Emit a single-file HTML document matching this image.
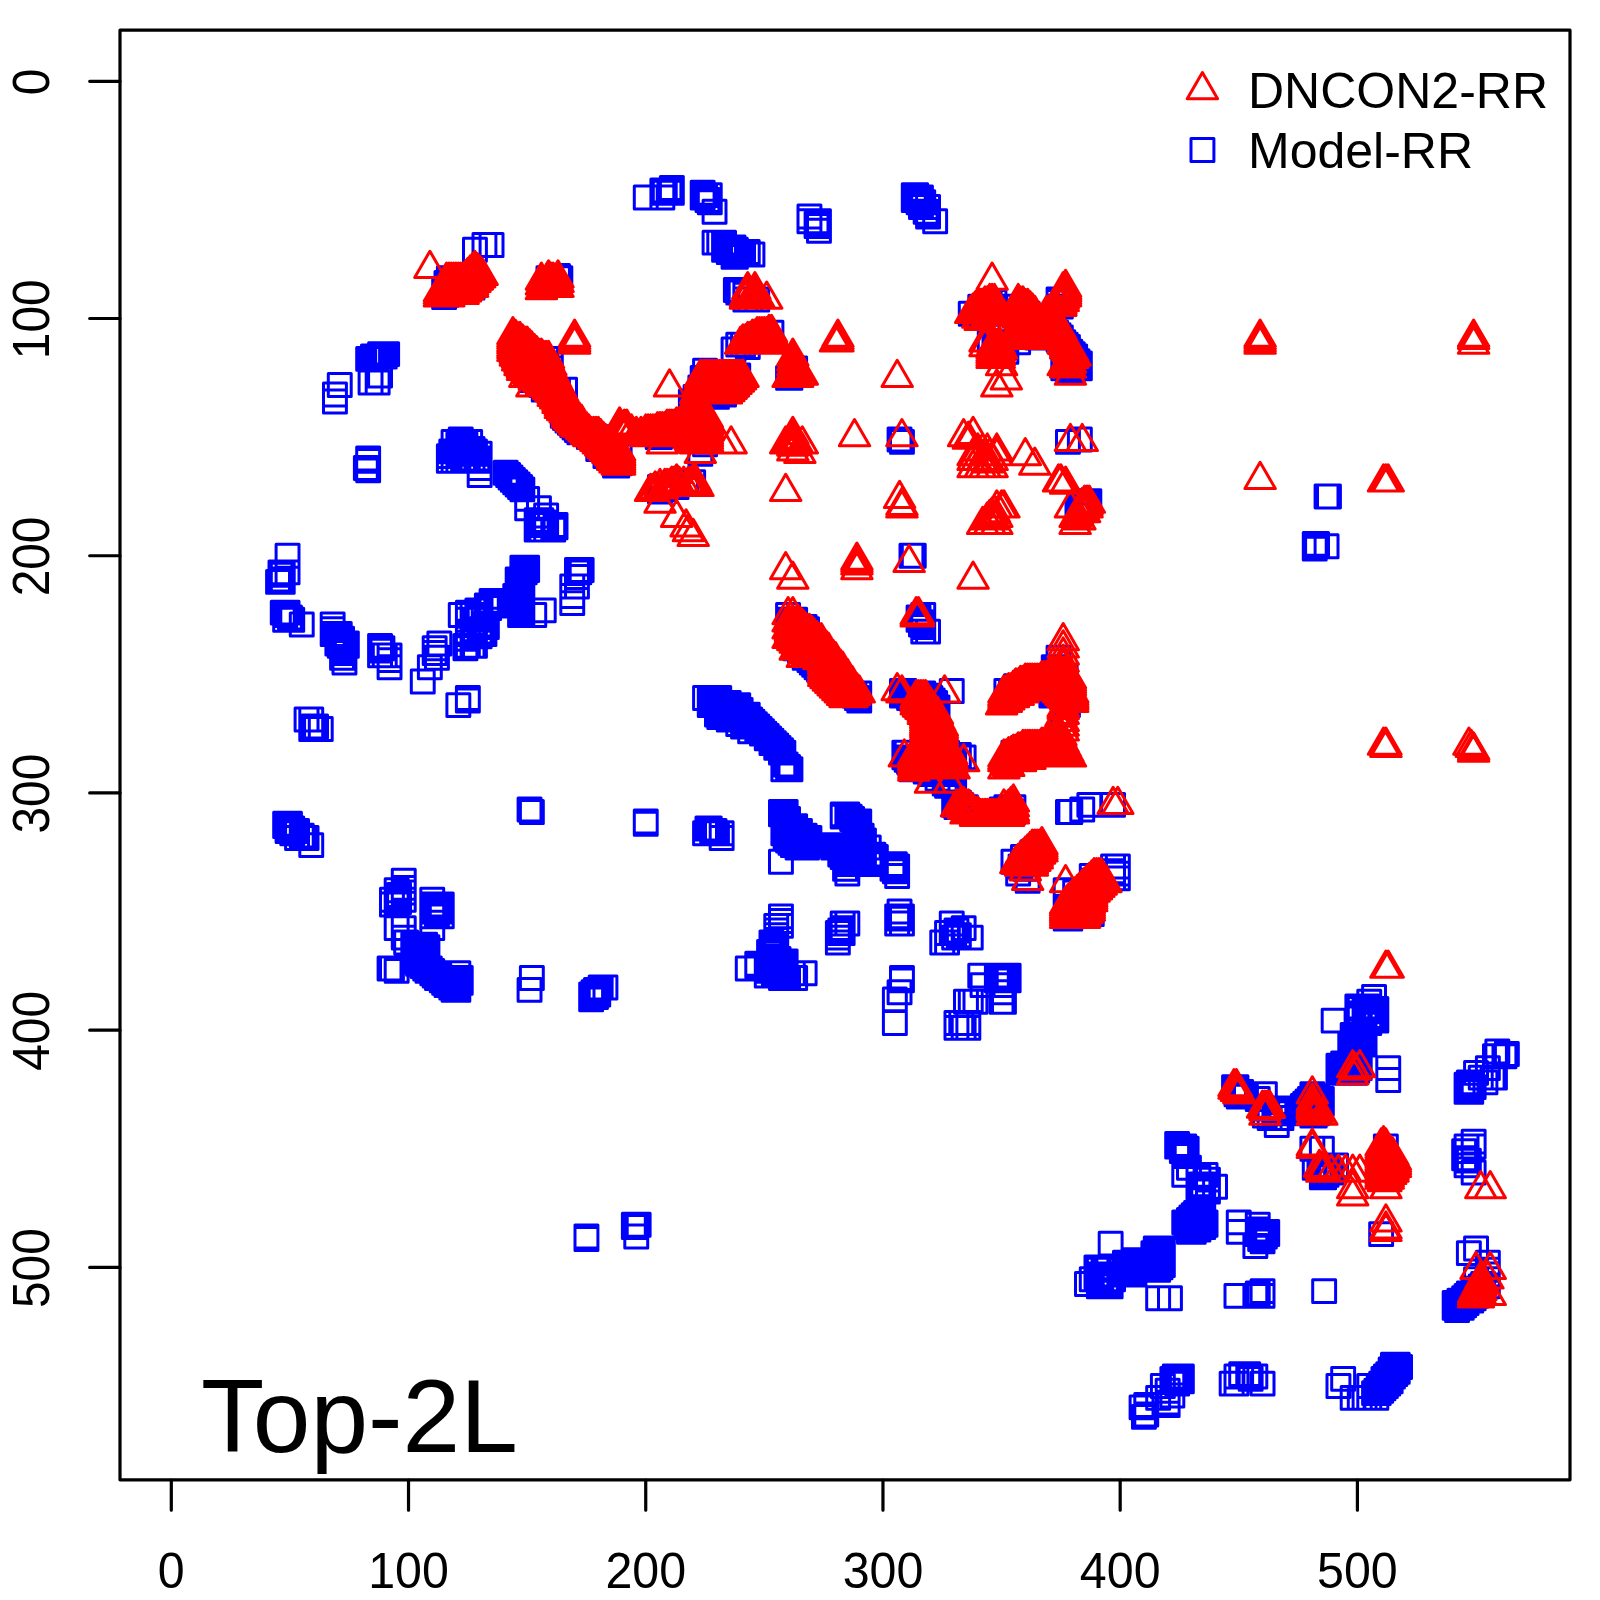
<!DOCTYPE html>
<html><head><meta charset="utf-8"><title>Top-2L</title>
<style>
html,body{margin:0;padding:0;background:#fff;}
body{width:1600px;height:1600px;overflow:hidden;font-family:"Liberation Sans",sans-serif;}
svg{display:block;}
text{font-family:"Liberation Sans",sans-serif;fill:#000;}
</style></head><body>
<svg width="1600" height="1600" viewBox="0 0 1600 1600">
<rect x="0" y="0" width="1600" height="1600" fill="#fff"/>

<g fill="none" stroke-width="3" stroke-linejoin="round" stroke-linecap="round">
<path stroke="#0000ff" d="M266.6 570.4h22.9v22.9h-22.9zM269 560.9h22.9v22.9h-22.9zM269 568h22.9v22.9h-22.9zM269 570.4h22.9v22.9h-22.9zM271.3 563.3h22.9v22.9h-22.9zM271.3 570.4h22.9v22.9h-22.9zM271.3 601.2h22.9v22.9h-22.9zM273.7 603.6h22.9v22.9h-22.9zM273.7 608.3h22.9v22.9h-22.9zM273.7 812.3h22.9v22.9h-22.9zM273.7 814.7h22.9v22.9h-22.9zM276.1 544.3h22.9v22.9h-22.9zM276.1 560.9h22.9v22.9h-22.9zM276.1 601.2h22.9v22.9h-22.9zM276.1 812.3h22.9v22.9h-22.9zM276.1 817.1h22.9v22.9h-22.9zM276.1 819.5h22.9v22.9h-22.9zM278.5 606h22.9v22.9h-22.9zM278.5 812.3h22.9v22.9h-22.9zM278.5 814.7h22.9v22.9h-22.9zM280.8 608.3h22.9v22.9h-22.9zM280.8 817.1h22.9v22.9h-22.9zM280.8 821.8h22.9v22.9h-22.9zM283.2 819.5h22.9v22.9h-22.9zM285.6 819.5h22.9v22.9h-22.9zM285.6 826.6h22.9v22.9h-22.9zM290.3 613.1h22.9v22.9h-22.9zM290.3 824.2h22.9v22.9h-22.9zM292.7 826.6h22.9v22.9h-22.9zM295.1 708h22.9v22.9h-22.9zM295.1 826.6h22.9v22.9h-22.9zM299.8 708h22.9v22.9h-22.9zM299.8 717.5h22.9v22.9h-22.9zM299.8 833.7h22.9v22.9h-22.9zM302.2 715.1h22.9v22.9h-22.9zM304.6 715.1h22.9v22.9h-22.9zM309.3 717.5h22.9v22.9h-22.9zM321.2 613.1h22.9v22.9h-22.9zM321.2 617.8h22.9v22.9h-22.9zM321.2 622.6h22.9v22.9h-22.9zM323.5 383h22.9v22.9h-22.9zM323.5 390.1h22.9v22.9h-22.9zM323.5 622.6h22.9v22.9h-22.9zM325.9 624.9h22.9v22.9h-22.9zM325.9 632.1h22.9v22.9h-22.9zM328.3 373.5h22.9v22.9h-22.9zM328.3 622.6h22.9v22.9h-22.9zM328.3 629.7h22.9v22.9h-22.9zM328.3 634.4h22.9v22.9h-22.9zM330.6 627.3h22.9v22.9h-22.9zM330.6 632.1h22.9v22.9h-22.9zM330.6 636.8h22.9v22.9h-22.9zM330.6 641.6h22.9v22.9h-22.9zM330.6 646.3h22.9v22.9h-22.9zM333 632.1h22.9v22.9h-22.9zM333 639.2h22.9v22.9h-22.9zM333 646.3h22.9v22.9h-22.9zM333 651h22.9v22.9h-22.9zM335.4 632.1h22.9v22.9h-22.9zM335.4 634.4h22.9v22.9h-22.9zM354.4 456.5h22.9v22.9h-22.9zM356.7 347.4h22.9v22.9h-22.9zM356.7 447h22.9v22.9h-22.9zM356.7 449.4h22.9v22.9h-22.9zM356.7 458.9h22.9v22.9h-22.9zM359.1 347.4h22.9v22.9h-22.9zM359.1 371.1h22.9v22.9h-22.9zM361.5 345h22.9v22.9h-22.9zM363.9 345h22.9v22.9h-22.9zM363.9 347.4h22.9v22.9h-22.9zM366.2 345h22.9v22.9h-22.9zM366.2 371.1h22.9v22.9h-22.9zM368.6 342.7h22.9v22.9h-22.9zM368.6 345h22.9v22.9h-22.9zM368.6 364h22.9v22.9h-22.9zM368.6 634.4h22.9v22.9h-22.9zM368.6 639.2h22.9v22.9h-22.9zM368.6 643.9h22.9v22.9h-22.9zM371 342.7h22.9v22.9h-22.9zM371 636.8h22.9v22.9h-22.9zM373.3 342.7h22.9v22.9h-22.9zM373.3 345h22.9v22.9h-22.9zM373.3 643.9h22.9v22.9h-22.9zM375.7 342.7h22.9v22.9h-22.9zM378.1 643.9h22.9v22.9h-22.9zM378.1 648.7h22.9v22.9h-22.9zM378.1 655.8h22.9v22.9h-22.9zM378.1 957.1h22.9v22.9h-22.9zM380.5 888.3h22.9v22.9h-22.9zM380.5 893h22.9v22.9h-22.9zM380.5 957.1h22.9v22.9h-22.9zM385.2 878.8h22.9v22.9h-22.9zM385.2 885.9h22.9v22.9h-22.9zM385.2 893h22.9v22.9h-22.9zM385.2 916.7h22.9v22.9h-22.9zM385.2 959.4h22.9v22.9h-22.9zM387.6 883.5h22.9v22.9h-22.9zM387.6 890.6h22.9v22.9h-22.9zM392.3 869.3h22.9v22.9h-22.9zM392.3 876.4h22.9v22.9h-22.9zM392.3 881.1h22.9v22.9h-22.9zM392.3 888.3h22.9v22.9h-22.9zM392.3 916.7h22.9v22.9h-22.9zM392.3 926.2h22.9v22.9h-22.9zM394.7 931h22.9v22.9h-22.9zM401.8 933.3h22.9v22.9h-22.9zM401.8 935.7h22.9v22.9h-22.9zM401.8 938.1h22.9v22.9h-22.9zM401.8 940.4h22.9v22.9h-22.9zM401.8 942.8h22.9v22.9h-22.9zM401.8 945.2h22.9v22.9h-22.9zM401.8 947.6h22.9v22.9h-22.9zM401.8 949.9h22.9v22.9h-22.9zM404.2 933.3h22.9v22.9h-22.9zM404.2 935.7h22.9v22.9h-22.9zM404.2 938.1h22.9v22.9h-22.9zM404.2 940.4h22.9v22.9h-22.9zM404.2 945.2h22.9v22.9h-22.9zM406.6 933.3h22.9v22.9h-22.9zM406.6 940.4h22.9v22.9h-22.9zM406.6 942.8h22.9v22.9h-22.9zM406.6 945.2h22.9v22.9h-22.9zM406.6 947.6h22.9v22.9h-22.9zM406.6 949.9h22.9v22.9h-22.9zM406.6 952.3h22.9v22.9h-22.9zM408.9 933.3h22.9v22.9h-22.9zM408.9 935.7h22.9v22.9h-22.9zM408.9 938.1h22.9v22.9h-22.9zM408.9 942.8h22.9v22.9h-22.9zM408.9 945.2h22.9v22.9h-22.9zM408.9 947.6h22.9v22.9h-22.9zM408.9 952.3h22.9v22.9h-22.9zM411.3 670h22.9v22.9h-22.9zM411.3 933.3h22.9v22.9h-22.9zM411.3 935.7h22.9v22.9h-22.9zM411.3 945.2h22.9v22.9h-22.9zM411.3 947.6h22.9v22.9h-22.9zM411.3 949.9h22.9v22.9h-22.9zM411.3 952.3h22.9v22.9h-22.9zM411.3 954.7h22.9v22.9h-22.9zM413.7 933.3h22.9v22.9h-22.9zM413.7 935.7h22.9v22.9h-22.9zM413.7 938.1h22.9v22.9h-22.9zM413.7 940.4h22.9v22.9h-22.9zM413.7 945.2h22.9v22.9h-22.9zM413.7 949.9h22.9v22.9h-22.9zM413.7 952.3h22.9v22.9h-22.9zM413.7 954.7h22.9v22.9h-22.9zM413.7 957.1h22.9v22.9h-22.9zM416 935.7h22.9v22.9h-22.9zM416 940.4h22.9v22.9h-22.9zM416 942.8h22.9v22.9h-22.9zM416 945.2h22.9v22.9h-22.9zM416 947.6h22.9v22.9h-22.9zM416 949.9h22.9v22.9h-22.9zM416 952.3h22.9v22.9h-22.9zM416 954.7h22.9v22.9h-22.9zM416 957.1h22.9v22.9h-22.9zM416 959.4h22.9v22.9h-22.9zM418.4 655.8h22.9v22.9h-22.9zM418.4 957.1h22.9v22.9h-22.9zM420.8 888.3h22.9v22.9h-22.9zM420.8 893h22.9v22.9h-22.9zM420.8 904.9h22.9v22.9h-22.9zM420.8 916.7h22.9v22.9h-22.9zM420.8 959.4h22.9v22.9h-22.9zM420.8 961.8h22.9v22.9h-22.9zM423.2 636.8h22.9v22.9h-22.9zM423.2 641.6h22.9v22.9h-22.9zM423.2 895.4h22.9v22.9h-22.9zM423.2 900.1h22.9v22.9h-22.9zM423.2 961.8h22.9v22.9h-22.9zM423.2 964.2h22.9v22.9h-22.9zM425.5 646.3h22.9v22.9h-22.9zM425.5 893h22.9v22.9h-22.9zM425.5 902.5h22.9v22.9h-22.9zM425.5 961.8h22.9v22.9h-22.9zM425.5 964.2h22.9v22.9h-22.9zM425.5 966.5h22.9v22.9h-22.9zM427.9 632.1h22.9v22.9h-22.9zM427.9 895.4h22.9v22.9h-22.9zM427.9 900.1h22.9v22.9h-22.9zM427.9 964.2h22.9v22.9h-22.9zM427.9 966.5h22.9v22.9h-22.9zM430.3 893h22.9v22.9h-22.9zM430.3 897.7h22.9v22.9h-22.9zM430.3 904.9h22.9v22.9h-22.9zM430.3 966.5h22.9v22.9h-22.9zM430.3 968.9h22.9v22.9h-22.9zM432.7 278.6h22.9v22.9h-22.9zM432.7 281h22.9v22.9h-22.9zM432.7 283.3h22.9v22.9h-22.9zM432.7 285.7h22.9v22.9h-22.9zM432.7 968.9h22.9v22.9h-22.9zM432.7 971.3h22.9v22.9h-22.9zM435 271.5h22.9v22.9h-22.9zM435 273.9h22.9v22.9h-22.9zM435 276.2h22.9v22.9h-22.9zM435 278.6h22.9v22.9h-22.9zM435 283.3h22.9v22.9h-22.9zM435 968.9h22.9v22.9h-22.9zM435 971.3h22.9v22.9h-22.9zM435 973.7h22.9v22.9h-22.9zM437.4 266.7h22.9v22.9h-22.9zM437.4 269.1h22.9v22.9h-22.9zM437.4 273.9h22.9v22.9h-22.9zM437.4 444.7h22.9v22.9h-22.9zM437.4 449.4h22.9v22.9h-22.9zM437.4 971.3h22.9v22.9h-22.9zM437.4 973.7h22.9v22.9h-22.9zM439.8 439.9h22.9v22.9h-22.9zM439.8 973.7h22.9v22.9h-22.9zM439.8 976h22.9v22.9h-22.9zM442.1 430.4h22.9v22.9h-22.9zM442.1 449.4h22.9v22.9h-22.9zM442.1 976h22.9v22.9h-22.9zM442.1 978.4h22.9v22.9h-22.9zM444.5 439.9h22.9v22.9h-22.9zM444.5 971.3h22.9v22.9h-22.9zM444.5 976h22.9v22.9h-22.9zM444.5 978.4h22.9v22.9h-22.9zM446.9 432.8h22.9v22.9h-22.9zM446.9 442.3h22.9v22.9h-22.9zM446.9 449.4h22.9v22.9h-22.9zM446.9 693.7h22.9v22.9h-22.9zM446.9 961.8h22.9v22.9h-22.9zM446.9 966.5h22.9v22.9h-22.9zM446.9 973.7h22.9v22.9h-22.9zM446.9 978.4h22.9v22.9h-22.9zM449.3 428.1h22.9v22.9h-22.9zM449.3 439.9h22.9v22.9h-22.9zM449.3 603.6h22.9v22.9h-22.9zM449.3 966.5h22.9v22.9h-22.9zM449.3 968.9h22.9v22.9h-22.9zM449.3 971.3h22.9v22.9h-22.9zM451.6 430.4h22.9v22.9h-22.9zM451.6 432.8h22.9v22.9h-22.9zM451.6 437.5h22.9v22.9h-22.9zM451.6 447h22.9v22.9h-22.9zM454 278.6h22.9v22.9h-22.9zM454 432.8h22.9v22.9h-22.9zM454 435.2h22.9v22.9h-22.9zM454 442.3h22.9v22.9h-22.9zM454 447h22.9v22.9h-22.9zM454 449.4h22.9v22.9h-22.9zM454 634.4h22.9v22.9h-22.9zM454 636.8h22.9v22.9h-22.9zM456.4 439.9h22.9v22.9h-22.9zM456.4 447h22.9v22.9h-22.9zM456.4 601.2h22.9v22.9h-22.9zM456.4 608.3h22.9v22.9h-22.9zM456.4 620.2h22.9v22.9h-22.9zM456.4 622.6h22.9v22.9h-22.9zM456.4 627.3h22.9v22.9h-22.9zM456.4 634.4h22.9v22.9h-22.9zM456.4 686.6h22.9v22.9h-22.9zM456.4 689h22.9v22.9h-22.9zM458.7 430.4h22.9v22.9h-22.9zM458.7 437.5h22.9v22.9h-22.9zM461.1 269.1h22.9v22.9h-22.9zM461.1 276.2h22.9v22.9h-22.9zM461.1 437.5h22.9v22.9h-22.9zM461.1 442.3h22.9v22.9h-22.9zM461.1 447h22.9v22.9h-22.9zM461.1 603.6h22.9v22.9h-22.9zM461.1 620.2h22.9v22.9h-22.9zM461.1 634.4h22.9v22.9h-22.9zM463.5 238.3h22.9v22.9h-22.9zM463.5 439.9h22.9v22.9h-22.9zM463.5 608.3h22.9v22.9h-22.9zM463.5 617.8h22.9v22.9h-22.9zM463.5 622.6h22.9v22.9h-22.9zM463.5 624.9h22.9v22.9h-22.9zM463.5 634.4h22.9v22.9h-22.9zM465.9 447h22.9v22.9h-22.9zM465.9 598.9h22.9v22.9h-22.9zM465.9 603.6h22.9v22.9h-22.9zM465.9 608.3h22.9v22.9h-22.9zM468.2 442.3h22.9v22.9h-22.9zM468.2 449.4h22.9v22.9h-22.9zM468.2 456.5h22.9v22.9h-22.9zM468.2 463.6h22.9v22.9h-22.9zM468.2 606h22.9v22.9h-22.9zM468.2 622.6h22.9v22.9h-22.9zM468.2 624.9h22.9v22.9h-22.9zM470.6 620.2h22.9v22.9h-22.9zM473 233.5h22.9v22.9h-22.9zM473 613.1h22.9v22.9h-22.9zM473 615.5h22.9v22.9h-22.9zM473 622.6h22.9v22.9h-22.9zM475.4 594.1h22.9v22.9h-22.9zM475.4 608.3h22.9v22.9h-22.9zM475.4 615.5h22.9v22.9h-22.9zM477.7 596.5h22.9v22.9h-22.9zM480.1 233.5h22.9v22.9h-22.9zM480.1 589.4h22.9v22.9h-22.9zM480.1 591.7h22.9v22.9h-22.9zM480.1 594.1h22.9v22.9h-22.9zM484.8 589.4h22.9v22.9h-22.9zM484.8 594.1h22.9v22.9h-22.9zM487.2 591.7h22.9v22.9h-22.9zM489.6 589.4h22.9v22.9h-22.9zM489.6 594.1h22.9v22.9h-22.9zM492 589.4h22.9v22.9h-22.9zM494.3 461.3h22.9v22.9h-22.9zM496.7 463.6h22.9v22.9h-22.9zM499.1 466h22.9v22.9h-22.9zM501.4 468.4h22.9v22.9h-22.9zM503.8 470.8h22.9v22.9h-22.9zM503.8 584.6h22.9v22.9h-22.9zM503.8 587h22.9v22.9h-22.9zM503.8 589.4h22.9v22.9h-22.9zM506.2 473.1h22.9v22.9h-22.9zM506.2 568h22.9v22.9h-22.9zM506.2 570.4h22.9v22.9h-22.9zM506.2 572.8h22.9v22.9h-22.9zM506.2 575.1h22.9v22.9h-22.9zM506.2 577.5h22.9v22.9h-22.9zM506.2 579.9h22.9v22.9h-22.9zM506.2 582.2h22.9v22.9h-22.9zM506.2 584.6h22.9v22.9h-22.9zM508.6 475.5h22.9v22.9h-22.9zM508.6 587h22.9v22.9h-22.9zM508.6 589.4h22.9v22.9h-22.9zM508.6 591.7h22.9v22.9h-22.9zM508.6 594.1h22.9v22.9h-22.9zM508.6 596.5h22.9v22.9h-22.9zM508.6 598.9h22.9v22.9h-22.9zM508.6 601.2h22.9v22.9h-22.9zM508.6 603.6h22.9v22.9h-22.9zM510.9 477.9h22.9v22.9h-22.9zM510.9 556.2h22.9v22.9h-22.9zM510.9 558.5h22.9v22.9h-22.9zM510.9 560.9h22.9v22.9h-22.9zM510.9 563.3h22.9v22.9h-22.9zM510.9 565.6h22.9v22.9h-22.9zM510.9 568h22.9v22.9h-22.9zM510.9 570.4h22.9v22.9h-22.9zM510.9 572.8h22.9v22.9h-22.9zM510.9 575.1h22.9v22.9h-22.9zM510.9 577.5h22.9v22.9h-22.9zM510.9 579.9h22.9v22.9h-22.9zM510.9 582.2h22.9v22.9h-22.9zM510.9 584.6h22.9v22.9h-22.9zM510.9 587h22.9v22.9h-22.9zM510.9 589.4h22.9v22.9h-22.9zM510.9 591.7h22.9v22.9h-22.9zM510.9 594.1h22.9v22.9h-22.9zM510.9 596.5h22.9v22.9h-22.9zM510.9 598.9h22.9v22.9h-22.9zM510.9 601.2h22.9v22.9h-22.9zM510.9 603.6h22.9v22.9h-22.9zM513.3 556.2h22.9v22.9h-22.9zM513.3 558.5h22.9v22.9h-22.9zM513.3 560.9h22.9v22.9h-22.9zM515.7 487.4h22.9v22.9h-22.9zM515.7 496.8h22.9v22.9h-22.9zM515.7 556.2h22.9v22.9h-22.9zM515.7 558.5h22.9v22.9h-22.9zM518.1 359.3h22.9v22.9h-22.9zM518.1 798.1h22.9v22.9h-22.9zM518.1 978.4h22.9v22.9h-22.9zM520.4 352.1h22.9v22.9h-22.9zM520.4 361.6h22.9v22.9h-22.9zM520.4 368.7h22.9v22.9h-22.9zM520.4 800.5h22.9v22.9h-22.9zM520.4 966.5h22.9v22.9h-22.9zM522.8 356.9h22.9v22.9h-22.9zM522.8 361.6h22.9v22.9h-22.9zM522.8 364h22.9v22.9h-22.9zM522.8 603.6h22.9v22.9h-22.9zM525.2 364h22.9v22.9h-22.9zM525.2 508.7h22.9v22.9h-22.9zM525.2 511.1h22.9v22.9h-22.9zM525.2 513.5h22.9v22.9h-22.9zM525.2 518.2h22.9v22.9h-22.9zM527.5 361.6h22.9v22.9h-22.9zM527.5 368.7h22.9v22.9h-22.9zM527.5 371.1h22.9v22.9h-22.9zM527.5 496.8h22.9v22.9h-22.9zM527.5 513.5h22.9v22.9h-22.9zM527.5 518.2h22.9v22.9h-22.9zM529.9 349.8h22.9v22.9h-22.9zM529.9 354.5h22.9v22.9h-22.9zM529.9 359.3h22.9v22.9h-22.9zM529.9 366.4h22.9v22.9h-22.9zM529.9 373.5h22.9v22.9h-22.9zM529.9 508.7h22.9v22.9h-22.9zM529.9 511.1h22.9v22.9h-22.9zM529.9 518.2h22.9v22.9h-22.9zM532.3 356.9h22.9v22.9h-22.9zM532.3 364h22.9v22.9h-22.9zM532.3 371.1h22.9v22.9h-22.9zM532.3 378.2h22.9v22.9h-22.9zM532.3 511.1h22.9v22.9h-22.9zM532.3 598.9h22.9v22.9h-22.9zM534.7 347.4h22.9v22.9h-22.9zM534.7 504h22.9v22.9h-22.9zM534.7 518.2h22.9v22.9h-22.9zM537 266.7h22.9v22.9h-22.9zM537 361.6h22.9v22.9h-22.9zM537 364h22.9v22.9h-22.9zM537 366.4h22.9v22.9h-22.9zM537 371.1h22.9v22.9h-22.9zM537 375.9h22.9v22.9h-22.9zM539.4 266.7h22.9v22.9h-22.9zM539.4 347.4h22.9v22.9h-22.9zM539.4 352.1h22.9v22.9h-22.9zM539.4 356.9h22.9v22.9h-22.9zM539.4 364h22.9v22.9h-22.9zM539.4 378.2h22.9v22.9h-22.9zM541.8 518.2h22.9v22.9h-22.9zM544.1 513.5h22.9v22.9h-22.9zM544.1 515.8h22.9v22.9h-22.9zM546.5 264.4h22.9v22.9h-22.9zM546.5 378.2h22.9v22.9h-22.9zM548.9 266.7h22.9v22.9h-22.9zM551.3 404.3h22.9v22.9h-22.9zM553.6 378.2h22.9v22.9h-22.9zM553.6 406.7h22.9v22.9h-22.9zM556 409.1h22.9v22.9h-22.9zM558.4 411.4h22.9v22.9h-22.9zM560.8 413.8h22.9v22.9h-22.9zM560.8 575.1h22.9v22.9h-22.9zM560.8 584.6h22.9v22.9h-22.9zM560.8 591.7h22.9v22.9h-22.9zM563.1 416.2h22.9v22.9h-22.9zM565.5 418.6h22.9v22.9h-22.9zM565.5 558.5h22.9v22.9h-22.9zM565.5 565.6h22.9v22.9h-22.9zM565.5 575.1h22.9v22.9h-22.9zM567.9 420.9h22.9v22.9h-22.9zM567.9 560.9h22.9v22.9h-22.9zM570.2 558.5h22.9v22.9h-22.9zM575 1225.1h22.9v22.9h-22.9zM575 1227.5h22.9v22.9h-22.9zM577.4 425.7h22.9v22.9h-22.9zM579.7 983.1h22.9v22.9h-22.9zM579.7 987.9h22.9v22.9h-22.9zM582.1 980.8h22.9v22.9h-22.9zM582.1 985.5h22.9v22.9h-22.9zM584.5 978.4h22.9v22.9h-22.9zM584.5 985.5h22.9v22.9h-22.9zM586.8 425.7h22.9v22.9h-22.9zM586.8 437.5h22.9v22.9h-22.9zM586.8 978.4h22.9v22.9h-22.9zM586.8 983.1h22.9v22.9h-22.9zM589.2 976h22.9v22.9h-22.9zM594 444.7h22.9v22.9h-22.9zM594 976h22.9v22.9h-22.9zM598.7 435.2h22.9v22.9h-22.9zM598.7 439.9h22.9v22.9h-22.9zM601.1 435.2h22.9v22.9h-22.9zM601.1 439.9h22.9v22.9h-22.9zM601.1 442.3h22.9v22.9h-22.9zM603.5 435.2h22.9v22.9h-22.9zM603.5 437.5h22.9v22.9h-22.9zM603.5 454.1h22.9v22.9h-22.9zM605.8 454.1h22.9v22.9h-22.9zM608.2 435.2h22.9v22.9h-22.9zM608.2 437.5h22.9v22.9h-22.9zM608.2 439.9h22.9v22.9h-22.9zM608.2 444.7h22.9v22.9h-22.9zM608.2 451.8h22.9v22.9h-22.9zM622.4 1213.3h22.9v22.9h-22.9zM622.4 1215.6h22.9v22.9h-22.9zM624.8 1215.6h22.9v22.9h-22.9zM624.8 1225.1h22.9v22.9h-22.9zM627.2 1213.3h22.9v22.9h-22.9zM634.3 186.1h22.9v22.9h-22.9zM634.3 810h22.9v22.9h-22.9zM634.3 812.3h22.9v22.9h-22.9zM646.2 420.9h22.9v22.9h-22.9zM646.2 423.3h22.9v22.9h-22.9zM646.2 425.7h22.9v22.9h-22.9zM648.5 420.9h22.9v22.9h-22.9zM648.5 423.3h22.9v22.9h-22.9zM648.5 425.7h22.9v22.9h-22.9zM648.5 475.5h22.9v22.9h-22.9zM648.5 480.2h22.9v22.9h-22.9zM650.9 179h22.9v22.9h-22.9zM650.9 186.1h22.9v22.9h-22.9zM650.9 420.9h22.9v22.9h-22.9zM650.9 423.3h22.9v22.9h-22.9zM650.9 477.9h22.9v22.9h-22.9zM653.3 181.3h22.9v22.9h-22.9zM653.3 420.9h22.9v22.9h-22.9zM655.6 420.9h22.9v22.9h-22.9zM655.6 475.5h22.9v22.9h-22.9zM658 179h22.9v22.9h-22.9zM658 416.2h22.9v22.9h-22.9zM658 420.9h22.9v22.9h-22.9zM660.4 176.6h22.9v22.9h-22.9zM660.4 179h22.9v22.9h-22.9zM660.4 181.3h22.9v22.9h-22.9zM660.4 416.2h22.9v22.9h-22.9zM660.4 420.9h22.9v22.9h-22.9zM662.8 416.2h22.9v22.9h-22.9zM662.8 420.9h22.9v22.9h-22.9zM665.1 416.2h22.9v22.9h-22.9zM665.1 420.9h22.9v22.9h-22.9zM665.1 470.8h22.9v22.9h-22.9zM665.1 475.5h22.9v22.9h-22.9zM667.5 416.2h22.9v22.9h-22.9zM667.5 420.9h22.9v22.9h-22.9zM669.9 416.2h22.9v22.9h-22.9zM669.9 420.9h22.9v22.9h-22.9zM672.2 416.2h22.9v22.9h-22.9zM672.2 420.9h22.9v22.9h-22.9zM674.6 413.8h22.9v22.9h-22.9zM674.6 416.2h22.9v22.9h-22.9zM674.6 420.9h22.9v22.9h-22.9zM674.6 470.8h22.9v22.9h-22.9zM677 413.8h22.9v22.9h-22.9zM677 418.6h22.9v22.9h-22.9zM677 420.9h22.9v22.9h-22.9zM679.4 390.1h22.9v22.9h-22.9zM679.4 394.8h22.9v22.9h-22.9zM679.4 399.6h22.9v22.9h-22.9zM679.4 402h22.9v22.9h-22.9zM679.4 413.8h22.9v22.9h-22.9zM679.4 418.6h22.9v22.9h-22.9zM679.4 420.9h22.9v22.9h-22.9zM681.7 390.1h22.9v22.9h-22.9zM681.7 397.2h22.9v22.9h-22.9zM681.7 418.6h22.9v22.9h-22.9zM681.7 420.9h22.9v22.9h-22.9zM681.7 470.8h22.9v22.9h-22.9zM684.1 385.4h22.9v22.9h-22.9zM684.1 390.1h22.9v22.9h-22.9zM684.1 394.8h22.9v22.9h-22.9zM684.1 399.6h22.9v22.9h-22.9zM684.1 418.6h22.9v22.9h-22.9zM684.1 420.9h22.9v22.9h-22.9zM686.5 387.7h22.9v22.9h-22.9zM686.5 418.6h22.9v22.9h-22.9zM686.5 420.9h22.9v22.9h-22.9zM688.9 375.9h22.9v22.9h-22.9zM688.9 418.6h22.9v22.9h-22.9zM688.9 420.9h22.9v22.9h-22.9zM688.9 442.3h22.9v22.9h-22.9zM691.2 181.3h22.9v22.9h-22.9zM691.2 186.1h22.9v22.9h-22.9zM691.2 366.4h22.9v22.9h-22.9zM691.2 418.6h22.9v22.9h-22.9zM691.2 420.9h22.9v22.9h-22.9zM693.6 183.7h22.9v22.9h-22.9zM693.6 359.3h22.9v22.9h-22.9zM693.6 371.1h22.9v22.9h-22.9zM693.6 375.9h22.9v22.9h-22.9zM693.6 418.6h22.9v22.9h-22.9zM693.6 420.9h22.9v22.9h-22.9zM693.6 432.8h22.9v22.9h-22.9zM693.6 686.6h22.9v22.9h-22.9zM693.6 821.8h22.9v22.9h-22.9zM696 188.5h22.9v22.9h-22.9zM696 378.2h22.9v22.9h-22.9zM696 817.1h22.9v22.9h-22.9zM698.3 183.7h22.9v22.9h-22.9zM698.3 190.8h22.9v22.9h-22.9zM698.3 366.4h22.9v22.9h-22.9zM698.3 373.5h22.9v22.9h-22.9zM698.3 375.9h22.9v22.9h-22.9zM698.3 385.4h22.9v22.9h-22.9zM698.3 686.6h22.9v22.9h-22.9zM698.3 689h22.9v22.9h-22.9zM698.3 691.4h22.9v22.9h-22.9zM698.3 693.7h22.9v22.9h-22.9zM698.3 817.1h22.9v22.9h-22.9zM700.7 686.6h22.9v22.9h-22.9zM700.7 691.4h22.9v22.9h-22.9zM700.7 693.7h22.9v22.9h-22.9zM700.7 819.5h22.9v22.9h-22.9zM703.1 200.3h22.9v22.9h-22.9zM703.1 231.2h22.9v22.9h-22.9zM703.1 383h22.9v22.9h-22.9zM703.1 686.6h22.9v22.9h-22.9zM703.1 689h22.9v22.9h-22.9zM703.1 691.4h22.9v22.9h-22.9zM703.1 819.5h22.9v22.9h-22.9zM705.5 383h22.9v22.9h-22.9zM705.5 385.4h22.9v22.9h-22.9zM705.5 689h22.9v22.9h-22.9zM705.5 703.2h22.9v22.9h-22.9zM705.5 821.8h22.9v22.9h-22.9zM707.8 231.2h22.9v22.9h-22.9zM707.8 373.5h22.9v22.9h-22.9zM707.8 686.6h22.9v22.9h-22.9zM707.8 689h22.9v22.9h-22.9zM707.8 705.6h22.9v22.9h-22.9zM710.2 366.4h22.9v22.9h-22.9zM710.2 371.1h22.9v22.9h-22.9zM710.2 380.6h22.9v22.9h-22.9zM710.2 693.7h22.9v22.9h-22.9zM710.2 696.1h22.9v22.9h-22.9zM710.2 700.9h22.9v22.9h-22.9zM710.2 705.6h22.9v22.9h-22.9zM710.2 821.8h22.9v22.9h-22.9zM710.2 826.6h22.9v22.9h-22.9zM712.6 231.2h22.9v22.9h-22.9zM712.6 233.5h22.9v22.9h-22.9zM712.6 238.3h22.9v22.9h-22.9zM712.6 366.4h22.9v22.9h-22.9zM712.6 373.5h22.9v22.9h-22.9zM712.6 378.2h22.9v22.9h-22.9zM712.6 383h22.9v22.9h-22.9zM712.6 691.4h22.9v22.9h-22.9zM712.6 696.1h22.9v22.9h-22.9zM712.6 698.5h22.9v22.9h-22.9zM712.6 700.9h22.9v22.9h-22.9zM712.6 703.2h22.9v22.9h-22.9zM712.6 705.6h22.9v22.9h-22.9zM714.9 235.9h22.9v22.9h-22.9zM714.9 373.5h22.9v22.9h-22.9zM714.9 378.2h22.9v22.9h-22.9zM714.9 700.9h22.9v22.9h-22.9zM714.9 703.2h22.9v22.9h-22.9zM717.3 240.6h22.9v22.9h-22.9zM717.3 366.4h22.9v22.9h-22.9zM717.3 691.4h22.9v22.9h-22.9zM717.3 703.2h22.9v22.9h-22.9zM717.3 708h22.9v22.9h-22.9zM719.7 238.3h22.9v22.9h-22.9zM719.7 696.1h22.9v22.9h-22.9zM719.7 705.6h22.9v22.9h-22.9zM722.1 235.9h22.9v22.9h-22.9zM722.1 240.6h22.9v22.9h-22.9zM722.1 243h22.9v22.9h-22.9zM722.1 245.4h22.9v22.9h-22.9zM722.1 337.9h22.9v22.9h-22.9zM722.1 698.5h22.9v22.9h-22.9zM722.1 703.2h22.9v22.9h-22.9zM722.1 705.6h22.9v22.9h-22.9zM722.1 708h22.9v22.9h-22.9zM724.4 238.3h22.9v22.9h-22.9zM724.4 245.4h22.9v22.9h-22.9zM724.4 278.6h22.9v22.9h-22.9zM724.4 364h22.9v22.9h-22.9zM724.4 366.4h22.9v22.9h-22.9zM724.4 371.1h22.9v22.9h-22.9zM724.4 373.5h22.9v22.9h-22.9zM724.4 693.7h22.9v22.9h-22.9zM724.4 696.1h22.9v22.9h-22.9zM724.4 698.5h22.9v22.9h-22.9zM724.4 708h22.9v22.9h-22.9zM726.8 240.6h22.9v22.9h-22.9zM726.8 281h22.9v22.9h-22.9zM726.8 333.2h22.9v22.9h-22.9zM726.8 364h22.9v22.9h-22.9zM726.8 693.7h22.9v22.9h-22.9zM726.8 696.1h22.9v22.9h-22.9zM726.8 698.5h22.9v22.9h-22.9zM726.8 703.2h22.9v22.9h-22.9zM726.8 705.6h22.9v22.9h-22.9zM726.8 708h22.9v22.9h-22.9zM726.8 712.7h22.9v22.9h-22.9zM729.2 243h22.9v22.9h-22.9zM729.2 278.6h22.9v22.9h-22.9zM729.2 698.5h22.9v22.9h-22.9zM729.2 703.2h22.9v22.9h-22.9zM729.2 705.6h22.9v22.9h-22.9zM731.6 240.6h22.9v22.9h-22.9zM731.6 333.2h22.9v22.9h-22.9zM731.6 703.2h22.9v22.9h-22.9zM731.6 705.6h22.9v22.9h-22.9zM731.6 715.1h22.9v22.9h-22.9zM733.9 278.6h22.9v22.9h-22.9zM733.9 283.3h22.9v22.9h-22.9zM733.9 288.1h22.9v22.9h-22.9zM733.9 705.6h22.9v22.9h-22.9zM733.9 710.3h22.9v22.9h-22.9zM733.9 712.7h22.9v22.9h-22.9zM733.9 715.1h22.9v22.9h-22.9zM736.3 240.6h22.9v22.9h-22.9zM736.3 243h22.9v22.9h-22.9zM736.3 335.5h22.9v22.9h-22.9zM736.3 703.2h22.9v22.9h-22.9zM736.3 705.6h22.9v22.9h-22.9zM736.3 708h22.9v22.9h-22.9zM736.3 712.7h22.9v22.9h-22.9zM736.3 957.1h22.9v22.9h-22.9zM738.7 288.1h22.9v22.9h-22.9zM738.7 708h22.9v22.9h-22.9zM738.7 719.8h22.9v22.9h-22.9zM741 243h22.9v22.9h-22.9zM741 710.3h22.9v22.9h-22.9zM741 712.7h22.9v22.9h-22.9zM743.4 712.7h22.9v22.9h-22.9zM745.8 288.1h22.9v22.9h-22.9zM745.8 328.4h22.9v22.9h-22.9zM745.8 715.1h22.9v22.9h-22.9zM745.8 717.5h22.9v22.9h-22.9zM745.8 952.3h22.9v22.9h-22.9zM745.8 954.7h22.9v22.9h-22.9zM748.2 717.5h22.9v22.9h-22.9zM750.5 719.8h22.9v22.9h-22.9zM750.5 722.2h22.9v22.9h-22.9zM752.9 722.2h22.9v22.9h-22.9zM755.3 724.6h22.9v22.9h-22.9zM755.3 726.9h22.9v22.9h-22.9zM755.3 954.7h22.9v22.9h-22.9zM755.3 964.2h22.9v22.9h-22.9zM757.6 726.9h22.9v22.9h-22.9zM757.6 940.4h22.9v22.9h-22.9zM757.6 945.2h22.9v22.9h-22.9zM757.6 947.6h22.9v22.9h-22.9zM757.6 949.9h22.9v22.9h-22.9zM757.6 954.7h22.9v22.9h-22.9zM757.6 959.4h22.9v22.9h-22.9zM760 321.3h22.9v22.9h-22.9zM760 729.3h22.9v22.9h-22.9zM760 731.7h22.9v22.9h-22.9zM760 931h22.9v22.9h-22.9zM760 935.7h22.9v22.9h-22.9zM760 947.6h22.9v22.9h-22.9zM760 952.3h22.9v22.9h-22.9zM760 959.4h22.9v22.9h-22.9zM762.4 731.7h22.9v22.9h-22.9zM762.4 933.3h22.9v22.9h-22.9zM762.4 938.1h22.9v22.9h-22.9zM762.4 949.9h22.9v22.9h-22.9zM762.4 959.4h22.9v22.9h-22.9zM762.4 961.8h22.9v22.9h-22.9zM764.8 734.1h22.9v22.9h-22.9zM764.8 736.4h22.9v22.9h-22.9zM764.8 914.4h22.9v22.9h-22.9zM764.8 919.1h22.9v22.9h-22.9zM764.8 923.8h22.9v22.9h-22.9zM764.8 928.6h22.9v22.9h-22.9zM764.8 947.6h22.9v22.9h-22.9zM764.8 952.3h22.9v22.9h-22.9zM764.8 961.8h22.9v22.9h-22.9zM764.8 964.2h22.9v22.9h-22.9zM767.1 736.4h22.9v22.9h-22.9zM767.1 947.6h22.9v22.9h-22.9zM767.1 952.3h22.9v22.9h-22.9zM767.1 957.1h22.9v22.9h-22.9zM767.1 964.2h22.9v22.9h-22.9zM769.5 738.8h22.9v22.9h-22.9zM769.5 741.2h22.9v22.9h-22.9zM769.5 800.5h22.9v22.9h-22.9zM769.5 802.9h22.9v22.9h-22.9zM769.5 850.3h22.9v22.9h-22.9zM769.5 904.9h22.9v22.9h-22.9zM769.5 909.6h22.9v22.9h-22.9zM769.5 914.4h22.9v22.9h-22.9zM769.5 954.7h22.9v22.9h-22.9zM769.5 957.1h22.9v22.9h-22.9zM769.5 961.8h22.9v22.9h-22.9zM769.5 966.5h22.9v22.9h-22.9zM771.9 741.2h22.9v22.9h-22.9zM771.9 757.8h22.9v22.9h-22.9zM771.9 802.9h22.9v22.9h-22.9zM771.9 805.2h22.9v22.9h-22.9zM771.9 812.3h22.9v22.9h-22.9zM771.9 814.7h22.9v22.9h-22.9zM771.9 821.8h22.9v22.9h-22.9zM771.9 952.3h22.9v22.9h-22.9zM771.9 959.4h22.9v22.9h-22.9zM771.9 961.8h22.9v22.9h-22.9zM774.2 753h22.9v22.9h-22.9zM774.2 800.5h22.9v22.9h-22.9zM774.2 805.2h22.9v22.9h-22.9zM774.2 810h22.9v22.9h-22.9zM774.2 812.3h22.9v22.9h-22.9zM774.2 817.1h22.9v22.9h-22.9zM774.2 819.5h22.9v22.9h-22.9zM774.2 826.6h22.9v22.9h-22.9zM774.2 949.9h22.9v22.9h-22.9zM774.2 952.3h22.9v22.9h-22.9zM774.2 957.1h22.9v22.9h-22.9zM774.2 959.4h22.9v22.9h-22.9zM774.2 961.8h22.9v22.9h-22.9zM774.2 964.2h22.9v22.9h-22.9zM776.6 366.4h22.9v22.9h-22.9zM776.6 603.6h22.9v22.9h-22.9zM776.6 608.3h22.9v22.9h-22.9zM776.6 610.7h22.9v22.9h-22.9zM776.6 613.1h22.9v22.9h-22.9zM776.6 617.8h22.9v22.9h-22.9zM776.6 755.4h22.9v22.9h-22.9zM776.6 807.6h22.9v22.9h-22.9zM776.6 812.3h22.9v22.9h-22.9zM776.6 817.1h22.9v22.9h-22.9zM776.6 819.5h22.9v22.9h-22.9zM776.6 821.8h22.9v22.9h-22.9zM776.6 824.2h22.9v22.9h-22.9zM776.6 829h22.9v22.9h-22.9zM776.6 966.5h22.9v22.9h-22.9zM779 366.4h22.9v22.9h-22.9zM779 608.3h22.9v22.9h-22.9zM779 613.1h22.9v22.9h-22.9zM779 615.5h22.9v22.9h-22.9zM779 617.8h22.9v22.9h-22.9zM779 757.8h22.9v22.9h-22.9zM779 821.8h22.9v22.9h-22.9zM779 829h22.9v22.9h-22.9zM779 831.3h22.9v22.9h-22.9zM781.4 608.3h22.9v22.9h-22.9zM781.4 610.7h22.9v22.9h-22.9zM781.4 613.1h22.9v22.9h-22.9zM781.4 622.6h22.9v22.9h-22.9zM781.4 627.3h22.9v22.9h-22.9zM781.4 817.1h22.9v22.9h-22.9zM781.4 821.8h22.9v22.9h-22.9zM781.4 829h22.9v22.9h-22.9zM781.4 833.7h22.9v22.9h-22.9zM781.4 961.8h22.9v22.9h-22.9zM783.7 356.9h22.9v22.9h-22.9zM783.7 608.3h22.9v22.9h-22.9zM783.7 610.7h22.9v22.9h-22.9zM783.7 620.2h22.9v22.9h-22.9zM783.7 634.4h22.9v22.9h-22.9zM783.7 636.8h22.9v22.9h-22.9zM783.7 814.7h22.9v22.9h-22.9zM783.7 817.1h22.9v22.9h-22.9zM783.7 821.8h22.9v22.9h-22.9zM783.7 826.6h22.9v22.9h-22.9zM783.7 966.5h22.9v22.9h-22.9zM786.1 620.2h22.9v22.9h-22.9zM786.1 622.6h22.9v22.9h-22.9zM786.1 629.7h22.9v22.9h-22.9zM786.1 634.4h22.9v22.9h-22.9zM786.1 636.8h22.9v22.9h-22.9zM786.1 824.2h22.9v22.9h-22.9zM786.1 829h22.9v22.9h-22.9zM786.1 836.1h22.9v22.9h-22.9zM788.5 622.6h22.9v22.9h-22.9zM788.5 632.1h22.9v22.9h-22.9zM788.5 634.4h22.9v22.9h-22.9zM788.5 636.8h22.9v22.9h-22.9zM788.5 639.2h22.9v22.9h-22.9zM788.5 819.5h22.9v22.9h-22.9zM788.5 821.8h22.9v22.9h-22.9zM788.5 826.6h22.9v22.9h-22.9zM788.5 836.1h22.9v22.9h-22.9zM790.9 620.2h22.9v22.9h-22.9zM790.9 622.6h22.9v22.9h-22.9zM790.9 624.9h22.9v22.9h-22.9zM790.9 826.6h22.9v22.9h-22.9zM790.9 829h22.9v22.9h-22.9zM790.9 831.3h22.9v22.9h-22.9zM790.9 836.1h22.9v22.9h-22.9zM793.2 615.5h22.9v22.9h-22.9zM793.2 622.6h22.9v22.9h-22.9zM793.2 624.9h22.9v22.9h-22.9zM793.2 627.3h22.9v22.9h-22.9zM793.2 632.1h22.9v22.9h-22.9zM793.2 636.8h22.9v22.9h-22.9zM793.2 639.2h22.9v22.9h-22.9zM793.2 641.6h22.9v22.9h-22.9zM793.2 646.3h22.9v22.9h-22.9zM793.2 824.2h22.9v22.9h-22.9zM793.2 826.6h22.9v22.9h-22.9zM793.2 829h22.9v22.9h-22.9zM793.2 831.3h22.9v22.9h-22.9zM793.2 836.1h22.9v22.9h-22.9zM793.2 961.8h22.9v22.9h-22.9zM795.6 617.8h22.9v22.9h-22.9zM795.6 620.2h22.9v22.9h-22.9zM795.6 622.6h22.9v22.9h-22.9zM795.6 629.7h22.9v22.9h-22.9zM795.6 632.1h22.9v22.9h-22.9zM795.6 636.8h22.9v22.9h-22.9zM795.6 639.2h22.9v22.9h-22.9zM795.6 641.6h22.9v22.9h-22.9zM795.6 643.9h22.9v22.9h-22.9zM795.6 646.3h22.9v22.9h-22.9zM795.6 826.6h22.9v22.9h-22.9zM795.6 831.3h22.9v22.9h-22.9zM795.6 833.7h22.9v22.9h-22.9zM795.6 836.1h22.9v22.9h-22.9zM798 205.1h22.9v22.9h-22.9zM798 209.8h22.9v22.9h-22.9zM798 627.3h22.9v22.9h-22.9zM798 632.1h22.9v22.9h-22.9zM798 634.4h22.9v22.9h-22.9zM798 636.8h22.9v22.9h-22.9zM798 646.3h22.9v22.9h-22.9zM798 648.7h22.9v22.9h-22.9zM798 826.6h22.9v22.9h-22.9zM798 829h22.9v22.9h-22.9zM798 831.3h22.9v22.9h-22.9zM798 833.7h22.9v22.9h-22.9zM800.3 643.9h22.9v22.9h-22.9zM800.3 651h22.9v22.9h-22.9zM802.7 636.8h22.9v22.9h-22.9zM802.7 643.9h22.9v22.9h-22.9zM802.7 646.3h22.9v22.9h-22.9zM802.7 651h22.9v22.9h-22.9zM802.7 653.4h22.9v22.9h-22.9zM805.1 212.2h22.9v22.9h-22.9zM805.1 214.6h22.9v22.9h-22.9zM805.1 641.6h22.9v22.9h-22.9zM805.1 643.9h22.9v22.9h-22.9zM805.1 655.8h22.9v22.9h-22.9zM807.5 209.8h22.9v22.9h-22.9zM807.5 219.3h22.9v22.9h-22.9zM807.5 655.8h22.9v22.9h-22.9zM807.5 658.2h22.9v22.9h-22.9zM809.8 648.7h22.9v22.9h-22.9zM809.8 660.5h22.9v22.9h-22.9zM812.2 660.5h22.9v22.9h-22.9zM812.2 662.9h22.9v22.9h-22.9zM814.6 665.3h22.9v22.9h-22.9zM816.9 665.3h22.9v22.9h-22.9zM816.9 667.6h22.9v22.9h-22.9zM819.3 670h22.9v22.9h-22.9zM821.7 670h22.9v22.9h-22.9zM821.7 672.4h22.9v22.9h-22.9zM821.7 833.7h22.9v22.9h-22.9zM821.7 836.1h22.9v22.9h-22.9zM824.1 674.8h22.9v22.9h-22.9zM824.1 836.1h22.9v22.9h-22.9zM826.4 674.8h22.9v22.9h-22.9zM826.4 677.1h22.9v22.9h-22.9zM826.4 833.7h22.9v22.9h-22.9zM826.4 921.5h22.9v22.9h-22.9zM826.4 926.2h22.9v22.9h-22.9zM826.4 931h22.9v22.9h-22.9zM828.8 679.5h22.9v22.9h-22.9zM828.8 836.1h22.9v22.9h-22.9zM828.8 838.4h22.9v22.9h-22.9zM828.8 843.2h22.9v22.9h-22.9zM828.8 919.1h22.9v22.9h-22.9zM831.2 679.5h22.9v22.9h-22.9zM831.2 681.9h22.9v22.9h-22.9zM831.2 802.9h22.9v22.9h-22.9zM831.2 805.2h22.9v22.9h-22.9zM831.2 833.7h22.9v22.9h-22.9zM831.2 836.1h22.9v22.9h-22.9zM831.2 845.6h22.9v22.9h-22.9zM831.2 912h22.9v22.9h-22.9zM831.2 916.7h22.9v22.9h-22.9zM831.2 921.5h22.9v22.9h-22.9zM833.6 836.1h22.9v22.9h-22.9zM833.6 838.4h22.9v22.9h-22.9zM833.6 840.8h22.9v22.9h-22.9zM833.6 843.2h22.9v22.9h-22.9zM833.6 845.6h22.9v22.9h-22.9zM833.6 847.9h22.9v22.9h-22.9zM833.6 857.4h22.9v22.9h-22.9zM835.9 802.9h22.9v22.9h-22.9zM835.9 833.7h22.9v22.9h-22.9zM835.9 836.1h22.9v22.9h-22.9zM835.9 843.2h22.9v22.9h-22.9zM835.9 850.3h22.9v22.9h-22.9zM835.9 852.7h22.9v22.9h-22.9zM835.9 857.4h22.9v22.9h-22.9zM835.9 862.2h22.9v22.9h-22.9zM835.9 912h22.9v22.9h-22.9zM838.3 805.2h22.9v22.9h-22.9zM838.3 836.1h22.9v22.9h-22.9zM838.3 838.4h22.9v22.9h-22.9zM838.3 840.8h22.9v22.9h-22.9zM838.3 850.3h22.9v22.9h-22.9zM838.3 852.7h22.9v22.9h-22.9zM840.7 807.6h22.9v22.9h-22.9zM840.7 836.1h22.9v22.9h-22.9zM840.7 838.4h22.9v22.9h-22.9zM840.7 840.8h22.9v22.9h-22.9zM840.7 843.2h22.9v22.9h-22.9zM840.7 847.9h22.9v22.9h-22.9zM840.7 850.3h22.9v22.9h-22.9zM840.7 852.7h22.9v22.9h-22.9zM843 684.2h22.9v22.9h-22.9zM843 810h22.9v22.9h-22.9zM843 817.1h22.9v22.9h-22.9zM843 824.2h22.9v22.9h-22.9zM843 833.7h22.9v22.9h-22.9zM843 838.4h22.9v22.9h-22.9zM843 840.8h22.9v22.9h-22.9zM843 843.2h22.9v22.9h-22.9zM843 847.9h22.9v22.9h-22.9zM843 852.7h22.9v22.9h-22.9zM845.4 686.6h22.9v22.9h-22.9zM845.4 810h22.9v22.9h-22.9zM845.4 814.7h22.9v22.9h-22.9zM845.4 821.8h22.9v22.9h-22.9zM845.4 833.7h22.9v22.9h-22.9zM845.4 836.1h22.9v22.9h-22.9zM845.4 843.2h22.9v22.9h-22.9zM845.4 845.6h22.9v22.9h-22.9zM845.4 847.9h22.9v22.9h-22.9zM845.4 850.3h22.9v22.9h-22.9zM847.8 681.9h22.9v22.9h-22.9zM847.8 689h22.9v22.9h-22.9zM847.8 810h22.9v22.9h-22.9zM847.8 812.3h22.9v22.9h-22.9zM847.8 819.5h22.9v22.9h-22.9zM847.8 824.2h22.9v22.9h-22.9zM847.8 829h22.9v22.9h-22.9zM847.8 838.4h22.9v22.9h-22.9zM847.8 840.8h22.9v22.9h-22.9zM847.8 847.9h22.9v22.9h-22.9zM847.8 850.3h22.9v22.9h-22.9zM847.8 852.7h22.9v22.9h-22.9zM850.2 824.2h22.9v22.9h-22.9zM850.2 836.1h22.9v22.9h-22.9zM850.2 838.4h22.9v22.9h-22.9zM850.2 843.2h22.9v22.9h-22.9zM850.2 845.6h22.9v22.9h-22.9zM850.2 850.3h22.9v22.9h-22.9zM850.2 852.7h22.9v22.9h-22.9zM852.5 829h22.9v22.9h-22.9zM852.5 833.7h22.9v22.9h-22.9zM852.5 836.1h22.9v22.9h-22.9zM852.5 838.4h22.9v22.9h-22.9zM852.5 840.8h22.9v22.9h-22.9zM852.5 845.6h22.9v22.9h-22.9zM852.5 847.9h22.9v22.9h-22.9zM857.3 836.1h22.9v22.9h-22.9zM859.6 850.3h22.9v22.9h-22.9zM862 843.2h22.9v22.9h-22.9zM862 847.9h22.9v22.9h-22.9zM864.4 845.6h22.9v22.9h-22.9zM864.4 852.7h22.9v22.9h-22.9zM881 857.4h22.9v22.9h-22.9zM883.4 852.7h22.9v22.9h-22.9zM883.4 859.8h22.9v22.9h-22.9zM883.4 987.9h22.9v22.9h-22.9zM883.4 1011.6h22.9v22.9h-22.9zM885.7 855h22.9v22.9h-22.9zM885.7 859.8h22.9v22.9h-22.9zM885.7 864.5h22.9v22.9h-22.9zM885.7 904.9h22.9v22.9h-22.9zM885.7 912h22.9v22.9h-22.9zM888.1 428.1h22.9v22.9h-22.9zM888.1 900.1h22.9v22.9h-22.9zM888.1 907.2h22.9v22.9h-22.9zM888.1 980.8h22.9v22.9h-22.9zM890.5 430.4h22.9v22.9h-22.9zM890.5 679.5h22.9v22.9h-22.9zM890.5 684.2h22.9v22.9h-22.9zM890.5 904.9h22.9v22.9h-22.9zM890.5 912h22.9v22.9h-22.9zM890.5 966.5h22.9v22.9h-22.9zM890.5 968.9h22.9v22.9h-22.9zM892.9 679.5h22.9v22.9h-22.9zM892.9 681.9h22.9v22.9h-22.9zM892.9 741.2h22.9v22.9h-22.9zM892.9 745.9h22.9v22.9h-22.9zM895.2 681.9h22.9v22.9h-22.9zM895.2 684.2h22.9v22.9h-22.9zM895.2 741.2h22.9v22.9h-22.9zM895.2 748.3h22.9v22.9h-22.9zM897.6 686.6h22.9v22.9h-22.9zM897.6 750.7h22.9v22.9h-22.9zM900 544.3h22.9v22.9h-22.9zM900 684.2h22.9v22.9h-22.9zM900 753h22.9v22.9h-22.9zM900 755.4h22.9v22.9h-22.9zM900 757.8h22.9v22.9h-22.9zM902.3 183.7h22.9v22.9h-22.9zM902.3 186.1h22.9v22.9h-22.9zM902.3 188.5h22.9v22.9h-22.9zM902.3 544.3h22.9v22.9h-22.9zM902.3 681.9h22.9v22.9h-22.9zM902.3 684.2h22.9v22.9h-22.9zM902.3 686.6h22.9v22.9h-22.9zM902.3 757.8h22.9v22.9h-22.9zM904.7 183.7h22.9v22.9h-22.9zM904.7 188.5h22.9v22.9h-22.9zM904.7 681.9h22.9v22.9h-22.9zM904.7 693.7h22.9v22.9h-22.9zM904.7 755.4h22.9v22.9h-22.9zM907.1 186.1h22.9v22.9h-22.9zM907.1 190.8h22.9v22.9h-22.9zM907.1 606h22.9v22.9h-22.9zM907.1 608.3h22.9v22.9h-22.9zM907.1 684.2h22.9v22.9h-22.9zM907.1 686.6h22.9v22.9h-22.9zM907.1 691.4h22.9v22.9h-22.9zM907.1 693.7h22.9v22.9h-22.9zM907.1 753h22.9v22.9h-22.9zM909.5 186.1h22.9v22.9h-22.9zM909.5 193.2h22.9v22.9h-22.9zM909.5 195.6h22.9v22.9h-22.9zM909.5 610.7h22.9v22.9h-22.9zM909.5 613.1h22.9v22.9h-22.9zM909.5 684.2h22.9v22.9h-22.9zM909.5 686.6h22.9v22.9h-22.9zM909.5 698.5h22.9v22.9h-22.9zM909.5 757.8h22.9v22.9h-22.9zM911.8 190.8h22.9v22.9h-22.9zM911.8 603.6h22.9v22.9h-22.9zM911.8 615.5h22.9v22.9h-22.9zM911.8 620.2h22.9v22.9h-22.9zM911.8 681.9h22.9v22.9h-22.9zM911.8 686.6h22.9v22.9h-22.9zM911.8 689h22.9v22.9h-22.9zM911.8 691.4h22.9v22.9h-22.9zM911.8 693.7h22.9v22.9h-22.9zM911.8 698.5h22.9v22.9h-22.9zM911.8 755.4h22.9v22.9h-22.9zM914.2 200.3h22.9v22.9h-22.9zM914.2 686.6h22.9v22.9h-22.9zM914.2 696.1h22.9v22.9h-22.9zM914.2 703.2h22.9v22.9h-22.9zM914.2 753h22.9v22.9h-22.9zM914.2 757.8h22.9v22.9h-22.9zM914.2 760.2h22.9v22.9h-22.9zM916.6 195.6h22.9v22.9h-22.9zM916.6 202.7h22.9v22.9h-22.9zM916.6 205.1h22.9v22.9h-22.9zM916.6 620.2h22.9v22.9h-22.9zM916.6 684.2h22.9v22.9h-22.9zM916.6 693.7h22.9v22.9h-22.9zM916.6 698.5h22.9v22.9h-22.9zM916.6 700.9h22.9v22.9h-22.9zM916.6 703.2h22.9v22.9h-22.9zM916.6 705.6h22.9v22.9h-22.9zM916.6 708h22.9v22.9h-22.9zM919 686.6h22.9v22.9h-22.9zM919 689h22.9v22.9h-22.9zM919 691.4h22.9v22.9h-22.9zM919 696.1h22.9v22.9h-22.9zM919 700.9h22.9v22.9h-22.9zM919 703.2h22.9v22.9h-22.9zM919 708h22.9v22.9h-22.9zM919 757.8h22.9v22.9h-22.9zM919 762.5h22.9v22.9h-22.9zM921.3 689h22.9v22.9h-22.9zM921.3 700.9h22.9v22.9h-22.9zM921.3 703.2h22.9v22.9h-22.9zM921.3 705.6h22.9v22.9h-22.9zM921.3 708h22.9v22.9h-22.9zM923.7 209.8h22.9v22.9h-22.9zM923.7 691.4h22.9v22.9h-22.9zM923.7 705.6h22.9v22.9h-22.9zM923.7 708h22.9v22.9h-22.9zM923.7 731.7h22.9v22.9h-22.9zM923.7 736.4h22.9v22.9h-22.9zM923.7 741.2h22.9v22.9h-22.9zM923.7 745.9h22.9v22.9h-22.9zM923.7 753h22.9v22.9h-22.9zM923.7 755.4h22.9v22.9h-22.9zM923.7 762.5h22.9v22.9h-22.9zM926.1 696.1h22.9v22.9h-22.9zM926.1 698.5h22.9v22.9h-22.9zM926.1 700.9h22.9v22.9h-22.9zM926.1 703.2h22.9v22.9h-22.9zM926.1 705.6h22.9v22.9h-22.9zM926.1 731.7h22.9v22.9h-22.9zM926.1 734.1h22.9v22.9h-22.9zM926.1 738.8h22.9v22.9h-22.9zM926.1 741.2h22.9v22.9h-22.9zM926.1 743.6h22.9v22.9h-22.9zM926.1 745.9h22.9v22.9h-22.9zM926.1 748.3h22.9v22.9h-22.9zM926.1 750.7h22.9v22.9h-22.9zM926.1 755.4h22.9v22.9h-22.9zM926.1 760.2h22.9v22.9h-22.9zM926.1 762.5h22.9v22.9h-22.9zM926.1 767.3h22.9v22.9h-22.9zM928.4 738.8h22.9v22.9h-22.9zM928.4 743.6h22.9v22.9h-22.9zM928.4 748.3h22.9v22.9h-22.9zM928.4 750.7h22.9v22.9h-22.9zM928.4 753h22.9v22.9h-22.9zM928.4 757.8h22.9v22.9h-22.9zM928.4 760.2h22.9v22.9h-22.9zM928.4 762.5h22.9v22.9h-22.9zM930.8 743.6h22.9v22.9h-22.9zM930.8 748.3h22.9v22.9h-22.9zM930.8 750.7h22.9v22.9h-22.9zM930.8 753h22.9v22.9h-22.9zM930.8 757.8h22.9v22.9h-22.9zM930.8 762.5h22.9v22.9h-22.9zM930.8 931h22.9v22.9h-22.9zM933.2 738.8h22.9v22.9h-22.9zM933.2 743.6h22.9v22.9h-22.9zM933.2 745.9h22.9v22.9h-22.9zM933.2 750.7h22.9v22.9h-22.9zM933.2 753h22.9v22.9h-22.9zM933.2 755.4h22.9v22.9h-22.9zM933.2 760.2h22.9v22.9h-22.9zM933.2 772h22.9v22.9h-22.9zM935.6 741.2h22.9v22.9h-22.9zM935.6 743.6h22.9v22.9h-22.9zM935.6 755.4h22.9v22.9h-22.9zM935.6 760.2h22.9v22.9h-22.9zM935.6 762.5h22.9v22.9h-22.9zM935.6 774.4h22.9v22.9h-22.9zM935.6 921.5h22.9v22.9h-22.9zM935.6 931h22.9v22.9h-22.9zM937.9 743.6h22.9v22.9h-22.9zM937.9 750.7h22.9v22.9h-22.9zM937.9 753h22.9v22.9h-22.9zM937.9 755.4h22.9v22.9h-22.9zM937.9 757.8h22.9v22.9h-22.9zM937.9 762.5h22.9v22.9h-22.9zM937.9 772h22.9v22.9h-22.9zM940.3 679.5h22.9v22.9h-22.9zM940.3 745.9h22.9v22.9h-22.9zM940.3 748.3h22.9v22.9h-22.9zM940.3 750.7h22.9v22.9h-22.9zM940.3 755.4h22.9v22.9h-22.9zM940.3 757.8h22.9v22.9h-22.9zM940.3 760.2h22.9v22.9h-22.9zM940.3 769.6h22.9v22.9h-22.9zM940.3 912h22.9v22.9h-22.9zM940.3 921.5h22.9v22.9h-22.9zM942.7 745.9h22.9v22.9h-22.9zM942.7 748.3h22.9v22.9h-22.9zM942.7 750.7h22.9v22.9h-22.9zM942.7 753h22.9v22.9h-22.9zM942.7 757.8h22.9v22.9h-22.9zM942.7 760.2h22.9v22.9h-22.9zM942.7 774.4h22.9v22.9h-22.9zM942.7 793.4h22.9v22.9h-22.9zM942.7 926.2h22.9v22.9h-22.9zM945 795.7h22.9v22.9h-22.9zM945 919.1h22.9v22.9h-22.9zM945 1011.6h22.9v22.9h-22.9zM945 1016.4h22.9v22.9h-22.9zM947.4 743.6h22.9v22.9h-22.9zM947.4 745.9h22.9v22.9h-22.9zM947.4 791h22.9v22.9h-22.9zM947.4 923.8h22.9v22.9h-22.9zM949.8 793.4h22.9v22.9h-22.9zM949.8 795.7h22.9v22.9h-22.9zM949.8 1011.6h22.9v22.9h-22.9zM952.2 745.9h22.9v22.9h-22.9zM952.2 916.7h22.9v22.9h-22.9zM952.2 1016.4h22.9v22.9h-22.9zM954.5 795.7h22.9v22.9h-22.9zM954.5 990.3h22.9v22.9h-22.9zM956.9 1011.6h22.9v22.9h-22.9zM956.9 1016.4h22.9v22.9h-22.9zM959.3 302.3h22.9v22.9h-22.9zM959.3 926.2h22.9v22.9h-22.9zM959.3 990.3h22.9v22.9h-22.9zM964 990.3h22.9v22.9h-22.9zM966.4 302.3h22.9v22.9h-22.9zM968.8 295.2h22.9v22.9h-22.9zM968.8 964.2h22.9v22.9h-22.9zM971.1 302.3h22.9v22.9h-22.9zM971.1 973.7h22.9v22.9h-22.9zM973.5 297.6h22.9v22.9h-22.9zM975.9 295.2h22.9v22.9h-22.9zM978.3 290.5h22.9v22.9h-22.9zM978.3 302.3h22.9v22.9h-22.9zM978.3 330.8h22.9v22.9h-22.9zM980.6 297.6h22.9v22.9h-22.9zM983 290.5h22.9v22.9h-22.9zM983 295.2h22.9v22.9h-22.9zM983 330.8h22.9v22.9h-22.9zM983 335.5h22.9v22.9h-22.9zM983 340.3h22.9v22.9h-22.9zM985.4 333.2h22.9v22.9h-22.9zM985.4 337.9h22.9v22.9h-22.9zM985.4 964.2h22.9v22.9h-22.9zM985.4 966.5h22.9v22.9h-22.9zM985.4 968.9h22.9v22.9h-22.9zM987.7 340.3h22.9v22.9h-22.9zM987.7 964.2h22.9v22.9h-22.9zM987.7 966.5h22.9v22.9h-22.9zM987.7 968.9h22.9v22.9h-22.9zM990.1 333.2h22.9v22.9h-22.9zM990.1 337.9h22.9v22.9h-22.9zM990.1 798.1h22.9v22.9h-22.9zM990.1 964.2h22.9v22.9h-22.9zM990.1 966.5h22.9v22.9h-22.9zM990.1 968.9h22.9v22.9h-22.9zM990.1 973.7h22.9v22.9h-22.9zM990.1 990.3h22.9v22.9h-22.9zM992.5 335.5h22.9v22.9h-22.9zM992.5 964.2h22.9v22.9h-22.9zM992.5 966.5h22.9v22.9h-22.9zM992.5 968.9h22.9v22.9h-22.9zM992.5 980.8h22.9v22.9h-22.9zM992.5 990.3h22.9v22.9h-22.9zM994.9 330.8h22.9v22.9h-22.9zM994.9 340.3h22.9v22.9h-22.9zM994.9 679.5h22.9v22.9h-22.9zM994.9 795.7h22.9v22.9h-22.9zM994.9 800.5h22.9v22.9h-22.9zM994.9 964.2h22.9v22.9h-22.9zM994.9 966.5h22.9v22.9h-22.9zM997.2 798.1h22.9v22.9h-22.9zM997.2 964.2h22.9v22.9h-22.9zM997.2 966.5h22.9v22.9h-22.9zM997.2 968.9h22.9v22.9h-22.9zM999.6 679.5h22.9v22.9h-22.9zM1002 741.2h22.9v22.9h-22.9zM1002 745.9h22.9v22.9h-22.9zM1002 795.7h22.9v22.9h-22.9zM1002 800.5h22.9v22.9h-22.9zM1002 850.3h22.9v22.9h-22.9zM1004.4 674.8h22.9v22.9h-22.9zM1004.4 679.5h22.9v22.9h-22.9zM1006.7 295.2h22.9v22.9h-22.9zM1006.7 302.3h22.9v22.9h-22.9zM1006.7 330.8h22.9v22.9h-22.9zM1006.7 741.2h22.9v22.9h-22.9zM1006.7 862.2h22.9v22.9h-22.9zM1009.1 674.8h22.9v22.9h-22.9zM1009.1 738.8h22.9v22.9h-22.9zM1009.1 855h22.9v22.9h-22.9zM1011.5 736.4h22.9v22.9h-22.9zM1011.5 741.2h22.9v22.9h-22.9zM1011.5 845.6h22.9v22.9h-22.9zM1011.5 850.3h22.9v22.9h-22.9zM1013.8 674.8h22.9v22.9h-22.9zM1013.8 857.4h22.9v22.9h-22.9zM1016.2 302.3h22.9v22.9h-22.9zM1016.2 736.4h22.9v22.9h-22.9zM1016.2 852.7h22.9v22.9h-22.9zM1016.2 869.3h22.9v22.9h-22.9zM1018.6 674.8h22.9v22.9h-22.9zM1021 304.7h22.9v22.9h-22.9zM1021 670h22.9v22.9h-22.9zM1021 736.4h22.9v22.9h-22.9zM1021 840.8h22.9v22.9h-22.9zM1021 845.6h22.9v22.9h-22.9zM1023.3 311.8h22.9v22.9h-22.9zM1023.3 314.2h22.9v22.9h-22.9zM1023.3 316.6h22.9v22.9h-22.9zM1023.3 318.9h22.9v22.9h-22.9zM1023.3 321.3h22.9v22.9h-22.9zM1023.3 323.7h22.9v22.9h-22.9zM1023.3 672.4h22.9v22.9h-22.9zM1025.7 311.8h22.9v22.9h-22.9zM1025.7 314.2h22.9v22.9h-22.9zM1025.7 318.9h22.9v22.9h-22.9zM1025.7 321.3h22.9v22.9h-22.9zM1025.7 323.7h22.9v22.9h-22.9zM1025.7 326h22.9v22.9h-22.9zM1025.7 670h22.9v22.9h-22.9zM1028.1 311.8h22.9v22.9h-22.9zM1028.1 314.2h22.9v22.9h-22.9zM1028.1 318.9h22.9v22.9h-22.9zM1028.1 323.7h22.9v22.9h-22.9zM1028.1 672.4h22.9v22.9h-22.9zM1030.4 311.8h22.9v22.9h-22.9zM1030.4 314.2h22.9v22.9h-22.9zM1030.4 316.6h22.9v22.9h-22.9zM1030.4 323.7h22.9v22.9h-22.9zM1030.4 326h22.9v22.9h-22.9zM1030.4 667.6h22.9v22.9h-22.9zM1032.8 311.8h22.9v22.9h-22.9zM1032.8 316.6h22.9v22.9h-22.9zM1032.8 318.9h22.9v22.9h-22.9zM1032.8 326h22.9v22.9h-22.9zM1035.2 311.8h22.9v22.9h-22.9zM1035.2 314.2h22.9v22.9h-22.9zM1035.2 316.6h22.9v22.9h-22.9zM1035.2 318.9h22.9v22.9h-22.9zM1035.2 321.3h22.9v22.9h-22.9zM1035.2 323.7h22.9v22.9h-22.9zM1035.2 326h22.9v22.9h-22.9zM1035.2 667.6h22.9v22.9h-22.9zM1037.6 311.8h22.9v22.9h-22.9zM1037.6 316.6h22.9v22.9h-22.9zM1037.6 318.9h22.9v22.9h-22.9zM1037.6 321.3h22.9v22.9h-22.9zM1037.6 326h22.9v22.9h-22.9zM1037.6 667.6h22.9v22.9h-22.9zM1037.6 670h22.9v22.9h-22.9zM1037.6 674.8h22.9v22.9h-22.9zM1037.6 677.1h22.9v22.9h-22.9zM1039.9 311.8h22.9v22.9h-22.9zM1039.9 316.6h22.9v22.9h-22.9zM1039.9 321.3h22.9v22.9h-22.9zM1039.9 323.7h22.9v22.9h-22.9zM1039.9 326h22.9v22.9h-22.9zM1039.9 667.6h22.9v22.9h-22.9zM1039.9 672.4h22.9v22.9h-22.9zM1039.9 684.2h22.9v22.9h-22.9zM1042.3 316.6h22.9v22.9h-22.9zM1042.3 318.9h22.9v22.9h-22.9zM1042.3 321.3h22.9v22.9h-22.9zM1042.3 323.7h22.9v22.9h-22.9zM1042.3 326h22.9v22.9h-22.9zM1042.3 655.8h22.9v22.9h-22.9zM1042.3 670h22.9v22.9h-22.9zM1042.3 674.8h22.9v22.9h-22.9zM1042.3 677.1h22.9v22.9h-22.9zM1042.3 681.9h22.9v22.9h-22.9zM1042.3 684.2h22.9v22.9h-22.9zM1044.7 321.3h22.9v22.9h-22.9zM1044.7 323.7h22.9v22.9h-22.9zM1044.7 326h22.9v22.9h-22.9zM1044.7 655.8h22.9v22.9h-22.9zM1044.7 665.3h22.9v22.9h-22.9zM1044.7 667.6h22.9v22.9h-22.9zM1044.7 679.5h22.9v22.9h-22.9zM1047.1 288.1h22.9v22.9h-22.9zM1047.1 290.5h22.9v22.9h-22.9zM1047.1 323.7h22.9v22.9h-22.9zM1047.1 326h22.9v22.9h-22.9zM1047.1 328.4h22.9v22.9h-22.9zM1047.1 646.3h22.9v22.9h-22.9zM1047.1 677.1h22.9v22.9h-22.9zM1047.1 679.5h22.9v22.9h-22.9zM1047.1 684.2h22.9v22.9h-22.9zM1049.4 295.2h22.9v22.9h-22.9zM1049.4 326h22.9v22.9h-22.9zM1049.4 330.8h22.9v22.9h-22.9zM1049.4 667.6h22.9v22.9h-22.9zM1049.4 670h22.9v22.9h-22.9zM1049.4 672.4h22.9v22.9h-22.9zM1049.4 681.9h22.9v22.9h-22.9zM1049.4 684.2h22.9v22.9h-22.9zM1051.8 330.8h22.9v22.9h-22.9zM1051.8 333.2h22.9v22.9h-22.9zM1051.8 335.5h22.9v22.9h-22.9zM1051.8 356.9h22.9v22.9h-22.9zM1051.8 672.4h22.9v22.9h-22.9zM1051.8 674.8h22.9v22.9h-22.9zM1051.8 679.5h22.9v22.9h-22.9zM1051.8 681.9h22.9v22.9h-22.9zM1051.8 684.2h22.9v22.9h-22.9zM1051.8 691.4h22.9v22.9h-22.9zM1051.8 703.2h22.9v22.9h-22.9zM1054.2 333.2h22.9v22.9h-22.9zM1054.2 335.5h22.9v22.9h-22.9zM1054.2 337.9h22.9v22.9h-22.9zM1054.2 665.3h22.9v22.9h-22.9zM1054.2 674.8h22.9v22.9h-22.9zM1054.2 677.1h22.9v22.9h-22.9zM1054.2 684.2h22.9v22.9h-22.9zM1054.2 878.8h22.9v22.9h-22.9zM1054.2 895.4h22.9v22.9h-22.9zM1054.2 897.7h22.9v22.9h-22.9zM1054.2 900.1h22.9v22.9h-22.9zM1054.2 902.5h22.9v22.9h-22.9zM1054.2 904.9h22.9v22.9h-22.9zM1054.2 907.2h22.9v22.9h-22.9zM1056.5 335.5h22.9v22.9h-22.9zM1056.5 337.9h22.9v22.9h-22.9zM1056.5 340.3h22.9v22.9h-22.9zM1056.5 356.9h22.9v22.9h-22.9zM1056.5 359.3h22.9v22.9h-22.9zM1056.5 430.4h22.9v22.9h-22.9zM1056.5 679.5h22.9v22.9h-22.9zM1056.5 686.6h22.9v22.9h-22.9zM1056.5 693.7h22.9v22.9h-22.9zM1056.5 800.5h22.9v22.9h-22.9zM1056.5 895.4h22.9v22.9h-22.9zM1056.5 897.7h22.9v22.9h-22.9zM1056.5 900.1h22.9v22.9h-22.9zM1056.5 902.5h22.9v22.9h-22.9zM1056.5 904.9h22.9v22.9h-22.9zM1056.5 907.2h22.9v22.9h-22.9zM1058.9 340.3h22.9v22.9h-22.9zM1058.9 342.7h22.9v22.9h-22.9zM1058.9 345h22.9v22.9h-22.9zM1058.9 359.3h22.9v22.9h-22.9zM1058.9 800.5h22.9v22.9h-22.9zM1058.9 895.4h22.9v22.9h-22.9zM1058.9 897.7h22.9v22.9h-22.9zM1058.9 900.1h22.9v22.9h-22.9zM1058.9 902.5h22.9v22.9h-22.9zM1058.9 907.2h22.9v22.9h-22.9zM1061.3 342.7h22.9v22.9h-22.9zM1061.3 345h22.9v22.9h-22.9zM1061.3 347.4h22.9v22.9h-22.9zM1061.3 354.5h22.9v22.9h-22.9zM1061.3 359.3h22.9v22.9h-22.9zM1063.7 345h22.9v22.9h-22.9zM1063.7 347.4h22.9v22.9h-22.9zM1063.7 349.8h22.9v22.9h-22.9zM1063.7 356.9h22.9v22.9h-22.9zM1063.7 881.1h22.9v22.9h-22.9zM1063.7 900.1h22.9v22.9h-22.9zM1066 349.8h22.9v22.9h-22.9zM1066 352.1h22.9v22.9h-22.9zM1066 354.5h22.9v22.9h-22.9zM1066 499.2h22.9v22.9h-22.9zM1066 504h22.9v22.9h-22.9zM1068.4 352.1h22.9v22.9h-22.9zM1068.4 354.5h22.9v22.9h-22.9zM1068.4 356.9h22.9v22.9h-22.9zM1068.4 428.1h22.9v22.9h-22.9zM1068.4 494.5h22.9v22.9h-22.9zM1068.4 496.8h22.9v22.9h-22.9zM1070.8 492.1h22.9v22.9h-22.9zM1070.8 798.1h22.9v22.9h-22.9zM1070.8 902.5h22.9v22.9h-22.9zM1073.1 489.7h22.9v22.9h-22.9zM1073.1 496.8h22.9v22.9h-22.9zM1075.5 492.1h22.9v22.9h-22.9zM1075.5 494.5h22.9v22.9h-22.9zM1075.5 1272.6h22.9v22.9h-22.9zM1077.9 489.7h22.9v22.9h-22.9zM1077.9 793.4h22.9v22.9h-22.9zM1080.3 864.5h22.9v22.9h-22.9zM1080.3 869.3h22.9v22.9h-22.9zM1080.3 874h22.9v22.9h-22.9zM1080.3 900.1h22.9v22.9h-22.9zM1080.3 902.5h22.9v22.9h-22.9zM1080.3 1267.8h22.9v22.9h-22.9zM1085 1255.9h22.9v22.9h-22.9zM1085 1265.4h22.9v22.9h-22.9zM1087.4 1255.9h22.9v22.9h-22.9zM1087.4 1258.3h22.9v22.9h-22.9zM1087.4 1263.1h22.9v22.9h-22.9zM1087.4 1265.4h22.9v22.9h-22.9zM1087.4 1270.2h22.9v22.9h-22.9zM1087.4 1272.6h22.9v22.9h-22.9zM1087.4 1274.9h22.9v22.9h-22.9zM1089.8 1265.4h22.9v22.9h-22.9zM1089.8 1272.6h22.9v22.9h-22.9zM1092.1 1258.3h22.9v22.9h-22.9zM1092.1 1263.1h22.9v22.9h-22.9zM1094.5 1255.9h22.9v22.9h-22.9zM1094.5 1258.3h22.9v22.9h-22.9zM1094.5 1263.1h22.9v22.9h-22.9zM1094.5 1267.8h22.9v22.9h-22.9zM1096.9 1255.9h22.9v22.9h-22.9zM1096.9 1263.1h22.9v22.9h-22.9zM1096.9 1270.2h22.9v22.9h-22.9zM1099.2 1232.2h22.9v22.9h-22.9zM1099.2 1270.2h22.9v22.9h-22.9zM1099.2 1272.6h22.9v22.9h-22.9zM1099.2 1274.9h22.9v22.9h-22.9zM1101.6 793.4h22.9v22.9h-22.9zM1101.6 855h22.9v22.9h-22.9zM1101.6 859.8h22.9v22.9h-22.9zM1101.6 866.9h22.9v22.9h-22.9zM1101.6 1267.8h22.9v22.9h-22.9zM1106.4 855h22.9v22.9h-22.9zM1106.4 862.2h22.9v22.9h-22.9zM1106.4 866.9h22.9v22.9h-22.9zM1113.5 1251.2h22.9v22.9h-22.9zM1113.5 1258.3h22.9v22.9h-22.9zM1113.5 1263.1h22.9v22.9h-22.9zM1115.8 1253.6h22.9v22.9h-22.9zM1115.8 1260.7h22.9v22.9h-22.9zM1118.2 1253.6h22.9v22.9h-22.9zM1120.6 1255.9h22.9v22.9h-22.9zM1120.6 1260.7h22.9v22.9h-22.9zM1120.6 1263.1h22.9v22.9h-22.9zM1123 1248.8h22.9v22.9h-22.9zM1123 1253.6h22.9v22.9h-22.9zM1123 1258.3h22.9v22.9h-22.9zM1123 1260.7h22.9v22.9h-22.9zM1123 1263.1h22.9v22.9h-22.9zM1125.3 1253.6h22.9v22.9h-22.9zM1125.3 1255.9h22.9v22.9h-22.9zM1125.3 1258.3h22.9v22.9h-22.9zM1127.7 1248.8h22.9v22.9h-22.9zM1127.7 1258.3h22.9v22.9h-22.9zM1130.1 1251.2h22.9v22.9h-22.9zM1130.1 1395.9h22.9v22.9h-22.9zM1132.5 1251.2h22.9v22.9h-22.9zM1132.5 1405.4h22.9v22.9h-22.9zM1134.8 1248.8h22.9v22.9h-22.9zM1134.8 1253.6h22.9v22.9h-22.9zM1134.8 1393.5h22.9v22.9h-22.9zM1134.8 1403h22.9v22.9h-22.9zM1137.2 1253.6h22.9v22.9h-22.9zM1137.2 1258.3h22.9v22.9h-22.9zM1139.6 1248.8h22.9v22.9h-22.9zM1139.6 1253.6h22.9v22.9h-22.9zM1139.6 1255.9h22.9v22.9h-22.9zM1139.6 1258.3h22.9v22.9h-22.9zM1141.9 1241.7h22.9v22.9h-22.9zM1141.9 1246.5h22.9v22.9h-22.9zM1144.3 1237h22.9v22.9h-22.9zM1144.3 1239.3h22.9v22.9h-22.9zM1144.3 1241.7h22.9v22.9h-22.9zM1144.3 1244.1h22.9v22.9h-22.9zM1144.3 1246.5h22.9v22.9h-22.9zM1144.3 1248.8h22.9v22.9h-22.9zM1144.3 1251.2h22.9v22.9h-22.9zM1144.3 1253.6h22.9v22.9h-22.9zM1146.7 1237h22.9v22.9h-22.9zM1146.7 1239.3h22.9v22.9h-22.9zM1146.7 1241.7h22.9v22.9h-22.9zM1146.7 1244.1h22.9v22.9h-22.9zM1146.7 1246.5h22.9v22.9h-22.9zM1146.7 1248.8h22.9v22.9h-22.9zM1146.7 1251.2h22.9v22.9h-22.9zM1146.7 1253.6h22.9v22.9h-22.9zM1146.7 1255.9h22.9v22.9h-22.9zM1146.7 1258.3h22.9v22.9h-22.9zM1146.7 1286.8h22.9v22.9h-22.9zM1146.7 1386.4h22.9v22.9h-22.9zM1149.1 1237h22.9v22.9h-22.9zM1149.1 1239.3h22.9v22.9h-22.9zM1149.1 1241.7h22.9v22.9h-22.9zM1149.1 1244.1h22.9v22.9h-22.9zM1149.1 1246.5h22.9v22.9h-22.9zM1149.1 1248.8h22.9v22.9h-22.9zM1149.1 1251.2h22.9v22.9h-22.9zM1149.1 1253.6h22.9v22.9h-22.9zM1149.1 1255.9h22.9v22.9h-22.9zM1151.4 1237h22.9v22.9h-22.9zM1151.4 1239.3h22.9v22.9h-22.9zM1151.4 1241.7h22.9v22.9h-22.9zM1151.4 1244.1h22.9v22.9h-22.9zM1151.4 1246.5h22.9v22.9h-22.9zM1151.4 1248.8h22.9v22.9h-22.9zM1151.4 1251.2h22.9v22.9h-22.9zM1151.4 1253.6h22.9v22.9h-22.9zM1151.4 1374.6h22.9v22.9h-22.9zM1156.2 1379.3h22.9v22.9h-22.9zM1156.2 1391.2h22.9v22.9h-22.9zM1156.2 1393.5h22.9v22.9h-22.9zM1158.5 1286.8h22.9v22.9h-22.9zM1160.9 1367.4h22.9v22.9h-22.9zM1160.9 1384h22.9v22.9h-22.9zM1163.3 1365.1h22.9v22.9h-22.9zM1163.3 1369.8h22.9v22.9h-22.9zM1165.7 1132.6h22.9v22.9h-22.9zM1165.7 1135h22.9v22.9h-22.9zM1165.7 1365.1h22.9v22.9h-22.9zM1165.7 1372.2h22.9v22.9h-22.9zM1168 1135h22.9v22.9h-22.9zM1168 1365.1h22.9v22.9h-22.9zM1168 1369.8h22.9v22.9h-22.9zM1170.4 1137.3h22.9v22.9h-22.9zM1170.4 1139.7h22.9v22.9h-22.9zM1170.4 1365.1h22.9v22.9h-22.9zM1170.4 1369.8h22.9v22.9h-22.9zM1172.8 1135h22.9v22.9h-22.9zM1172.8 1139.7h22.9v22.9h-22.9zM1172.8 1163.4h22.9v22.9h-22.9zM1172.8 1210.9h22.9v22.9h-22.9zM1175.2 1137.3h22.9v22.9h-22.9zM1175.2 1142.1h22.9v22.9h-22.9zM1175.2 1144.5h22.9v22.9h-22.9zM1175.2 1210.9h22.9v22.9h-22.9zM1175.2 1213.3h22.9v22.9h-22.9zM1175.2 1215.6h22.9v22.9h-22.9zM1177.5 1156.3h22.9v22.9h-22.9zM1177.5 1208.5h22.9v22.9h-22.9zM1177.5 1210.9h22.9v22.9h-22.9zM1177.5 1213.3h22.9v22.9h-22.9zM1177.5 1215.6h22.9v22.9h-22.9zM1177.5 1218h22.9v22.9h-22.9zM1177.5 1220.4h22.9v22.9h-22.9zM1179.9 1206.1h22.9v22.9h-22.9zM1179.9 1208.5h22.9v22.9h-22.9zM1179.9 1210.9h22.9v22.9h-22.9zM1179.9 1213.3h22.9v22.9h-22.9zM1179.9 1215.6h22.9v22.9h-22.9zM1179.9 1218h22.9v22.9h-22.9zM1179.9 1220.4h22.9v22.9h-22.9zM1182.3 1203.8h22.9v22.9h-22.9zM1182.3 1206.1h22.9v22.9h-22.9zM1182.3 1208.5h22.9v22.9h-22.9zM1182.3 1210.9h22.9v22.9h-22.9zM1182.3 1213.3h22.9v22.9h-22.9zM1182.3 1215.6h22.9v22.9h-22.9zM1182.3 1218h22.9v22.9h-22.9zM1182.3 1220.4h22.9v22.9h-22.9zM1184.6 1201.4h22.9v22.9h-22.9zM1184.6 1203.8h22.9v22.9h-22.9zM1184.6 1206.1h22.9v22.9h-22.9zM1184.6 1208.5h22.9v22.9h-22.9zM1184.6 1210.9h22.9v22.9h-22.9zM1184.6 1213.3h22.9v22.9h-22.9zM1184.6 1215.6h22.9v22.9h-22.9zM1184.6 1218h22.9v22.9h-22.9zM1187 1165.8h22.9v22.9h-22.9zM1187 1175.3h22.9v22.9h-22.9zM1187 1177.7h22.9v22.9h-22.9zM1187 1201.4h22.9v22.9h-22.9zM1187 1203.8h22.9v22.9h-22.9zM1187 1206.1h22.9v22.9h-22.9zM1187 1208.5h22.9v22.9h-22.9zM1187 1210.9h22.9v22.9h-22.9zM1187 1213.3h22.9v22.9h-22.9zM1187 1215.6h22.9v22.9h-22.9zM1187 1218h22.9v22.9h-22.9zM1189.4 1172.9h22.9v22.9h-22.9zM1189.4 1201.4h22.9v22.9h-22.9zM1189.4 1203.8h22.9v22.9h-22.9zM1189.4 1206.1h22.9v22.9h-22.9zM1189.4 1208.5h22.9v22.9h-22.9zM1189.4 1210.9h22.9v22.9h-22.9zM1189.4 1213.3h22.9v22.9h-22.9zM1189.4 1215.6h22.9v22.9h-22.9zM1191.8 1172.9h22.9v22.9h-22.9zM1191.8 1201.4h22.9v22.9h-22.9zM1191.8 1203.8h22.9v22.9h-22.9zM1191.8 1206.1h22.9v22.9h-22.9zM1191.8 1208.5h22.9v22.9h-22.9zM1191.8 1210.9h22.9v22.9h-22.9zM1191.8 1213.3h22.9v22.9h-22.9zM1191.8 1215.6h22.9v22.9h-22.9zM1194.1 1163.4h22.9v22.9h-22.9zM1194.1 1210.9h22.9v22.9h-22.9zM1194.1 1213.3h22.9v22.9h-22.9zM1196.5 1168.2h22.9v22.9h-22.9zM1196.5 1175.3h22.9v22.9h-22.9zM1196.5 1177.7h22.9v22.9h-22.9zM1196.5 1180h22.9v22.9h-22.9zM1203.6 1175.3h22.9v22.9h-22.9zM1220.2 1372.2h22.9v22.9h-22.9zM1222.6 1075.7h22.9v22.9h-22.9zM1225 1075.7h22.9v22.9h-22.9zM1225 1078h22.9v22.9h-22.9zM1225 1082.8h22.9v22.9h-22.9zM1225 1284.4h22.9v22.9h-22.9zM1225 1365.1h22.9v22.9h-22.9zM1225 1372.2h22.9v22.9h-22.9zM1227.3 1080.4h22.9v22.9h-22.9zM1227.3 1085.2h22.9v22.9h-22.9zM1227.3 1210.9h22.9v22.9h-22.9zM1227.3 1220.4h22.9v22.9h-22.9zM1229.7 1080.4h22.9v22.9h-22.9zM1229.7 1082.8h22.9v22.9h-22.9zM1229.7 1362.7h22.9v22.9h-22.9zM1232.1 1085.2h22.9v22.9h-22.9zM1234.5 1085.2h22.9v22.9h-22.9zM1236.8 1362.7h22.9v22.9h-22.9zM1239.2 1367.4h22.9v22.9h-22.9zM1243.9 1234.6h22.9v22.9h-22.9zM1243.9 1284.4h22.9v22.9h-22.9zM1243.9 1365.1h22.9v22.9h-22.9zM1246.3 1087.5h22.9v22.9h-22.9zM1246.3 1213.3h22.9v22.9h-22.9zM1246.3 1218h22.9v22.9h-22.9zM1246.3 1222.7h22.9v22.9h-22.9zM1246.3 1282h22.9v22.9h-22.9zM1248.7 1220.4h22.9v22.9h-22.9zM1248.7 1227.5h22.9v22.9h-22.9zM1251.1 1222.7h22.9v22.9h-22.9zM1251.1 1225.1h22.9v22.9h-22.9zM1251.1 1229.9h22.9v22.9h-22.9zM1251.1 1279.7h22.9v22.9h-22.9zM1251.1 1284.4h22.9v22.9h-22.9zM1251.1 1372.2h22.9v22.9h-22.9zM1253.4 1082.8h22.9v22.9h-22.9zM1253.4 1104.1h22.9v22.9h-22.9zM1253.4 1220.4h22.9v22.9h-22.9zM1253.4 1225.1h22.9v22.9h-22.9zM1255.8 1097h22.9v22.9h-22.9zM1255.8 1220.4h22.9v22.9h-22.9zM1255.8 1222.7h22.9v22.9h-22.9zM1258.2 1106.5h22.9v22.9h-22.9zM1262.9 1099.4h22.9v22.9h-22.9zM1262.9 1101.8h22.9v22.9h-22.9zM1265.3 1097h22.9v22.9h-22.9zM1265.3 1106.5h22.9v22.9h-22.9zM1265.3 1113.6h22.9v22.9h-22.9zM1267.7 1097h22.9v22.9h-22.9zM1267.7 1106.5h22.9v22.9h-22.9zM1270 1106.5h22.9v22.9h-22.9zM1291.4 1094.6h22.9v22.9h-22.9zM1291.4 1097h22.9v22.9h-22.9zM1291.4 1099.4h22.9v22.9h-22.9zM1291.4 1101.8h22.9v22.9h-22.9zM1293.8 1092.3h22.9v22.9h-22.9zM1293.8 1094.6h22.9v22.9h-22.9zM1293.8 1097h22.9v22.9h-22.9zM1293.8 1099.4h22.9v22.9h-22.9zM1293.8 1101.8h22.9v22.9h-22.9zM1296.1 1089.9h22.9v22.9h-22.9zM1296.1 1092.3h22.9v22.9h-22.9zM1296.1 1094.6h22.9v22.9h-22.9zM1296.1 1097h22.9v22.9h-22.9zM1296.1 1099.4h22.9v22.9h-22.9zM1296.1 1101.8h22.9v22.9h-22.9zM1298.5 1087.5h22.9v22.9h-22.9zM1298.5 1089.9h22.9v22.9h-22.9zM1298.5 1092.3h22.9v22.9h-22.9zM1298.5 1094.6h22.9v22.9h-22.9zM1298.5 1097h22.9v22.9h-22.9zM1298.5 1099.4h22.9v22.9h-22.9zM1298.5 1101.8h22.9v22.9h-22.9zM1300.9 1082.8h22.9v22.9h-22.9zM1300.9 1085.2h22.9v22.9h-22.9zM1300.9 1087.5h22.9v22.9h-22.9zM1300.9 1089.9h22.9v22.9h-22.9zM1300.9 1092.3h22.9v22.9h-22.9zM1300.9 1094.6h22.9v22.9h-22.9zM1300.9 1097h22.9v22.9h-22.9zM1300.9 1099.4h22.9v22.9h-22.9zM1300.9 1101.8h22.9v22.9h-22.9zM1300.9 1104.1h22.9v22.9h-22.9zM1300.9 1137.3h22.9v22.9h-22.9zM1303.3 532.4h22.9v22.9h-22.9zM1303.3 537.2h22.9v22.9h-22.9zM1303.3 1085.2h22.9v22.9h-22.9zM1303.3 1087.5h22.9v22.9h-22.9zM1303.3 1089.9h22.9v22.9h-22.9zM1303.3 1092.3h22.9v22.9h-22.9zM1303.3 1094.6h22.9v22.9h-22.9zM1303.3 1097h22.9v22.9h-22.9zM1303.3 1099.4h22.9v22.9h-22.9zM1303.3 1101.8h22.9v22.9h-22.9zM1303.3 1104.1h22.9v22.9h-22.9zM1303.3 1156.3h22.9v22.9h-22.9zM1305.6 532.4h22.9v22.9h-22.9zM1305.6 534.8h22.9v22.9h-22.9zM1305.6 1085.2h22.9v22.9h-22.9zM1305.6 1087.5h22.9v22.9h-22.9zM1305.6 1089.9h22.9v22.9h-22.9zM1305.6 1092.3h22.9v22.9h-22.9zM1305.6 1094.6h22.9v22.9h-22.9zM1305.6 1097h22.9v22.9h-22.9zM1305.6 1099.4h22.9v22.9h-22.9zM1305.6 1101.8h22.9v22.9h-22.9zM1308 1087.5h22.9v22.9h-22.9zM1308 1089.9h22.9v22.9h-22.9zM1308 1092.3h22.9v22.9h-22.9zM1308 1094.6h22.9v22.9h-22.9zM1308 1097h22.9v22.9h-22.9zM1308 1156.3h22.9v22.9h-22.9zM1310.4 1087.5h22.9v22.9h-22.9zM1310.4 1089.9h22.9v22.9h-22.9zM1310.4 1092.3h22.9v22.9h-22.9zM1310.4 1137.3h22.9v22.9h-22.9zM1310.4 1158.7h22.9v22.9h-22.9zM1310.4 1163.4h22.9v22.9h-22.9zM1310.4 1165.8h22.9v22.9h-22.9zM1312.7 1156.3h22.9v22.9h-22.9zM1312.7 1161.1h22.9v22.9h-22.9zM1312.7 1165.8h22.9v22.9h-22.9zM1312.7 1279.7h22.9v22.9h-22.9zM1315.1 485h22.9v22.9h-22.9zM1315.1 534.8h22.9v22.9h-22.9zM1315.1 1161.1h22.9v22.9h-22.9zM1315.1 1163.4h22.9v22.9h-22.9zM1317.5 485h22.9v22.9h-22.9zM1317.5 1158.7h22.9v22.9h-22.9zM1319.9 1161.1h22.9v22.9h-22.9zM1322.2 1009.2h22.9v22.9h-22.9zM1324.6 1153.9h22.9v22.9h-22.9zM1327 1054.3h22.9v22.9h-22.9zM1327 1056.7h22.9v22.9h-22.9zM1327 1059.1h22.9v22.9h-22.9zM1327 1061.4h22.9v22.9h-22.9zM1327 1374.6h22.9v22.9h-22.9zM1329.3 1054.3h22.9v22.9h-22.9zM1329.3 1056.7h22.9v22.9h-22.9zM1329.3 1059.1h22.9v22.9h-22.9zM1329.3 1061.4h22.9v22.9h-22.9zM1331.7 1051.9h22.9v22.9h-22.9zM1331.7 1054.3h22.9v22.9h-22.9zM1331.7 1056.7h22.9v22.9h-22.9zM1331.7 1059.1h22.9v22.9h-22.9zM1331.7 1061.4h22.9v22.9h-22.9zM1331.7 1367.4h22.9v22.9h-22.9zM1334.1 1054.3h22.9v22.9h-22.9zM1334.1 1056.7h22.9v22.9h-22.9zM1334.1 1059.1h22.9v22.9h-22.9zM1334.1 1061.4h22.9v22.9h-22.9zM1336.5 1051.9h22.9v22.9h-22.9zM1336.5 1054.3h22.9v22.9h-22.9zM1336.5 1056.7h22.9v22.9h-22.9zM1336.5 1059.1h22.9v22.9h-22.9zM1336.5 1061.4h22.9v22.9h-22.9zM1338.8 1033h22.9v22.9h-22.9zM1338.8 1037.7h22.9v22.9h-22.9zM1338.8 1044.8h22.9v22.9h-22.9zM1338.8 1049.6h22.9v22.9h-22.9zM1338.8 1054.3h22.9v22.9h-22.9zM1338.8 1056.7h22.9v22.9h-22.9zM1338.8 1059.1h22.9v22.9h-22.9zM1338.8 1061.4h22.9v22.9h-22.9zM1341.2 1023.5h22.9v22.9h-22.9zM1341.2 1040.1h22.9v22.9h-22.9zM1341.2 1042.5h22.9v22.9h-22.9zM1341.2 1054.3h22.9v22.9h-22.9zM1341.2 1056.7h22.9v22.9h-22.9zM1341.2 1059.1h22.9v22.9h-22.9zM1341.2 1061.4h22.9v22.9h-22.9zM1341.2 1386.4h22.9v22.9h-22.9zM1343.6 1025.8h22.9v22.9h-22.9zM1343.6 1028.2h22.9v22.9h-22.9zM1343.6 1033h22.9v22.9h-22.9zM1343.6 1035.3h22.9v22.9h-22.9zM1343.6 1044.8h22.9v22.9h-22.9zM1343.6 1047.2h22.9v22.9h-22.9zM1343.6 1049.6h22.9v22.9h-22.9zM1343.6 1054.3h22.9v22.9h-22.9zM1343.6 1056.7h22.9v22.9h-22.9zM1343.6 1059.1h22.9v22.9h-22.9zM1343.6 1061.4h22.9v22.9h-22.9zM1345.9 995h22.9v22.9h-22.9zM1345.9 997.4h22.9v22.9h-22.9zM1345.9 1004.5h22.9v22.9h-22.9zM1345.9 1006.9h22.9v22.9h-22.9zM1345.9 1030.6h22.9v22.9h-22.9zM1345.9 1035.3h22.9v22.9h-22.9zM1345.9 1049.6h22.9v22.9h-22.9zM1345.9 1056.7h22.9v22.9h-22.9zM1345.9 1059.1h22.9v22.9h-22.9zM1348.3 997.4h22.9v22.9h-22.9zM1348.3 1002.1h22.9v22.9h-22.9zM1348.3 1004.5h22.9v22.9h-22.9zM1348.3 1023.5h22.9v22.9h-22.9zM1348.3 1033h22.9v22.9h-22.9zM1348.3 1035.3h22.9v22.9h-22.9zM1348.3 1037.7h22.9v22.9h-22.9zM1348.3 1047.2h22.9v22.9h-22.9zM1348.3 1049.6h22.9v22.9h-22.9zM1348.3 1056.7h22.9v22.9h-22.9zM1348.3 1386.4h22.9v22.9h-22.9zM1350.7 1025.8h22.9v22.9h-22.9zM1350.7 1030.6h22.9v22.9h-22.9zM1350.7 1033h22.9v22.9h-22.9zM1353.1 997.4h22.9v22.9h-22.9zM1353.1 1002.1h22.9v22.9h-22.9zM1353.1 1004.5h22.9v22.9h-22.9zM1353.1 1006.9h22.9v22.9h-22.9zM1353.1 1023.5h22.9v22.9h-22.9zM1353.1 1030.6h22.9v22.9h-22.9zM1353.1 1033h22.9v22.9h-22.9zM1353.1 1386.4h22.9v22.9h-22.9zM1355.4 995h22.9v22.9h-22.9zM1355.4 997.4h22.9v22.9h-22.9zM1355.4 999.8h22.9v22.9h-22.9zM1357.8 990.3h22.9v22.9h-22.9zM1357.8 1004.5h22.9v22.9h-22.9zM1357.8 1011.6h22.9v22.9h-22.9zM1357.8 1374.6h22.9v22.9h-22.9zM1357.8 1386.4h22.9v22.9h-22.9zM1360.2 997.4h22.9v22.9h-22.9zM1360.2 1006.9h22.9v22.9h-22.9zM1360.2 1009.2h22.9v22.9h-22.9zM1362.6 985.5h22.9v22.9h-22.9zM1362.6 997.4h22.9v22.9h-22.9zM1362.6 999.8h22.9v22.9h-22.9zM1362.6 1009.2h22.9v22.9h-22.9zM1362.6 1381.7h22.9v22.9h-22.9zM1364.9 997.4h22.9v22.9h-22.9zM1364.9 1009.2h22.9v22.9h-22.9zM1364.9 1379.3h22.9v22.9h-22.9zM1364.9 1381.7h22.9v22.9h-22.9zM1364.9 1386.4h22.9v22.9h-22.9zM1367.3 1374.6h22.9v22.9h-22.9zM1367.3 1376.9h22.9v22.9h-22.9zM1367.3 1379.3h22.9v22.9h-22.9zM1367.3 1381.7h22.9v22.9h-22.9zM1369.7 1161.1h22.9v22.9h-22.9zM1369.7 1222.7h22.9v22.9h-22.9zM1369.7 1372.2h22.9v22.9h-22.9zM1369.7 1374.6h22.9v22.9h-22.9zM1369.7 1376.9h22.9v22.9h-22.9zM1369.7 1379.3h22.9v22.9h-22.9zM1372 1156.3h22.9v22.9h-22.9zM1372 1367.4h22.9v22.9h-22.9zM1372 1369.8h22.9v22.9h-22.9zM1372 1372.2h22.9v22.9h-22.9zM1372 1374.6h22.9v22.9h-22.9zM1372 1376.9h22.9v22.9h-22.9zM1374.4 1135h22.9v22.9h-22.9zM1374.4 1153.9h22.9v22.9h-22.9zM1374.4 1161.1h22.9v22.9h-22.9zM1374.4 1365.1h22.9v22.9h-22.9zM1374.4 1367.4h22.9v22.9h-22.9zM1374.4 1369.8h22.9v22.9h-22.9zM1374.4 1372.2h22.9v22.9h-22.9zM1374.4 1374.6h22.9v22.9h-22.9zM1376.8 1056.7h22.9v22.9h-22.9zM1376.8 1068.5h22.9v22.9h-22.9zM1376.8 1362.7h22.9v22.9h-22.9zM1376.8 1365.1h22.9v22.9h-22.9zM1376.8 1367.4h22.9v22.9h-22.9zM1376.8 1369.8h22.9v22.9h-22.9zM1376.8 1372.2h22.9v22.9h-22.9zM1379.2 1358h22.9v22.9h-22.9zM1379.2 1360.3h22.9v22.9h-22.9zM1379.2 1362.7h22.9v22.9h-22.9zM1379.2 1365.1h22.9v22.9h-22.9zM1379.2 1367.4h22.9v22.9h-22.9zM1379.2 1369.8h22.9v22.9h-22.9zM1381.5 1353.2h22.9v22.9h-22.9zM1381.5 1355.6h22.9v22.9h-22.9zM1381.5 1358h22.9v22.9h-22.9zM1381.5 1360.3h22.9v22.9h-22.9zM1381.5 1362.7h22.9v22.9h-22.9zM1381.5 1365.1h22.9v22.9h-22.9zM1383.9 1353.2h22.9v22.9h-22.9zM1383.9 1355.6h22.9v22.9h-22.9zM1383.9 1358h22.9v22.9h-22.9zM1383.9 1360.3h22.9v22.9h-22.9zM1383.9 1362.7h22.9v22.9h-22.9zM1386.3 1353.2h22.9v22.9h-22.9zM1386.3 1355.6h22.9v22.9h-22.9zM1386.3 1358h22.9v22.9h-22.9zM1386.3 1360.3h22.9v22.9h-22.9zM1388.6 1355.6h22.9v22.9h-22.9zM1443.2 1291.5h22.9v22.9h-22.9zM1443.2 1293.9h22.9v22.9h-22.9zM1443.2 1296.3h22.9v22.9h-22.9zM1445.6 1291.5h22.9v22.9h-22.9zM1445.6 1293.9h22.9v22.9h-22.9zM1445.6 1296.3h22.9v22.9h-22.9zM1445.6 1298.6h22.9v22.9h-22.9zM1448 1289.2h22.9v22.9h-22.9zM1448 1291.5h22.9v22.9h-22.9zM1448 1293.9h22.9v22.9h-22.9zM1448 1296.3h22.9v22.9h-22.9zM1450.3 1289.2h22.9v22.9h-22.9zM1450.3 1291.5h22.9v22.9h-22.9zM1450.3 1293.9h22.9v22.9h-22.9zM1450.3 1296.3h22.9v22.9h-22.9zM1452.7 1139.7h22.9v22.9h-22.9zM1452.7 1146.8h22.9v22.9h-22.9zM1452.7 1286.8h22.9v22.9h-22.9zM1452.7 1289.2h22.9v22.9h-22.9zM1452.7 1291.5h22.9v22.9h-22.9zM1452.7 1293.9h22.9v22.9h-22.9zM1455.1 1073.3h22.9v22.9h-22.9zM1455.1 1075.7h22.9v22.9h-22.9zM1455.1 1078h22.9v22.9h-22.9zM1455.1 1080.4h22.9v22.9h-22.9zM1455.1 1135h22.9v22.9h-22.9zM1455.1 1153.9h22.9v22.9h-22.9zM1455.1 1284.4h22.9v22.9h-22.9zM1455.1 1286.8h22.9v22.9h-22.9zM1455.1 1289.2h22.9v22.9h-22.9zM1455.1 1291.5h22.9v22.9h-22.9zM1457.4 1070.9h22.9v22.9h-22.9zM1457.4 1149.2h22.9v22.9h-22.9zM1457.4 1241.7h22.9v22.9h-22.9zM1457.4 1282h22.9v22.9h-22.9zM1457.4 1284.4h22.9v22.9h-22.9zM1457.4 1286.8h22.9v22.9h-22.9zM1457.4 1289.2h22.9v22.9h-22.9zM1459.8 1073.3h22.9v22.9h-22.9zM1459.8 1078h22.9v22.9h-22.9zM1459.8 1080.4h22.9v22.9h-22.9zM1459.8 1282h22.9v22.9h-22.9zM1459.8 1284.4h22.9v22.9h-22.9zM1459.8 1286.8h22.9v22.9h-22.9zM1459.8 1289.2h22.9v22.9h-22.9zM1462.2 1075.7h22.9v22.9h-22.9zM1462.2 1130.2h22.9v22.9h-22.9zM1462.2 1135h22.9v22.9h-22.9zM1462.2 1161.1h22.9v22.9h-22.9zM1462.2 1279.7h22.9v22.9h-22.9zM1462.2 1282h22.9v22.9h-22.9zM1462.2 1284.4h22.9v22.9h-22.9zM1462.2 1286.8h22.9v22.9h-22.9zM1464.6 1061.4h22.9v22.9h-22.9zM1464.6 1237h22.9v22.9h-22.9zM1464.6 1267.8h22.9v22.9h-22.9zM1464.6 1277.3h22.9v22.9h-22.9zM1464.6 1279.7h22.9v22.9h-22.9zM1464.6 1282h22.9v22.9h-22.9zM1464.6 1284.4h22.9v22.9h-22.9zM1466.9 1277.3h22.9v22.9h-22.9zM1466.9 1279.7h22.9v22.9h-22.9zM1466.9 1282h22.9v22.9h-22.9zM1469.3 1066.2h22.9v22.9h-22.9zM1469.3 1274.9h22.9v22.9h-22.9zM1469.3 1277.3h22.9v22.9h-22.9zM1469.3 1279.7h22.9v22.9h-22.9zM1471.7 1272.6h22.9v22.9h-22.9zM1471.7 1274.9h22.9v22.9h-22.9zM1471.7 1277.3h22.9v22.9h-22.9zM1474 1070.9h22.9v22.9h-22.9zM1476.4 1056.7h22.9v22.9h-22.9zM1476.4 1251.2h22.9v22.9h-22.9zM1476.4 1258.3h22.9v22.9h-22.9zM1476.4 1263.1h22.9v22.9h-22.9zM1476.4 1267.8h22.9v22.9h-22.9zM1476.4 1274.9h22.9v22.9h-22.9zM1481.2 1066.2h22.9v22.9h-22.9zM1483.5 1044.8h22.9v22.9h-22.9zM1483.5 1066.2h22.9v22.9h-22.9zM1485.9 1040.1h22.9v22.9h-22.9zM1493 1044.8h22.9v22.9h-22.9zM1495.4 1042.5h22.9v22.9h-22.9z"/>
<path stroke="#ff0000" d="M429.9 251.2l15.2 26.2h-30.4zM439.4 274.9l15.2 26.2h-30.4zM439.4 277.3l15.2 26.2h-30.4zM439.4 279.7l15.2 26.2h-30.4zM441.7 272.6l15.2 26.2h-30.4zM441.7 274.9l15.2 26.2h-30.4zM441.7 277.3l15.2 26.2h-30.4zM441.7 279.7l15.2 26.2h-30.4zM444.1 267.8l15.2 26.2h-30.4zM444.1 270.2l15.2 26.2h-30.4zM444.1 272.6l15.2 26.2h-30.4zM444.1 274.9l15.2 26.2h-30.4zM444.1 277.3l15.2 26.2h-30.4zM444.1 279.7l15.2 26.2h-30.4zM446.5 263.1l15.2 26.2h-30.4zM446.5 265.4l15.2 26.2h-30.4zM446.5 267.8l15.2 26.2h-30.4zM446.5 270.2l15.2 26.2h-30.4zM446.5 272.6l15.2 26.2h-30.4zM446.5 274.9l15.2 26.2h-30.4zM446.5 277.3l15.2 26.2h-30.4zM446.5 279.7l15.2 26.2h-30.4zM448.8 263.1l15.2 26.2h-30.4zM448.8 265.4l15.2 26.2h-30.4zM448.8 267.8l15.2 26.2h-30.4zM448.8 270.2l15.2 26.2h-30.4zM448.8 272.6l15.2 26.2h-30.4zM448.8 274.9l15.2 26.2h-30.4zM448.8 277.3l15.2 26.2h-30.4zM448.8 279.7l15.2 26.2h-30.4zM451.2 263.1l15.2 26.2h-30.4zM451.2 265.4l15.2 26.2h-30.4zM451.2 267.8l15.2 26.2h-30.4zM451.2 270.2l15.2 26.2h-30.4zM451.2 272.6l15.2 26.2h-30.4zM451.2 274.9l15.2 26.2h-30.4zM451.2 277.3l15.2 26.2h-30.4zM453.6 263.1l15.2 26.2h-30.4zM453.6 265.4l15.2 26.2h-30.4zM453.6 267.8l15.2 26.2h-30.4zM453.6 270.2l15.2 26.2h-30.4zM453.6 272.6l15.2 26.2h-30.4zM453.6 274.9l15.2 26.2h-30.4zM453.6 277.3l15.2 26.2h-30.4zM456 263.1l15.2 26.2h-30.4zM456 265.4l15.2 26.2h-30.4zM456 267.8l15.2 26.2h-30.4zM456 270.2l15.2 26.2h-30.4zM456 272.6l15.2 26.2h-30.4zM456 274.9l15.2 26.2h-30.4zM456 277.3l15.2 26.2h-30.4zM458.3 263.1l15.2 26.2h-30.4zM458.3 265.4l15.2 26.2h-30.4zM458.3 267.8l15.2 26.2h-30.4zM458.3 270.2l15.2 26.2h-30.4zM458.3 272.6l15.2 26.2h-30.4zM458.3 274.9l15.2 26.2h-30.4zM458.3 277.3l15.2 26.2h-30.4zM460.7 263.1l15.2 26.2h-30.4zM460.7 265.4l15.2 26.2h-30.4zM460.7 267.8l15.2 26.2h-30.4zM460.7 270.2l15.2 26.2h-30.4zM460.7 272.6l15.2 26.2h-30.4zM460.7 274.9l15.2 26.2h-30.4zM460.7 277.3l15.2 26.2h-30.4zM463.1 263.1l15.2 26.2h-30.4zM463.1 265.4l15.2 26.2h-30.4zM463.1 267.8l15.2 26.2h-30.4zM463.1 270.2l15.2 26.2h-30.4zM463.1 272.6l15.2 26.2h-30.4zM463.1 274.9l15.2 26.2h-30.4zM463.1 277.3l15.2 26.2h-30.4zM465.5 260.7l15.2 26.2h-30.4zM465.5 263.1l15.2 26.2h-30.4zM465.5 265.4l15.2 26.2h-30.4zM465.5 267.8l15.2 26.2h-30.4zM465.5 270.2l15.2 26.2h-30.4zM465.5 272.6l15.2 26.2h-30.4zM465.5 274.9l15.2 26.2h-30.4zM467.8 258.3l15.2 26.2h-30.4zM467.8 260.7l15.2 26.2h-30.4zM467.8 263.1l15.2 26.2h-30.4zM467.8 265.4l15.2 26.2h-30.4zM467.8 267.8l15.2 26.2h-30.4zM467.8 270.2l15.2 26.2h-30.4zM467.8 272.6l15.2 26.2h-30.4zM470.2 255.9l15.2 26.2h-30.4zM470.2 258.3l15.2 26.2h-30.4zM470.2 260.7l15.2 26.2h-30.4zM470.2 263.1l15.2 26.2h-30.4zM470.2 265.4l15.2 26.2h-30.4zM470.2 267.8l15.2 26.2h-30.4zM470.2 270.2l15.2 26.2h-30.4zM472.6 253.6l15.2 26.2h-30.4zM472.6 255.9l15.2 26.2h-30.4zM472.6 258.3l15.2 26.2h-30.4zM472.6 260.7l15.2 26.2h-30.4zM472.6 263.1l15.2 26.2h-30.4zM472.6 265.4l15.2 26.2h-30.4zM472.6 267.8l15.2 26.2h-30.4zM472.6 270.2l15.2 26.2h-30.4zM474.9 251.2l15.2 26.2h-30.4zM474.9 253.6l15.2 26.2h-30.4zM474.9 255.9l15.2 26.2h-30.4zM474.9 258.3l15.2 26.2h-30.4zM474.9 260.7l15.2 26.2h-30.4zM474.9 263.1l15.2 26.2h-30.4zM474.9 265.4l15.2 26.2h-30.4zM477.3 253.6l15.2 26.2h-30.4zM477.3 255.9l15.2 26.2h-30.4zM477.3 258.3l15.2 26.2h-30.4zM477.3 260.7l15.2 26.2h-30.4zM477.3 263.1l15.2 26.2h-30.4zM479.7 255.9l15.2 26.2h-30.4zM479.7 258.3l15.2 26.2h-30.4zM479.7 260.7l15.2 26.2h-30.4zM482.1 258.3l15.2 26.2h-30.4zM512.9 317.6l15.2 26.2h-30.4zM512.9 320l15.2 26.2h-30.4zM512.9 322.4l15.2 26.2h-30.4zM512.9 324.7l15.2 26.2h-30.4zM512.9 327.1l15.2 26.2h-30.4zM512.9 329.5l15.2 26.2h-30.4zM512.9 331.9l15.2 26.2h-30.4zM512.9 334.2l15.2 26.2h-30.4zM515.3 320l15.2 26.2h-30.4zM515.3 322.4l15.2 26.2h-30.4zM515.3 324.7l15.2 26.2h-30.4zM515.3 327.1l15.2 26.2h-30.4zM515.3 329.5l15.2 26.2h-30.4zM515.3 331.9l15.2 26.2h-30.4zM515.3 334.2l15.2 26.2h-30.4zM515.3 336.6l15.2 26.2h-30.4zM515.3 339l15.2 26.2h-30.4zM517.6 322.4l15.2 26.2h-30.4zM517.6 324.7l15.2 26.2h-30.4zM517.6 327.1l15.2 26.2h-30.4zM517.6 329.5l15.2 26.2h-30.4zM517.6 331.9l15.2 26.2h-30.4zM517.6 334.2l15.2 26.2h-30.4zM517.6 336.6l15.2 26.2h-30.4zM517.6 339l15.2 26.2h-30.4zM517.6 341.3l15.2 26.2h-30.4zM517.6 343.7l15.2 26.2h-30.4zM520 322.4l15.2 26.2h-30.4zM520 324.7l15.2 26.2h-30.4zM520 327.1l15.2 26.2h-30.4zM520 329.5l15.2 26.2h-30.4zM520 331.9l15.2 26.2h-30.4zM520 334.2l15.2 26.2h-30.4zM520 336.6l15.2 26.2h-30.4zM520 339l15.2 26.2h-30.4zM520 341.3l15.2 26.2h-30.4zM520 343.7l15.2 26.2h-30.4zM520 346.1l15.2 26.2h-30.4zM520 348.5l15.2 26.2h-30.4zM522.4 324.7l15.2 26.2h-30.4zM522.4 327.1l15.2 26.2h-30.4zM522.4 329.5l15.2 26.2h-30.4zM522.4 331.9l15.2 26.2h-30.4zM522.4 334.2l15.2 26.2h-30.4zM522.4 336.6l15.2 26.2h-30.4zM522.4 339l15.2 26.2h-30.4zM522.4 341.3l15.2 26.2h-30.4zM522.4 343.7l15.2 26.2h-30.4zM522.4 346.1l15.2 26.2h-30.4zM522.4 348.5l15.2 26.2h-30.4zM522.4 350.8l15.2 26.2h-30.4zM522.4 353.2l15.2 26.2h-30.4zM524.8 327.1l15.2 26.2h-30.4zM524.8 329.5l15.2 26.2h-30.4zM524.8 331.9l15.2 26.2h-30.4zM524.8 334.2l15.2 26.2h-30.4zM524.8 336.6l15.2 26.2h-30.4zM524.8 339l15.2 26.2h-30.4zM524.8 341.3l15.2 26.2h-30.4zM524.8 343.7l15.2 26.2h-30.4zM524.8 346.1l15.2 26.2h-30.4zM524.8 348.5l15.2 26.2h-30.4zM524.8 350.8l15.2 26.2h-30.4zM524.8 353.2l15.2 26.2h-30.4zM524.8 360.3l15.2 26.2h-30.4zM527.1 327.1l15.2 26.2h-30.4zM527.1 329.5l15.2 26.2h-30.4zM527.1 331.9l15.2 26.2h-30.4zM527.1 334.2l15.2 26.2h-30.4zM527.1 336.6l15.2 26.2h-30.4zM527.1 339l15.2 26.2h-30.4zM527.1 341.3l15.2 26.2h-30.4zM527.1 343.7l15.2 26.2h-30.4zM527.1 346.1l15.2 26.2h-30.4zM527.1 348.5l15.2 26.2h-30.4zM527.1 350.8l15.2 26.2h-30.4zM527.1 353.2l15.2 26.2h-30.4zM527.1 355.6l15.2 26.2h-30.4zM529.5 329.5l15.2 26.2h-30.4zM529.5 331.9l15.2 26.2h-30.4zM529.5 334.2l15.2 26.2h-30.4zM529.5 336.6l15.2 26.2h-30.4zM529.5 339l15.2 26.2h-30.4zM529.5 341.3l15.2 26.2h-30.4zM529.5 343.7l15.2 26.2h-30.4zM529.5 346.1l15.2 26.2h-30.4zM529.5 348.5l15.2 26.2h-30.4zM529.5 350.8l15.2 26.2h-30.4zM529.5 353.2l15.2 26.2h-30.4zM529.5 355.6l15.2 26.2h-30.4zM529.5 358l15.2 26.2h-30.4zM531.9 331.9l15.2 26.2h-30.4zM531.9 334.2l15.2 26.2h-30.4zM531.9 336.6l15.2 26.2h-30.4zM531.9 339l15.2 26.2h-30.4zM531.9 341.3l15.2 26.2h-30.4zM531.9 343.7l15.2 26.2h-30.4zM531.9 346.1l15.2 26.2h-30.4zM531.9 348.5l15.2 26.2h-30.4zM531.9 350.8l15.2 26.2h-30.4zM531.9 353.2l15.2 26.2h-30.4zM531.9 355.6l15.2 26.2h-30.4zM531.9 358l15.2 26.2h-30.4zM531.9 360.3l15.2 26.2h-30.4zM531.9 369.8l15.2 26.2h-30.4zM534.2 334.2l15.2 26.2h-30.4zM534.2 336.6l15.2 26.2h-30.4zM534.2 339l15.2 26.2h-30.4zM534.2 341.3l15.2 26.2h-30.4zM534.2 343.7l15.2 26.2h-30.4zM534.2 346.1l15.2 26.2h-30.4zM534.2 348.5l15.2 26.2h-30.4zM534.2 350.8l15.2 26.2h-30.4zM534.2 353.2l15.2 26.2h-30.4zM534.2 355.6l15.2 26.2h-30.4zM534.2 358l15.2 26.2h-30.4zM534.2 360.3l15.2 26.2h-30.4zM534.2 362.7l15.2 26.2h-30.4zM536.6 336.6l15.2 26.2h-30.4zM536.6 339l15.2 26.2h-30.4zM536.6 341.3l15.2 26.2h-30.4zM536.6 343.7l15.2 26.2h-30.4zM536.6 346.1l15.2 26.2h-30.4zM536.6 348.5l15.2 26.2h-30.4zM536.6 350.8l15.2 26.2h-30.4zM536.6 353.2l15.2 26.2h-30.4zM536.6 355.6l15.2 26.2h-30.4zM536.6 358l15.2 26.2h-30.4zM536.6 360.3l15.2 26.2h-30.4zM536.6 362.7l15.2 26.2h-30.4zM539 339l15.2 26.2h-30.4zM539 341.3l15.2 26.2h-30.4zM539 343.7l15.2 26.2h-30.4zM539 346.1l15.2 26.2h-30.4zM539 348.5l15.2 26.2h-30.4zM539 350.8l15.2 26.2h-30.4zM539 353.2l15.2 26.2h-30.4zM539 355.6l15.2 26.2h-30.4zM539 358l15.2 26.2h-30.4zM539 360.3l15.2 26.2h-30.4zM539 362.7l15.2 26.2h-30.4zM539 365.1l15.2 26.2h-30.4zM541.4 263.1l15.2 26.2h-30.4zM541.4 267.8l15.2 26.2h-30.4zM541.4 272.6l15.2 26.2h-30.4zM541.4 339l15.2 26.2h-30.4zM541.4 341.3l15.2 26.2h-30.4zM541.4 343.7l15.2 26.2h-30.4zM541.4 346.1l15.2 26.2h-30.4zM541.4 348.5l15.2 26.2h-30.4zM541.4 350.8l15.2 26.2h-30.4zM541.4 353.2l15.2 26.2h-30.4zM541.4 355.6l15.2 26.2h-30.4zM541.4 358l15.2 26.2h-30.4zM541.4 360.3l15.2 26.2h-30.4zM541.4 362.7l15.2 26.2h-30.4zM541.4 365.1l15.2 26.2h-30.4zM541.4 367.4l15.2 26.2h-30.4zM543.7 270.2l15.2 26.2h-30.4zM543.7 341.3l15.2 26.2h-30.4zM543.7 343.7l15.2 26.2h-30.4zM543.7 346.1l15.2 26.2h-30.4zM543.7 348.5l15.2 26.2h-30.4zM543.7 350.8l15.2 26.2h-30.4zM543.7 353.2l15.2 26.2h-30.4zM543.7 355.6l15.2 26.2h-30.4zM543.7 358l15.2 26.2h-30.4zM543.7 360.3l15.2 26.2h-30.4zM543.7 362.7l15.2 26.2h-30.4zM543.7 365.1l15.2 26.2h-30.4zM543.7 367.4l15.2 26.2h-30.4zM546.1 267.8l15.2 26.2h-30.4zM546.1 341.3l15.2 26.2h-30.4zM546.1 343.7l15.2 26.2h-30.4zM546.1 346.1l15.2 26.2h-30.4zM546.1 348.5l15.2 26.2h-30.4zM546.1 350.8l15.2 26.2h-30.4zM546.1 353.2l15.2 26.2h-30.4zM546.1 355.6l15.2 26.2h-30.4zM546.1 358l15.2 26.2h-30.4zM546.1 360.3l15.2 26.2h-30.4zM546.1 362.7l15.2 26.2h-30.4zM546.1 365.1l15.2 26.2h-30.4zM546.1 367.4l15.2 26.2h-30.4zM546.1 369.8l15.2 26.2h-30.4zM548.5 260.7l15.2 26.2h-30.4zM548.5 265.4l15.2 26.2h-30.4zM548.5 341.3l15.2 26.2h-30.4zM548.5 343.7l15.2 26.2h-30.4zM548.5 346.1l15.2 26.2h-30.4zM548.5 348.5l15.2 26.2h-30.4zM548.5 350.8l15.2 26.2h-30.4zM548.5 353.2l15.2 26.2h-30.4zM548.5 355.6l15.2 26.2h-30.4zM548.5 358l15.2 26.2h-30.4zM548.5 360.3l15.2 26.2h-30.4zM548.5 362.7l15.2 26.2h-30.4zM548.5 365.1l15.2 26.2h-30.4zM548.5 367.4l15.2 26.2h-30.4zM548.5 369.8l15.2 26.2h-30.4zM548.5 372.2l15.2 26.2h-30.4zM550.9 263.1l15.2 26.2h-30.4zM550.9 270.2l15.2 26.2h-30.4zM550.9 348.5l15.2 26.2h-30.4zM550.9 350.8l15.2 26.2h-30.4zM550.9 353.2l15.2 26.2h-30.4zM550.9 355.6l15.2 26.2h-30.4zM550.9 358l15.2 26.2h-30.4zM550.9 360.3l15.2 26.2h-30.4zM550.9 362.7l15.2 26.2h-30.4zM550.9 365.1l15.2 26.2h-30.4zM550.9 367.4l15.2 26.2h-30.4zM550.9 369.8l15.2 26.2h-30.4zM550.9 372.2l15.2 26.2h-30.4zM550.9 374.6l15.2 26.2h-30.4zM553.2 263.1l15.2 26.2h-30.4zM553.2 267.8l15.2 26.2h-30.4zM553.2 355.6l15.2 26.2h-30.4zM553.2 358l15.2 26.2h-30.4zM553.2 360.3l15.2 26.2h-30.4zM553.2 362.7l15.2 26.2h-30.4zM553.2 365.1l15.2 26.2h-30.4zM553.2 367.4l15.2 26.2h-30.4zM553.2 369.8l15.2 26.2h-30.4zM553.2 372.2l15.2 26.2h-30.4zM553.2 374.6l15.2 26.2h-30.4zM553.2 376.9l15.2 26.2h-30.4zM553.2 379.3l15.2 26.2h-30.4zM555.6 267.8l15.2 26.2h-30.4zM555.6 360.3l15.2 26.2h-30.4zM555.6 362.7l15.2 26.2h-30.4zM555.6 365.1l15.2 26.2h-30.4zM555.6 367.4l15.2 26.2h-30.4zM555.6 369.8l15.2 26.2h-30.4zM555.6 372.2l15.2 26.2h-30.4zM555.6 374.6l15.2 26.2h-30.4zM555.6 376.9l15.2 26.2h-30.4zM555.6 379.3l15.2 26.2h-30.4zM555.6 381.7l15.2 26.2h-30.4zM558 260.7l15.2 26.2h-30.4zM558 265.4l15.2 26.2h-30.4zM558 270.2l15.2 26.2h-30.4zM558 365.1l15.2 26.2h-30.4zM558 367.4l15.2 26.2h-30.4zM558 369.8l15.2 26.2h-30.4zM558 372.2l15.2 26.2h-30.4zM558 374.6l15.2 26.2h-30.4zM558 376.9l15.2 26.2h-30.4zM558 379.3l15.2 26.2h-30.4zM558 381.7l15.2 26.2h-30.4zM558 384l15.2 26.2h-30.4zM558 386.4l15.2 26.2h-30.4zM560.3 369.8l15.2 26.2h-30.4zM560.3 372.2l15.2 26.2h-30.4zM560.3 374.6l15.2 26.2h-30.4zM560.3 376.9l15.2 26.2h-30.4zM560.3 379.3l15.2 26.2h-30.4zM560.3 381.7l15.2 26.2h-30.4zM560.3 384l15.2 26.2h-30.4zM560.3 386.4l15.2 26.2h-30.4zM560.3 388.8l15.2 26.2h-30.4zM560.3 391.2l15.2 26.2h-30.4zM562.7 374.6l15.2 26.2h-30.4zM562.7 376.9l15.2 26.2h-30.4zM562.7 379.3l15.2 26.2h-30.4zM562.7 381.7l15.2 26.2h-30.4zM562.7 384l15.2 26.2h-30.4zM562.7 386.4l15.2 26.2h-30.4zM562.7 388.8l15.2 26.2h-30.4zM562.7 391.2l15.2 26.2h-30.4zM562.7 393.5l15.2 26.2h-30.4zM565.1 379.3l15.2 26.2h-30.4zM565.1 381.7l15.2 26.2h-30.4zM565.1 384l15.2 26.2h-30.4zM565.1 386.4l15.2 26.2h-30.4zM565.1 388.8l15.2 26.2h-30.4zM565.1 391.2l15.2 26.2h-30.4zM565.1 393.5l15.2 26.2h-30.4zM565.1 395.9l15.2 26.2h-30.4zM567.5 384l15.2 26.2h-30.4zM567.5 386.4l15.2 26.2h-30.4zM567.5 388.8l15.2 26.2h-30.4zM567.5 391.2l15.2 26.2h-30.4zM567.5 393.5l15.2 26.2h-30.4zM567.5 395.9l15.2 26.2h-30.4zM567.5 398.3l15.2 26.2h-30.4zM567.5 400.7l15.2 26.2h-30.4zM569.8 388.8l15.2 26.2h-30.4zM569.8 391.2l15.2 26.2h-30.4zM569.8 393.5l15.2 26.2h-30.4zM569.8 395.9l15.2 26.2h-30.4zM569.8 398.3l15.2 26.2h-30.4zM569.8 400.7l15.2 26.2h-30.4zM569.8 403l15.2 26.2h-30.4zM572.2 393.5l15.2 26.2h-30.4zM572.2 395.9l15.2 26.2h-30.4zM572.2 398.3l15.2 26.2h-30.4zM572.2 400.7l15.2 26.2h-30.4zM572.2 403l15.2 26.2h-30.4zM572.2 405.4l15.2 26.2h-30.4zM574.6 320l15.2 26.2h-30.4zM574.6 322.4l15.2 26.2h-30.4zM574.6 324.7l15.2 26.2h-30.4zM574.6 327.1l15.2 26.2h-30.4zM574.6 395.9l15.2 26.2h-30.4zM574.6 398.3l15.2 26.2h-30.4zM574.6 400.7l15.2 26.2h-30.4zM574.6 403l15.2 26.2h-30.4zM574.6 405.4l15.2 26.2h-30.4zM574.6 407.8l15.2 26.2h-30.4zM576.9 400.7l15.2 26.2h-30.4zM576.9 403l15.2 26.2h-30.4zM576.9 405.4l15.2 26.2h-30.4zM576.9 407.8l15.2 26.2h-30.4zM576.9 410.1l15.2 26.2h-30.4zM579.3 403l15.2 26.2h-30.4zM579.3 405.4l15.2 26.2h-30.4zM579.3 407.8l15.2 26.2h-30.4zM579.3 410.1l15.2 26.2h-30.4zM581.7 405.4l15.2 26.2h-30.4zM581.7 407.8l15.2 26.2h-30.4zM581.7 410.1l15.2 26.2h-30.4zM581.7 412.5l15.2 26.2h-30.4zM584.1 410.1l15.2 26.2h-30.4zM584.1 412.5l15.2 26.2h-30.4zM584.1 414.9l15.2 26.2h-30.4zM586.4 412.5l15.2 26.2h-30.4zM586.4 414.9l15.2 26.2h-30.4zM586.4 417.3l15.2 26.2h-30.4zM588.8 414.9l15.2 26.2h-30.4zM588.8 417.3l15.2 26.2h-30.4zM588.8 419.6l15.2 26.2h-30.4zM591.2 417.3l15.2 26.2h-30.4zM591.2 419.6l15.2 26.2h-30.4zM593.6 417.3l15.2 26.2h-30.4zM593.6 419.6l15.2 26.2h-30.4zM593.6 422l15.2 26.2h-30.4zM595.9 417.3l15.2 26.2h-30.4zM595.9 419.6l15.2 26.2h-30.4zM595.9 422l15.2 26.2h-30.4zM595.9 424.4l15.2 26.2h-30.4zM598.3 417.3l15.2 26.2h-30.4zM598.3 419.6l15.2 26.2h-30.4zM598.3 422l15.2 26.2h-30.4zM598.3 424.4l15.2 26.2h-30.4zM598.3 426.7l15.2 26.2h-30.4zM600.7 419.6l15.2 26.2h-30.4zM600.7 422l15.2 26.2h-30.4zM600.7 424.4l15.2 26.2h-30.4zM600.7 426.7l15.2 26.2h-30.4zM600.7 429.1l15.2 26.2h-30.4zM603 422l15.2 26.2h-30.4zM603 424.4l15.2 26.2h-30.4zM603 426.7l15.2 26.2h-30.4zM603 429.1l15.2 26.2h-30.4zM603 431.5l15.2 26.2h-30.4zM605.4 424.4l15.2 26.2h-30.4zM605.4 426.7l15.2 26.2h-30.4zM605.4 429.1l15.2 26.2h-30.4zM605.4 431.5l15.2 26.2h-30.4zM605.4 433.9l15.2 26.2h-30.4zM607.8 426.7l15.2 26.2h-30.4zM607.8 429.1l15.2 26.2h-30.4zM607.8 431.5l15.2 26.2h-30.4zM607.8 433.9l15.2 26.2h-30.4zM607.8 436.2l15.2 26.2h-30.4zM610.2 426.7l15.2 26.2h-30.4zM610.2 429.1l15.2 26.2h-30.4zM610.2 431.5l15.2 26.2h-30.4zM610.2 433.9l15.2 26.2h-30.4zM610.2 436.2l15.2 26.2h-30.4zM610.2 438.6l15.2 26.2h-30.4zM612.5 429.1l15.2 26.2h-30.4zM612.5 431.5l15.2 26.2h-30.4zM612.5 433.9l15.2 26.2h-30.4zM612.5 436.2l15.2 26.2h-30.4zM612.5 438.6l15.2 26.2h-30.4zM612.5 441l15.2 26.2h-30.4zM612.5 443.4l15.2 26.2h-30.4zM614.9 431.5l15.2 26.2h-30.4zM614.9 433.9l15.2 26.2h-30.4zM614.9 436.2l15.2 26.2h-30.4zM614.9 438.6l15.2 26.2h-30.4zM614.9 441l15.2 26.2h-30.4zM614.9 443.4l15.2 26.2h-30.4zM614.9 445.7l15.2 26.2h-30.4zM617.3 433.9l15.2 26.2h-30.4zM617.3 436.2l15.2 26.2h-30.4zM617.3 438.6l15.2 26.2h-30.4zM617.3 441l15.2 26.2h-30.4zM617.3 443.4l15.2 26.2h-30.4zM617.3 445.7l15.2 26.2h-30.4zM617.3 448.1l15.2 26.2h-30.4zM619.6 407.8l15.2 26.2h-30.4zM619.6 410.1l15.2 26.2h-30.4zM619.6 412.5l15.2 26.2h-30.4zM619.6 433.9l15.2 26.2h-30.4zM619.6 436.2l15.2 26.2h-30.4zM619.6 438.6l15.2 26.2h-30.4zM619.6 441l15.2 26.2h-30.4zM619.6 443.4l15.2 26.2h-30.4zM619.6 445.7l15.2 26.2h-30.4zM619.6 448.1l15.2 26.2h-30.4zM622 414.9l15.2 26.2h-30.4zM624.4 410.1l15.2 26.2h-30.4zM626.8 410.1l15.2 26.2h-30.4zM626.8 412.5l15.2 26.2h-30.4zM626.8 414.9l15.2 26.2h-30.4zM631.5 414.9l15.2 26.2h-30.4zM636.3 417.3l15.2 26.2h-30.4zM641 417.3l15.2 26.2h-30.4zM645.7 414.9l15.2 26.2h-30.4zM645.7 417.3l15.2 26.2h-30.4zM645.7 419.6l15.2 26.2h-30.4zM648.1 414.9l15.2 26.2h-30.4zM648.1 417.3l15.2 26.2h-30.4zM648.1 419.6l15.2 26.2h-30.4zM650.5 414.9l15.2 26.2h-30.4zM650.5 417.3l15.2 26.2h-30.4zM650.5 419.6l15.2 26.2h-30.4zM650.5 474.2l15.2 26.2h-30.4zM652.9 414.9l15.2 26.2h-30.4zM652.9 417.3l15.2 26.2h-30.4zM652.9 419.6l15.2 26.2h-30.4zM652.9 474.2l15.2 26.2h-30.4zM655.2 414.9l15.2 26.2h-30.4zM655.2 417.3l15.2 26.2h-30.4zM655.2 419.6l15.2 26.2h-30.4zM655.2 471.8l15.2 26.2h-30.4zM657.6 412.5l15.2 26.2h-30.4zM657.6 414.9l15.2 26.2h-30.4zM657.6 417.3l15.2 26.2h-30.4zM657.6 419.6l15.2 26.2h-30.4zM660 412.5l15.2 26.2h-30.4zM660 414.9l15.2 26.2h-30.4zM660 417.3l15.2 26.2h-30.4zM660 419.6l15.2 26.2h-30.4zM660 469.4l15.2 26.2h-30.4zM660 486.1l15.2 26.2h-30.4zM662.3 412.5l15.2 26.2h-30.4zM662.3 414.9l15.2 26.2h-30.4zM662.3 417.3l15.2 26.2h-30.4zM662.3 419.6l15.2 26.2h-30.4zM662.3 426.7l15.2 26.2h-30.4zM662.3 471.8l15.2 26.2h-30.4zM664.7 412.5l15.2 26.2h-30.4zM664.7 414.9l15.2 26.2h-30.4zM664.7 417.3l15.2 26.2h-30.4zM664.7 419.6l15.2 26.2h-30.4zM664.7 469.4l15.2 26.2h-30.4zM667.1 410.1l15.2 26.2h-30.4zM667.1 412.5l15.2 26.2h-30.4zM667.1 414.9l15.2 26.2h-30.4zM667.1 417.3l15.2 26.2h-30.4zM667.1 419.6l15.2 26.2h-30.4zM667.1 469.4l15.2 26.2h-30.4zM669.5 369.8l15.2 26.2h-30.4zM669.5 410.1l15.2 26.2h-30.4zM669.5 412.5l15.2 26.2h-30.4zM669.5 414.9l15.2 26.2h-30.4zM669.5 417.3l15.2 26.2h-30.4zM669.5 419.6l15.2 26.2h-30.4zM669.5 469.4l15.2 26.2h-30.4zM671.8 410.1l15.2 26.2h-30.4zM671.8 412.5l15.2 26.2h-30.4zM671.8 414.9l15.2 26.2h-30.4zM671.8 417.3l15.2 26.2h-30.4zM671.8 419.6l15.2 26.2h-30.4zM671.8 467.1l15.2 26.2h-30.4zM674.2 410.1l15.2 26.2h-30.4zM674.2 412.5l15.2 26.2h-30.4zM674.2 414.9l15.2 26.2h-30.4zM674.2 417.3l15.2 26.2h-30.4zM674.2 419.6l15.2 26.2h-30.4zM674.2 467.1l15.2 26.2h-30.4zM676.6 407.8l15.2 26.2h-30.4zM676.6 410.1l15.2 26.2h-30.4zM676.6 412.5l15.2 26.2h-30.4zM676.6 414.9l15.2 26.2h-30.4zM676.6 417.3l15.2 26.2h-30.4zM676.6 419.6l15.2 26.2h-30.4zM676.6 464.7l15.2 26.2h-30.4zM676.6 500.3l15.2 26.2h-30.4zM679 407.8l15.2 26.2h-30.4zM679 410.1l15.2 26.2h-30.4zM679 412.5l15.2 26.2h-30.4zM679 414.9l15.2 26.2h-30.4zM679 417.3l15.2 26.2h-30.4zM679 419.6l15.2 26.2h-30.4zM679 467.1l15.2 26.2h-30.4zM681.3 405.4l15.2 26.2h-30.4zM681.3 407.8l15.2 26.2h-30.4zM681.3 410.1l15.2 26.2h-30.4zM681.3 412.5l15.2 26.2h-30.4zM681.3 414.9l15.2 26.2h-30.4zM681.3 417.3l15.2 26.2h-30.4zM681.3 419.6l15.2 26.2h-30.4zM683.7 405.4l15.2 26.2h-30.4zM683.7 407.8l15.2 26.2h-30.4zM683.7 410.1l15.2 26.2h-30.4zM683.7 412.5l15.2 26.2h-30.4zM683.7 414.9l15.2 26.2h-30.4zM683.7 417.3l15.2 26.2h-30.4zM683.7 419.6l15.2 26.2h-30.4zM683.7 467.1l15.2 26.2h-30.4zM686.1 403l15.2 26.2h-30.4zM686.1 405.4l15.2 26.2h-30.4zM686.1 407.8l15.2 26.2h-30.4zM686.1 410.1l15.2 26.2h-30.4zM686.1 412.5l15.2 26.2h-30.4zM686.1 414.9l15.2 26.2h-30.4zM686.1 417.3l15.2 26.2h-30.4zM686.1 419.6l15.2 26.2h-30.4zM686.1 509.8l15.2 26.2h-30.4zM688.4 400.7l15.2 26.2h-30.4zM688.4 403l15.2 26.2h-30.4zM688.4 405.4l15.2 26.2h-30.4zM688.4 407.8l15.2 26.2h-30.4zM688.4 410.1l15.2 26.2h-30.4zM688.4 412.5l15.2 26.2h-30.4zM688.4 414.9l15.2 26.2h-30.4zM688.4 417.3l15.2 26.2h-30.4zM688.4 419.6l15.2 26.2h-30.4zM688.4 467.1l15.2 26.2h-30.4zM688.4 514.5l15.2 26.2h-30.4zM690.8 400.7l15.2 26.2h-30.4zM690.8 403l15.2 26.2h-30.4zM690.8 405.4l15.2 26.2h-30.4zM690.8 407.8l15.2 26.2h-30.4zM690.8 410.1l15.2 26.2h-30.4zM690.8 412.5l15.2 26.2h-30.4zM690.8 414.9l15.2 26.2h-30.4zM690.8 417.3l15.2 26.2h-30.4zM690.8 419.6l15.2 26.2h-30.4zM690.8 422l15.2 26.2h-30.4zM690.8 467.1l15.2 26.2h-30.4zM693.2 400.7l15.2 26.2h-30.4zM693.2 403l15.2 26.2h-30.4zM693.2 405.4l15.2 26.2h-30.4zM693.2 407.8l15.2 26.2h-30.4zM693.2 410.1l15.2 26.2h-30.4zM693.2 412.5l15.2 26.2h-30.4zM693.2 414.9l15.2 26.2h-30.4zM693.2 417.3l15.2 26.2h-30.4zM693.2 419.6l15.2 26.2h-30.4zM693.2 422l15.2 26.2h-30.4zM693.2 424.4l15.2 26.2h-30.4zM693.2 464.7l15.2 26.2h-30.4zM693.2 519.3l15.2 26.2h-30.4zM695.6 376.9l15.2 26.2h-30.4zM695.6 400.7l15.2 26.2h-30.4zM695.6 403l15.2 26.2h-30.4zM695.6 405.4l15.2 26.2h-30.4zM695.6 407.8l15.2 26.2h-30.4zM695.6 410.1l15.2 26.2h-30.4zM695.6 412.5l15.2 26.2h-30.4zM695.6 414.9l15.2 26.2h-30.4zM695.6 417.3l15.2 26.2h-30.4zM695.6 419.6l15.2 26.2h-30.4zM695.6 422l15.2 26.2h-30.4zM695.6 424.4l15.2 26.2h-30.4zM695.6 426.7l15.2 26.2h-30.4zM695.6 464.7l15.2 26.2h-30.4zM695.6 467.1l15.2 26.2h-30.4zM695.6 469.4l15.2 26.2h-30.4zM697.9 369.8l15.2 26.2h-30.4zM697.9 372.2l15.2 26.2h-30.4zM697.9 374.6l15.2 26.2h-30.4zM697.9 376.9l15.2 26.2h-30.4zM697.9 400.7l15.2 26.2h-30.4zM697.9 403l15.2 26.2h-30.4zM697.9 405.4l15.2 26.2h-30.4zM697.9 407.8l15.2 26.2h-30.4zM697.9 410.1l15.2 26.2h-30.4zM697.9 412.5l15.2 26.2h-30.4zM697.9 414.9l15.2 26.2h-30.4zM697.9 417.3l15.2 26.2h-30.4zM697.9 419.6l15.2 26.2h-30.4zM697.9 422l15.2 26.2h-30.4zM697.9 424.4l15.2 26.2h-30.4zM697.9 426.7l15.2 26.2h-30.4zM697.9 469.4l15.2 26.2h-30.4zM700.3 360.3l15.2 26.2h-30.4zM700.3 362.7l15.2 26.2h-30.4zM700.3 365.1l15.2 26.2h-30.4zM700.3 367.4l15.2 26.2h-30.4zM700.3 369.8l15.2 26.2h-30.4zM700.3 372.2l15.2 26.2h-30.4zM700.3 374.6l15.2 26.2h-30.4zM700.3 376.9l15.2 26.2h-30.4zM700.3 400.7l15.2 26.2h-30.4zM700.3 403l15.2 26.2h-30.4zM700.3 405.4l15.2 26.2h-30.4zM700.3 407.8l15.2 26.2h-30.4zM700.3 410.1l15.2 26.2h-30.4zM700.3 412.5l15.2 26.2h-30.4zM700.3 414.9l15.2 26.2h-30.4zM700.3 417.3l15.2 26.2h-30.4zM700.3 419.6l15.2 26.2h-30.4zM700.3 422l15.2 26.2h-30.4zM700.3 424.4l15.2 26.2h-30.4zM700.3 426.7l15.2 26.2h-30.4zM700.3 436.2l15.2 26.2h-30.4zM702.7 360.3l15.2 26.2h-30.4zM702.7 362.7l15.2 26.2h-30.4zM702.7 365.1l15.2 26.2h-30.4zM702.7 367.4l15.2 26.2h-30.4zM702.7 369.8l15.2 26.2h-30.4zM702.7 372.2l15.2 26.2h-30.4zM702.7 374.6l15.2 26.2h-30.4zM702.7 376.9l15.2 26.2h-30.4zM702.7 400.7l15.2 26.2h-30.4zM702.7 403l15.2 26.2h-30.4zM702.7 405.4l15.2 26.2h-30.4zM702.7 407.8l15.2 26.2h-30.4zM702.7 410.1l15.2 26.2h-30.4zM702.7 412.5l15.2 26.2h-30.4zM702.7 414.9l15.2 26.2h-30.4zM702.7 417.3l15.2 26.2h-30.4zM702.7 419.6l15.2 26.2h-30.4zM702.7 422l15.2 26.2h-30.4zM702.7 424.4l15.2 26.2h-30.4zM702.7 426.7l15.2 26.2h-30.4zM705 360.3l15.2 26.2h-30.4zM705 362.7l15.2 26.2h-30.4zM705 365.1l15.2 26.2h-30.4zM705 367.4l15.2 26.2h-30.4zM705 369.8l15.2 26.2h-30.4zM705 372.2l15.2 26.2h-30.4zM705 374.6l15.2 26.2h-30.4zM705 376.9l15.2 26.2h-30.4zM705 400.7l15.2 26.2h-30.4zM705 403l15.2 26.2h-30.4zM705 405.4l15.2 26.2h-30.4zM705 407.8l15.2 26.2h-30.4zM705 410.1l15.2 26.2h-30.4zM705 412.5l15.2 26.2h-30.4zM705 414.9l15.2 26.2h-30.4zM705 417.3l15.2 26.2h-30.4zM705 419.6l15.2 26.2h-30.4zM705 422l15.2 26.2h-30.4zM705 424.4l15.2 26.2h-30.4zM705 426.7l15.2 26.2h-30.4zM707.4 360.3l15.2 26.2h-30.4zM707.4 362.7l15.2 26.2h-30.4zM707.4 365.1l15.2 26.2h-30.4zM707.4 367.4l15.2 26.2h-30.4zM707.4 369.8l15.2 26.2h-30.4zM707.4 372.2l15.2 26.2h-30.4zM707.4 374.6l15.2 26.2h-30.4zM707.4 376.9l15.2 26.2h-30.4zM707.4 400.7l15.2 26.2h-30.4zM707.4 403l15.2 26.2h-30.4zM707.4 405.4l15.2 26.2h-30.4zM707.4 407.8l15.2 26.2h-30.4zM707.4 410.1l15.2 26.2h-30.4zM707.4 412.5l15.2 26.2h-30.4zM707.4 414.9l15.2 26.2h-30.4zM707.4 417.3l15.2 26.2h-30.4zM707.4 419.6l15.2 26.2h-30.4zM707.4 422l15.2 26.2h-30.4zM707.4 424.4l15.2 26.2h-30.4zM707.4 426.7l15.2 26.2h-30.4zM709.8 360.3l15.2 26.2h-30.4zM709.8 362.7l15.2 26.2h-30.4zM709.8 365.1l15.2 26.2h-30.4zM709.8 367.4l15.2 26.2h-30.4zM709.8 369.8l15.2 26.2h-30.4zM709.8 372.2l15.2 26.2h-30.4zM709.8 374.6l15.2 26.2h-30.4zM709.8 376.9l15.2 26.2h-30.4zM712.2 360.3l15.2 26.2h-30.4zM712.2 362.7l15.2 26.2h-30.4zM712.2 365.1l15.2 26.2h-30.4zM712.2 367.4l15.2 26.2h-30.4zM712.2 369.8l15.2 26.2h-30.4zM712.2 372.2l15.2 26.2h-30.4zM712.2 374.6l15.2 26.2h-30.4zM712.2 376.9l15.2 26.2h-30.4zM714.5 360.3l15.2 26.2h-30.4zM714.5 362.7l15.2 26.2h-30.4zM714.5 365.1l15.2 26.2h-30.4zM714.5 367.4l15.2 26.2h-30.4zM714.5 369.8l15.2 26.2h-30.4zM714.5 372.2l15.2 26.2h-30.4zM714.5 374.6l15.2 26.2h-30.4zM714.5 376.9l15.2 26.2h-30.4zM716.9 360.3l15.2 26.2h-30.4zM716.9 362.7l15.2 26.2h-30.4zM716.9 365.1l15.2 26.2h-30.4zM716.9 367.4l15.2 26.2h-30.4zM716.9 369.8l15.2 26.2h-30.4zM716.9 372.2l15.2 26.2h-30.4zM716.9 374.6l15.2 26.2h-30.4zM716.9 376.9l15.2 26.2h-30.4zM719.3 360.3l15.2 26.2h-30.4zM719.3 362.7l15.2 26.2h-30.4zM719.3 365.1l15.2 26.2h-30.4zM719.3 367.4l15.2 26.2h-30.4zM719.3 369.8l15.2 26.2h-30.4zM719.3 372.2l15.2 26.2h-30.4zM719.3 374.6l15.2 26.2h-30.4zM719.3 376.9l15.2 26.2h-30.4zM721.7 360.3l15.2 26.2h-30.4zM721.7 362.7l15.2 26.2h-30.4zM721.7 365.1l15.2 26.2h-30.4zM721.7 367.4l15.2 26.2h-30.4zM721.7 369.8l15.2 26.2h-30.4zM721.7 372.2l15.2 26.2h-30.4zM721.7 374.6l15.2 26.2h-30.4zM721.7 376.9l15.2 26.2h-30.4zM721.7 426.7l15.2 26.2h-30.4zM724 360.3l15.2 26.2h-30.4zM724 362.7l15.2 26.2h-30.4zM724 365.1l15.2 26.2h-30.4zM724 367.4l15.2 26.2h-30.4zM724 369.8l15.2 26.2h-30.4zM724 372.2l15.2 26.2h-30.4zM724 374.6l15.2 26.2h-30.4zM724 376.9l15.2 26.2h-30.4zM726.4 360.3l15.2 26.2h-30.4zM726.4 362.7l15.2 26.2h-30.4zM726.4 365.1l15.2 26.2h-30.4zM726.4 367.4l15.2 26.2h-30.4zM726.4 369.8l15.2 26.2h-30.4zM726.4 372.2l15.2 26.2h-30.4zM726.4 374.6l15.2 26.2h-30.4zM726.4 376.9l15.2 26.2h-30.4zM728.8 360.3l15.2 26.2h-30.4zM728.8 362.7l15.2 26.2h-30.4zM728.8 365.1l15.2 26.2h-30.4zM728.8 367.4l15.2 26.2h-30.4zM728.8 369.8l15.2 26.2h-30.4zM728.8 372.2l15.2 26.2h-30.4zM728.8 374.6l15.2 26.2h-30.4zM731.1 360.3l15.2 26.2h-30.4zM731.1 362.7l15.2 26.2h-30.4zM731.1 365.1l15.2 26.2h-30.4zM731.1 367.4l15.2 26.2h-30.4zM731.1 369.8l15.2 26.2h-30.4zM731.1 372.2l15.2 26.2h-30.4zM731.1 426.7l15.2 26.2h-30.4zM733.5 360.3l15.2 26.2h-30.4zM733.5 362.7l15.2 26.2h-30.4zM733.5 365.1l15.2 26.2h-30.4zM733.5 367.4l15.2 26.2h-30.4zM733.5 369.8l15.2 26.2h-30.4zM735.9 360.3l15.2 26.2h-30.4zM735.9 362.7l15.2 26.2h-30.4zM735.9 365.1l15.2 26.2h-30.4zM735.9 367.4l15.2 26.2h-30.4zM738.3 360.3l15.2 26.2h-30.4zM738.3 362.7l15.2 26.2h-30.4zM738.3 365.1l15.2 26.2h-30.4zM740.6 327.1l15.2 26.2h-30.4zM740.6 360.3l15.2 26.2h-30.4zM740.6 362.7l15.2 26.2h-30.4zM743 324.7l15.2 26.2h-30.4zM743 327.1l15.2 26.2h-30.4zM743 360.3l15.2 26.2h-30.4zM745.4 279.7l15.2 26.2h-30.4zM745.4 282l15.2 26.2h-30.4zM745.4 324.7l15.2 26.2h-30.4zM745.4 327.1l15.2 26.2h-30.4zM747.7 272.6l15.2 26.2h-30.4zM747.7 274.9l15.2 26.2h-30.4zM747.7 277.3l15.2 26.2h-30.4zM747.7 322.4l15.2 26.2h-30.4zM747.7 324.7l15.2 26.2h-30.4zM747.7 327.1l15.2 26.2h-30.4zM750.1 282l15.2 26.2h-30.4zM750.1 322.4l15.2 26.2h-30.4zM750.1 324.7l15.2 26.2h-30.4zM750.1 327.1l15.2 26.2h-30.4zM752.5 277.3l15.2 26.2h-30.4zM752.5 279.7l15.2 26.2h-30.4zM752.5 282l15.2 26.2h-30.4zM752.5 320l15.2 26.2h-30.4zM752.5 322.4l15.2 26.2h-30.4zM752.5 324.7l15.2 26.2h-30.4zM752.5 327.1l15.2 26.2h-30.4zM754.9 272.6l15.2 26.2h-30.4zM754.9 274.9l15.2 26.2h-30.4zM754.9 282l15.2 26.2h-30.4zM754.9 320l15.2 26.2h-30.4zM754.9 322.4l15.2 26.2h-30.4zM754.9 324.7l15.2 26.2h-30.4zM754.9 327.1l15.2 26.2h-30.4zM757.2 279.7l15.2 26.2h-30.4zM757.2 317.6l15.2 26.2h-30.4zM757.2 320l15.2 26.2h-30.4zM757.2 322.4l15.2 26.2h-30.4zM757.2 324.7l15.2 26.2h-30.4zM757.2 327.1l15.2 26.2h-30.4zM759.6 282l15.2 26.2h-30.4zM759.6 317.6l15.2 26.2h-30.4zM759.6 320l15.2 26.2h-30.4zM759.6 322.4l15.2 26.2h-30.4zM759.6 324.7l15.2 26.2h-30.4zM759.6 327.1l15.2 26.2h-30.4zM762 317.6l15.2 26.2h-30.4zM762 320l15.2 26.2h-30.4zM762 322.4l15.2 26.2h-30.4zM762 324.7l15.2 26.2h-30.4zM762 327.1l15.2 26.2h-30.4zM764.3 317.6l15.2 26.2h-30.4zM764.3 320l15.2 26.2h-30.4zM764.3 322.4l15.2 26.2h-30.4zM764.3 324.7l15.2 26.2h-30.4zM764.3 327.1l15.2 26.2h-30.4zM766.7 282l15.2 26.2h-30.4zM766.7 317.6l15.2 26.2h-30.4zM766.7 320l15.2 26.2h-30.4zM766.7 322.4l15.2 26.2h-30.4zM766.7 324.7l15.2 26.2h-30.4zM766.7 327.1l15.2 26.2h-30.4zM769.1 315.3l15.2 26.2h-30.4zM769.1 317.6l15.2 26.2h-30.4zM769.1 320l15.2 26.2h-30.4zM769.1 322.4l15.2 26.2h-30.4zM769.1 324.7l15.2 26.2h-30.4zM769.1 327.1l15.2 26.2h-30.4zM771.5 315.3l15.2 26.2h-30.4zM771.5 317.6l15.2 26.2h-30.4zM771.5 320l15.2 26.2h-30.4zM771.5 322.4l15.2 26.2h-30.4zM771.5 324.7l15.2 26.2h-30.4zM771.5 327.1l15.2 26.2h-30.4zM785.7 426.7l15.2 26.2h-30.4zM785.7 474.2l15.2 26.2h-30.4zM785.7 552.5l15.2 26.2h-30.4zM788.1 360.3l15.2 26.2h-30.4zM788.1 426.7l15.2 26.2h-30.4zM788.1 597.5l15.2 26.2h-30.4zM788.1 604.7l15.2 26.2h-30.4zM788.1 611.8l15.2 26.2h-30.4zM788.1 621.3l15.2 26.2h-30.4zM790.4 358l15.2 26.2h-30.4zM790.4 424.4l15.2 26.2h-30.4zM790.4 607l15.2 26.2h-30.4zM790.4 609.4l15.2 26.2h-30.4zM790.4 611.8l15.2 26.2h-30.4zM790.4 614.2l15.2 26.2h-30.4zM790.4 616.5l15.2 26.2h-30.4zM790.4 618.9l15.2 26.2h-30.4zM790.4 621.3l15.2 26.2h-30.4zM792.8 339l15.2 26.2h-30.4zM792.8 343.7l15.2 26.2h-30.4zM792.8 348.5l15.2 26.2h-30.4zM792.8 353.2l15.2 26.2h-30.4zM792.8 358l15.2 26.2h-30.4zM792.8 417.3l15.2 26.2h-30.4zM792.8 422l15.2 26.2h-30.4zM792.8 426.7l15.2 26.2h-30.4zM792.8 429.1l15.2 26.2h-30.4zM792.8 433.9l15.2 26.2h-30.4zM792.8 562l15.2 26.2h-30.4zM792.8 597.5l15.2 26.2h-30.4zM792.8 607l15.2 26.2h-30.4zM792.8 609.4l15.2 26.2h-30.4zM792.8 611.8l15.2 26.2h-30.4zM792.8 614.2l15.2 26.2h-30.4zM792.8 616.5l15.2 26.2h-30.4zM792.8 618.9l15.2 26.2h-30.4zM792.8 621.3l15.2 26.2h-30.4zM792.8 623.6l15.2 26.2h-30.4zM795.2 346.1l15.2 26.2h-30.4zM795.2 348.5l15.2 26.2h-30.4zM795.2 350.8l15.2 26.2h-30.4zM795.2 353.2l15.2 26.2h-30.4zM795.2 355.6l15.2 26.2h-30.4zM795.2 358l15.2 26.2h-30.4zM795.2 360.3l15.2 26.2h-30.4zM795.2 424.4l15.2 26.2h-30.4zM795.2 607l15.2 26.2h-30.4zM795.2 609.4l15.2 26.2h-30.4zM795.2 611.8l15.2 26.2h-30.4zM795.2 614.2l15.2 26.2h-30.4zM795.2 616.5l15.2 26.2h-30.4zM795.2 618.9l15.2 26.2h-30.4zM795.2 621.3l15.2 26.2h-30.4zM795.2 623.6l15.2 26.2h-30.4zM795.2 626l15.2 26.2h-30.4zM795.2 633.1l15.2 26.2h-30.4zM797.6 353.2l15.2 26.2h-30.4zM797.6 360.3l15.2 26.2h-30.4zM797.6 426.7l15.2 26.2h-30.4zM797.6 604.7l15.2 26.2h-30.4zM797.6 607l15.2 26.2h-30.4zM797.6 609.4l15.2 26.2h-30.4zM797.6 611.8l15.2 26.2h-30.4zM797.6 614.2l15.2 26.2h-30.4zM797.6 616.5l15.2 26.2h-30.4zM797.6 618.9l15.2 26.2h-30.4zM797.6 621.3l15.2 26.2h-30.4zM797.6 623.6l15.2 26.2h-30.4zM797.6 626l15.2 26.2h-30.4zM797.6 628.4l15.2 26.2h-30.4zM797.6 630.8l15.2 26.2h-30.4zM799.9 358l15.2 26.2h-30.4zM799.9 436.2l15.2 26.2h-30.4zM799.9 607l15.2 26.2h-30.4zM799.9 609.4l15.2 26.2h-30.4zM799.9 611.8l15.2 26.2h-30.4zM799.9 614.2l15.2 26.2h-30.4zM799.9 616.5l15.2 26.2h-30.4zM799.9 618.9l15.2 26.2h-30.4zM799.9 621.3l15.2 26.2h-30.4zM799.9 623.6l15.2 26.2h-30.4zM799.9 626l15.2 26.2h-30.4zM799.9 628.4l15.2 26.2h-30.4zM799.9 630.8l15.2 26.2h-30.4zM802.3 358l15.2 26.2h-30.4zM802.3 426.7l15.2 26.2h-30.4zM802.3 609.4l15.2 26.2h-30.4zM802.3 611.8l15.2 26.2h-30.4zM802.3 614.2l15.2 26.2h-30.4zM802.3 616.5l15.2 26.2h-30.4zM802.3 618.9l15.2 26.2h-30.4zM802.3 621.3l15.2 26.2h-30.4zM802.3 623.6l15.2 26.2h-30.4zM802.3 626l15.2 26.2h-30.4zM802.3 628.4l15.2 26.2h-30.4zM802.3 630.8l15.2 26.2h-30.4zM802.3 633.1l15.2 26.2h-30.4zM802.3 640.2l15.2 26.2h-30.4zM804.7 611.8l15.2 26.2h-30.4zM804.7 614.2l15.2 26.2h-30.4zM804.7 616.5l15.2 26.2h-30.4zM804.7 618.9l15.2 26.2h-30.4zM804.7 621.3l15.2 26.2h-30.4zM804.7 623.6l15.2 26.2h-30.4zM804.7 626l15.2 26.2h-30.4zM804.7 628.4l15.2 26.2h-30.4zM804.7 630.8l15.2 26.2h-30.4zM804.7 633.1l15.2 26.2h-30.4zM804.7 635.5l15.2 26.2h-30.4zM807 614.2l15.2 26.2h-30.4zM807 616.5l15.2 26.2h-30.4zM807 618.9l15.2 26.2h-30.4zM807 621.3l15.2 26.2h-30.4zM807 623.6l15.2 26.2h-30.4zM807 626l15.2 26.2h-30.4zM807 628.4l15.2 26.2h-30.4zM807 630.8l15.2 26.2h-30.4zM807 633.1l15.2 26.2h-30.4zM807 635.5l15.2 26.2h-30.4zM807 637.9l15.2 26.2h-30.4zM809.4 614.2l15.2 26.2h-30.4zM809.4 616.5l15.2 26.2h-30.4zM809.4 618.9l15.2 26.2h-30.4zM809.4 621.3l15.2 26.2h-30.4zM809.4 623.6l15.2 26.2h-30.4zM809.4 626l15.2 26.2h-30.4zM809.4 628.4l15.2 26.2h-30.4zM809.4 630.8l15.2 26.2h-30.4zM809.4 633.1l15.2 26.2h-30.4zM809.4 635.5l15.2 26.2h-30.4zM809.4 637.9l15.2 26.2h-30.4zM811.8 616.5l15.2 26.2h-30.4zM811.8 618.9l15.2 26.2h-30.4zM811.8 621.3l15.2 26.2h-30.4zM811.8 623.6l15.2 26.2h-30.4zM811.8 626l15.2 26.2h-30.4zM811.8 628.4l15.2 26.2h-30.4zM811.8 630.8l15.2 26.2h-30.4zM811.8 633.1l15.2 26.2h-30.4zM811.8 635.5l15.2 26.2h-30.4zM811.8 637.9l15.2 26.2h-30.4zM814.2 618.9l15.2 26.2h-30.4zM814.2 621.3l15.2 26.2h-30.4zM814.2 623.6l15.2 26.2h-30.4zM814.2 626l15.2 26.2h-30.4zM814.2 628.4l15.2 26.2h-30.4zM814.2 630.8l15.2 26.2h-30.4zM814.2 633.1l15.2 26.2h-30.4zM814.2 635.5l15.2 26.2h-30.4zM814.2 637.9l15.2 26.2h-30.4zM814.2 640.2l15.2 26.2h-30.4zM816.5 621.3l15.2 26.2h-30.4zM816.5 623.6l15.2 26.2h-30.4zM816.5 626l15.2 26.2h-30.4zM816.5 628.4l15.2 26.2h-30.4zM816.5 630.8l15.2 26.2h-30.4zM816.5 633.1l15.2 26.2h-30.4zM816.5 635.5l15.2 26.2h-30.4zM816.5 637.9l15.2 26.2h-30.4zM816.5 640.2l15.2 26.2h-30.4zM818.9 623.6l15.2 26.2h-30.4zM818.9 626l15.2 26.2h-30.4zM818.9 628.4l15.2 26.2h-30.4zM818.9 630.8l15.2 26.2h-30.4zM818.9 633.1l15.2 26.2h-30.4zM818.9 635.5l15.2 26.2h-30.4zM818.9 637.9l15.2 26.2h-30.4zM818.9 640.2l15.2 26.2h-30.4zM818.9 642.6l15.2 26.2h-30.4zM821.3 623.6l15.2 26.2h-30.4zM821.3 626l15.2 26.2h-30.4zM821.3 628.4l15.2 26.2h-30.4zM821.3 630.8l15.2 26.2h-30.4zM821.3 633.1l15.2 26.2h-30.4zM821.3 635.5l15.2 26.2h-30.4zM821.3 637.9l15.2 26.2h-30.4zM821.3 640.2l15.2 26.2h-30.4zM821.3 642.6l15.2 26.2h-30.4zM823.7 628.4l15.2 26.2h-30.4zM823.7 630.8l15.2 26.2h-30.4zM823.7 633.1l15.2 26.2h-30.4zM823.7 635.5l15.2 26.2h-30.4zM823.7 637.9l15.2 26.2h-30.4zM823.7 640.2l15.2 26.2h-30.4zM823.7 642.6l15.2 26.2h-30.4zM823.7 645l15.2 26.2h-30.4zM823.7 647.4l15.2 26.2h-30.4zM823.7 649.7l15.2 26.2h-30.4zM823.7 652.1l15.2 26.2h-30.4zM823.7 654.5l15.2 26.2h-30.4zM823.7 656.8l15.2 26.2h-30.4zM823.7 659.2l15.2 26.2h-30.4zM826 630.8l15.2 26.2h-30.4zM826 633.1l15.2 26.2h-30.4zM826 635.5l15.2 26.2h-30.4zM826 637.9l15.2 26.2h-30.4zM826 640.2l15.2 26.2h-30.4zM826 642.6l15.2 26.2h-30.4zM826 645l15.2 26.2h-30.4zM826 647.4l15.2 26.2h-30.4zM826 649.7l15.2 26.2h-30.4zM826 652.1l15.2 26.2h-30.4zM826 654.5l15.2 26.2h-30.4zM826 656.8l15.2 26.2h-30.4zM826 659.2l15.2 26.2h-30.4zM826 661.6l15.2 26.2h-30.4zM828.4 633.1l15.2 26.2h-30.4zM828.4 635.5l15.2 26.2h-30.4zM828.4 637.9l15.2 26.2h-30.4zM828.4 640.2l15.2 26.2h-30.4zM828.4 642.6l15.2 26.2h-30.4zM828.4 645l15.2 26.2h-30.4zM828.4 647.4l15.2 26.2h-30.4zM828.4 649.7l15.2 26.2h-30.4zM828.4 652.1l15.2 26.2h-30.4zM828.4 654.5l15.2 26.2h-30.4zM828.4 656.8l15.2 26.2h-30.4zM828.4 659.2l15.2 26.2h-30.4zM828.4 661.6l15.2 26.2h-30.4zM828.4 664l15.2 26.2h-30.4zM830.8 637.9l15.2 26.2h-30.4zM830.8 640.2l15.2 26.2h-30.4zM830.8 642.6l15.2 26.2h-30.4zM830.8 645l15.2 26.2h-30.4zM830.8 647.4l15.2 26.2h-30.4zM830.8 649.7l15.2 26.2h-30.4zM830.8 652.1l15.2 26.2h-30.4zM830.8 654.5l15.2 26.2h-30.4zM830.8 656.8l15.2 26.2h-30.4zM830.8 659.2l15.2 26.2h-30.4zM830.8 661.6l15.2 26.2h-30.4zM830.8 664l15.2 26.2h-30.4zM830.8 666.3l15.2 26.2h-30.4zM833.1 640.2l15.2 26.2h-30.4zM833.1 642.6l15.2 26.2h-30.4zM833.1 645l15.2 26.2h-30.4zM833.1 647.4l15.2 26.2h-30.4zM833.1 649.7l15.2 26.2h-30.4zM833.1 652.1l15.2 26.2h-30.4zM833.1 654.5l15.2 26.2h-30.4zM833.1 656.8l15.2 26.2h-30.4zM833.1 659.2l15.2 26.2h-30.4zM833.1 661.6l15.2 26.2h-30.4zM833.1 664l15.2 26.2h-30.4zM833.1 666.3l15.2 26.2h-30.4zM833.1 668.7l15.2 26.2h-30.4zM835.5 324.7l15.2 26.2h-30.4zM835.5 642.6l15.2 26.2h-30.4zM835.5 645l15.2 26.2h-30.4zM835.5 647.4l15.2 26.2h-30.4zM835.5 649.7l15.2 26.2h-30.4zM835.5 652.1l15.2 26.2h-30.4zM835.5 654.5l15.2 26.2h-30.4zM835.5 656.8l15.2 26.2h-30.4zM835.5 659.2l15.2 26.2h-30.4zM835.5 661.6l15.2 26.2h-30.4zM835.5 664l15.2 26.2h-30.4zM835.5 666.3l15.2 26.2h-30.4zM835.5 668.7l15.2 26.2h-30.4zM835.5 671.1l15.2 26.2h-30.4zM837.9 320l15.2 26.2h-30.4zM837.9 322.4l15.2 26.2h-30.4zM837.9 324.7l15.2 26.2h-30.4zM837.9 647.4l15.2 26.2h-30.4zM837.9 649.7l15.2 26.2h-30.4zM837.9 652.1l15.2 26.2h-30.4zM837.9 654.5l15.2 26.2h-30.4zM837.9 656.8l15.2 26.2h-30.4zM837.9 659.2l15.2 26.2h-30.4zM837.9 661.6l15.2 26.2h-30.4zM837.9 664l15.2 26.2h-30.4zM837.9 666.3l15.2 26.2h-30.4zM837.9 668.7l15.2 26.2h-30.4zM837.9 671.1l15.2 26.2h-30.4zM837.9 673.5l15.2 26.2h-30.4zM840.3 649.7l15.2 26.2h-30.4zM840.3 652.1l15.2 26.2h-30.4zM840.3 654.5l15.2 26.2h-30.4zM840.3 656.8l15.2 26.2h-30.4zM840.3 659.2l15.2 26.2h-30.4zM840.3 661.6l15.2 26.2h-30.4zM840.3 664l15.2 26.2h-30.4zM840.3 666.3l15.2 26.2h-30.4zM840.3 668.7l15.2 26.2h-30.4zM840.3 671.1l15.2 26.2h-30.4zM840.3 673.5l15.2 26.2h-30.4zM840.3 675.8l15.2 26.2h-30.4zM842.6 652.1l15.2 26.2h-30.4zM842.6 654.5l15.2 26.2h-30.4zM842.6 656.8l15.2 26.2h-30.4zM842.6 659.2l15.2 26.2h-30.4zM842.6 661.6l15.2 26.2h-30.4zM842.6 664l15.2 26.2h-30.4zM842.6 666.3l15.2 26.2h-30.4zM842.6 668.7l15.2 26.2h-30.4zM842.6 671.1l15.2 26.2h-30.4zM842.6 673.5l15.2 26.2h-30.4zM842.6 675.8l15.2 26.2h-30.4zM842.6 678.2l15.2 26.2h-30.4zM845 656.8l15.2 26.2h-30.4zM845 659.2l15.2 26.2h-30.4zM845 661.6l15.2 26.2h-30.4zM845 664l15.2 26.2h-30.4zM845 666.3l15.2 26.2h-30.4zM845 668.7l15.2 26.2h-30.4zM845 671.1l15.2 26.2h-30.4zM845 673.5l15.2 26.2h-30.4zM845 675.8l15.2 26.2h-30.4zM845 678.2l15.2 26.2h-30.4zM845 680.6l15.2 26.2h-30.4zM847.4 659.2l15.2 26.2h-30.4zM847.4 661.6l15.2 26.2h-30.4zM847.4 664l15.2 26.2h-30.4zM847.4 666.3l15.2 26.2h-30.4zM847.4 668.7l15.2 26.2h-30.4zM847.4 671.1l15.2 26.2h-30.4zM847.4 673.5l15.2 26.2h-30.4zM847.4 675.8l15.2 26.2h-30.4zM847.4 678.2l15.2 26.2h-30.4zM847.4 680.6l15.2 26.2h-30.4zM849.7 664l15.2 26.2h-30.4zM849.7 666.3l15.2 26.2h-30.4zM849.7 668.7l15.2 26.2h-30.4zM849.7 671.1l15.2 26.2h-30.4zM849.7 673.5l15.2 26.2h-30.4zM849.7 675.8l15.2 26.2h-30.4zM849.7 678.2l15.2 26.2h-30.4zM849.7 680.6l15.2 26.2h-30.4zM852.1 666.3l15.2 26.2h-30.4zM852.1 668.7l15.2 26.2h-30.4zM852.1 671.1l15.2 26.2h-30.4zM852.1 673.5l15.2 26.2h-30.4zM852.1 675.8l15.2 26.2h-30.4zM852.1 678.2l15.2 26.2h-30.4zM852.1 680.6l15.2 26.2h-30.4zM854.5 419.6l15.2 26.2h-30.4zM854.5 671.1l15.2 26.2h-30.4zM854.5 673.5l15.2 26.2h-30.4zM854.5 675.8l15.2 26.2h-30.4zM854.5 678.2l15.2 26.2h-30.4zM856.9 543l15.2 26.2h-30.4zM856.9 545.4l15.2 26.2h-30.4zM856.9 547.7l15.2 26.2h-30.4zM856.9 552.5l15.2 26.2h-30.4zM856.9 673.5l15.2 26.2h-30.4zM856.9 675.8l15.2 26.2h-30.4zM859.2 675.8l15.2 26.2h-30.4zM897.2 360.3l15.2 26.2h-30.4zM897.2 673.5l15.2 26.2h-30.4zM899.6 481.3l15.2 26.2h-30.4zM901.9 419.6l15.2 26.2h-30.4zM901.9 488.4l15.2 26.2h-30.4zM901.9 490.8l15.2 26.2h-30.4zM901.9 675.8l15.2 26.2h-30.4zM904.3 739.9l15.2 26.2h-30.4zM909.1 545.4l15.2 26.2h-30.4zM913.8 737.5l15.2 26.2h-30.4zM913.8 739.9l15.2 26.2h-30.4zM913.8 742.2l15.2 26.2h-30.4zM913.8 744.6l15.2 26.2h-30.4zM913.8 747l15.2 26.2h-30.4zM913.8 749.4l15.2 26.2h-30.4zM913.8 751.7l15.2 26.2h-30.4zM913.8 754.1l15.2 26.2h-30.4zM916.2 597.5l15.2 26.2h-30.4zM916.2 599.9l15.2 26.2h-30.4zM916.2 680.6l15.2 26.2h-30.4zM916.2 682.9l15.2 26.2h-30.4zM916.2 685.3l15.2 26.2h-30.4zM916.2 687.7l15.2 26.2h-30.4zM916.2 737.5l15.2 26.2h-30.4zM916.2 739.9l15.2 26.2h-30.4zM916.2 742.2l15.2 26.2h-30.4zM916.2 744.6l15.2 26.2h-30.4zM916.2 747l15.2 26.2h-30.4zM916.2 749.4l15.2 26.2h-30.4zM916.2 751.7l15.2 26.2h-30.4zM918.5 597.5l15.2 26.2h-30.4zM918.5 599.9l15.2 26.2h-30.4zM918.5 680.6l15.2 26.2h-30.4zM918.5 682.9l15.2 26.2h-30.4zM918.5 685.3l15.2 26.2h-30.4zM918.5 687.7l15.2 26.2h-30.4zM918.5 690.1l15.2 26.2h-30.4zM918.5 735.1l15.2 26.2h-30.4zM918.5 737.5l15.2 26.2h-30.4zM918.5 739.9l15.2 26.2h-30.4zM918.5 742.2l15.2 26.2h-30.4zM918.5 744.6l15.2 26.2h-30.4zM918.5 747l15.2 26.2h-30.4zM918.5 749.4l15.2 26.2h-30.4zM918.5 751.7l15.2 26.2h-30.4zM920.9 680.6l15.2 26.2h-30.4zM920.9 682.9l15.2 26.2h-30.4zM920.9 685.3l15.2 26.2h-30.4zM920.9 687.7l15.2 26.2h-30.4zM920.9 690.1l15.2 26.2h-30.4zM920.9 692.4l15.2 26.2h-30.4zM920.9 732.8l15.2 26.2h-30.4zM920.9 735.1l15.2 26.2h-30.4zM920.9 737.5l15.2 26.2h-30.4zM920.9 739.9l15.2 26.2h-30.4zM920.9 742.2l15.2 26.2h-30.4zM920.9 744.6l15.2 26.2h-30.4zM920.9 747l15.2 26.2h-30.4zM920.9 749.4l15.2 26.2h-30.4zM920.9 751.7l15.2 26.2h-30.4zM923.3 680.6l15.2 26.2h-30.4zM923.3 682.9l15.2 26.2h-30.4zM923.3 685.3l15.2 26.2h-30.4zM923.3 687.7l15.2 26.2h-30.4zM923.3 690.1l15.2 26.2h-30.4zM923.3 692.4l15.2 26.2h-30.4zM923.3 694.8l15.2 26.2h-30.4zM923.3 697.2l15.2 26.2h-30.4zM923.3 730.4l15.2 26.2h-30.4zM923.3 732.8l15.2 26.2h-30.4zM923.3 735.1l15.2 26.2h-30.4zM923.3 737.5l15.2 26.2h-30.4zM923.3 739.9l15.2 26.2h-30.4zM923.3 742.2l15.2 26.2h-30.4zM923.3 744.6l15.2 26.2h-30.4zM923.3 747l15.2 26.2h-30.4zM923.3 749.4l15.2 26.2h-30.4zM923.3 751.7l15.2 26.2h-30.4zM925.7 680.6l15.2 26.2h-30.4zM925.7 682.9l15.2 26.2h-30.4zM925.7 685.3l15.2 26.2h-30.4zM925.7 687.7l15.2 26.2h-30.4zM925.7 690.1l15.2 26.2h-30.4zM925.7 692.4l15.2 26.2h-30.4zM925.7 694.8l15.2 26.2h-30.4zM925.7 697.2l15.2 26.2h-30.4zM925.7 699.5l15.2 26.2h-30.4zM925.7 701.9l15.2 26.2h-30.4zM925.7 704.3l15.2 26.2h-30.4zM925.7 706.7l15.2 26.2h-30.4zM925.7 709l15.2 26.2h-30.4zM925.7 711.4l15.2 26.2h-30.4zM925.7 713.8l15.2 26.2h-30.4zM925.7 716.2l15.2 26.2h-30.4zM925.7 718.5l15.2 26.2h-30.4zM925.7 720.9l15.2 26.2h-30.4zM925.7 723.3l15.2 26.2h-30.4zM925.7 725.6l15.2 26.2h-30.4zM925.7 728l15.2 26.2h-30.4zM925.7 730.4l15.2 26.2h-30.4zM925.7 732.8l15.2 26.2h-30.4zM925.7 735.1l15.2 26.2h-30.4zM925.7 737.5l15.2 26.2h-30.4zM925.7 739.9l15.2 26.2h-30.4zM925.7 742.2l15.2 26.2h-30.4zM925.7 744.6l15.2 26.2h-30.4zM925.7 747l15.2 26.2h-30.4zM925.7 749.4l15.2 26.2h-30.4zM925.7 751.7l15.2 26.2h-30.4zM928 685.3l15.2 26.2h-30.4zM928 687.7l15.2 26.2h-30.4zM928 690.1l15.2 26.2h-30.4zM928 692.4l15.2 26.2h-30.4zM928 694.8l15.2 26.2h-30.4zM928 697.2l15.2 26.2h-30.4zM928 699.5l15.2 26.2h-30.4zM928 701.9l15.2 26.2h-30.4zM928 704.3l15.2 26.2h-30.4zM928 706.7l15.2 26.2h-30.4zM928 709l15.2 26.2h-30.4zM928 711.4l15.2 26.2h-30.4zM928 713.8l15.2 26.2h-30.4zM928 716.2l15.2 26.2h-30.4zM928 718.5l15.2 26.2h-30.4zM928 720.9l15.2 26.2h-30.4zM928 723.3l15.2 26.2h-30.4zM928 725.6l15.2 26.2h-30.4zM928 728l15.2 26.2h-30.4zM928 730.4l15.2 26.2h-30.4zM928 732.8l15.2 26.2h-30.4zM928 735.1l15.2 26.2h-30.4zM928 737.5l15.2 26.2h-30.4zM928 739.9l15.2 26.2h-30.4zM928 742.2l15.2 26.2h-30.4zM928 744.6l15.2 26.2h-30.4zM928 747l15.2 26.2h-30.4zM928 749.4l15.2 26.2h-30.4zM928 751.7l15.2 26.2h-30.4zM930.4 687.7l15.2 26.2h-30.4zM930.4 690.1l15.2 26.2h-30.4zM930.4 692.4l15.2 26.2h-30.4zM930.4 694.8l15.2 26.2h-30.4zM930.4 697.2l15.2 26.2h-30.4zM930.4 699.5l15.2 26.2h-30.4zM930.4 701.9l15.2 26.2h-30.4zM930.4 704.3l15.2 26.2h-30.4zM930.4 706.7l15.2 26.2h-30.4zM930.4 709l15.2 26.2h-30.4zM930.4 711.4l15.2 26.2h-30.4zM930.4 713.8l15.2 26.2h-30.4zM930.4 716.2l15.2 26.2h-30.4zM930.4 718.5l15.2 26.2h-30.4zM930.4 720.9l15.2 26.2h-30.4zM930.4 723.3l15.2 26.2h-30.4zM930.4 725.6l15.2 26.2h-30.4zM930.4 728l15.2 26.2h-30.4zM930.4 730.4l15.2 26.2h-30.4zM930.4 732.8l15.2 26.2h-30.4zM930.4 735.1l15.2 26.2h-30.4zM930.4 737.5l15.2 26.2h-30.4zM930.4 739.9l15.2 26.2h-30.4zM930.4 742.2l15.2 26.2h-30.4zM930.4 744.6l15.2 26.2h-30.4zM930.4 747l15.2 26.2h-30.4zM930.4 749.4l15.2 26.2h-30.4zM930.4 751.7l15.2 26.2h-30.4zM930.4 766l15.2 26.2h-30.4zM932.8 692.4l15.2 26.2h-30.4zM932.8 694.8l15.2 26.2h-30.4zM932.8 697.2l15.2 26.2h-30.4zM932.8 699.5l15.2 26.2h-30.4zM932.8 701.9l15.2 26.2h-30.4zM932.8 704.3l15.2 26.2h-30.4zM932.8 706.7l15.2 26.2h-30.4zM932.8 709l15.2 26.2h-30.4zM932.8 711.4l15.2 26.2h-30.4zM932.8 713.8l15.2 26.2h-30.4zM932.8 716.2l15.2 26.2h-30.4zM932.8 718.5l15.2 26.2h-30.4zM932.8 720.9l15.2 26.2h-30.4zM932.8 723.3l15.2 26.2h-30.4zM932.8 725.6l15.2 26.2h-30.4zM932.8 728l15.2 26.2h-30.4zM932.8 730.4l15.2 26.2h-30.4zM932.8 732.8l15.2 26.2h-30.4zM932.8 735.1l15.2 26.2h-30.4zM932.8 737.5l15.2 26.2h-30.4zM932.8 739.9l15.2 26.2h-30.4zM932.8 742.2l15.2 26.2h-30.4zM932.8 744.6l15.2 26.2h-30.4zM932.8 747l15.2 26.2h-30.4zM932.8 749.4l15.2 26.2h-30.4zM932.8 751.7l15.2 26.2h-30.4zM935.1 694.8l15.2 26.2h-30.4zM935.1 697.2l15.2 26.2h-30.4zM935.1 699.5l15.2 26.2h-30.4zM935.1 701.9l15.2 26.2h-30.4zM935.1 704.3l15.2 26.2h-30.4zM935.1 706.7l15.2 26.2h-30.4zM935.1 709l15.2 26.2h-30.4zM935.1 711.4l15.2 26.2h-30.4zM935.1 713.8l15.2 26.2h-30.4zM935.1 716.2l15.2 26.2h-30.4zM935.1 718.5l15.2 26.2h-30.4zM935.1 720.9l15.2 26.2h-30.4zM935.1 723.3l15.2 26.2h-30.4zM935.1 725.6l15.2 26.2h-30.4zM935.1 728l15.2 26.2h-30.4zM935.1 730.4l15.2 26.2h-30.4zM935.1 732.8l15.2 26.2h-30.4zM935.1 735.1l15.2 26.2h-30.4zM935.1 737.5l15.2 26.2h-30.4zM935.1 739.9l15.2 26.2h-30.4zM935.1 742.2l15.2 26.2h-30.4zM935.1 744.6l15.2 26.2h-30.4zM935.1 747l15.2 26.2h-30.4zM935.1 749.4l15.2 26.2h-30.4zM935.1 751.7l15.2 26.2h-30.4zM937.5 697.2l15.2 26.2h-30.4zM937.5 699.5l15.2 26.2h-30.4zM937.5 701.9l15.2 26.2h-30.4zM937.5 704.3l15.2 26.2h-30.4zM937.5 706.7l15.2 26.2h-30.4zM937.5 709l15.2 26.2h-30.4zM937.5 711.4l15.2 26.2h-30.4zM937.5 713.8l15.2 26.2h-30.4zM937.5 716.2l15.2 26.2h-30.4zM937.5 718.5l15.2 26.2h-30.4zM937.5 720.9l15.2 26.2h-30.4zM937.5 723.3l15.2 26.2h-30.4zM937.5 725.6l15.2 26.2h-30.4zM937.5 728l15.2 26.2h-30.4zM937.5 730.4l15.2 26.2h-30.4zM937.5 732.8l15.2 26.2h-30.4zM937.5 735.1l15.2 26.2h-30.4zM937.5 737.5l15.2 26.2h-30.4zM937.5 739.9l15.2 26.2h-30.4zM937.5 742.2l15.2 26.2h-30.4zM937.5 744.6l15.2 26.2h-30.4zM937.5 747l15.2 26.2h-30.4zM937.5 749.4l15.2 26.2h-30.4zM937.5 751.7l15.2 26.2h-30.4zM939.9 704.3l15.2 26.2h-30.4zM939.9 706.7l15.2 26.2h-30.4zM939.9 709l15.2 26.2h-30.4zM939.9 711.4l15.2 26.2h-30.4zM939.9 713.8l15.2 26.2h-30.4zM939.9 716.2l15.2 26.2h-30.4zM939.9 718.5l15.2 26.2h-30.4zM939.9 720.9l15.2 26.2h-30.4zM939.9 723.3l15.2 26.2h-30.4zM939.9 725.6l15.2 26.2h-30.4zM939.9 728l15.2 26.2h-30.4zM939.9 730.4l15.2 26.2h-30.4zM939.9 732.8l15.2 26.2h-30.4zM939.9 735.1l15.2 26.2h-30.4zM939.9 737.5l15.2 26.2h-30.4zM939.9 739.9l15.2 26.2h-30.4zM939.9 742.2l15.2 26.2h-30.4zM939.9 744.6l15.2 26.2h-30.4zM939.9 747l15.2 26.2h-30.4zM939.9 749.4l15.2 26.2h-30.4zM939.9 751.7l15.2 26.2h-30.4zM942.3 709l15.2 26.2h-30.4zM942.3 711.4l15.2 26.2h-30.4zM942.3 713.8l15.2 26.2h-30.4zM942.3 716.2l15.2 26.2h-30.4zM942.3 718.5l15.2 26.2h-30.4zM942.3 720.9l15.2 26.2h-30.4zM942.3 723.3l15.2 26.2h-30.4zM942.3 725.6l15.2 26.2h-30.4zM942.3 728l15.2 26.2h-30.4zM942.3 730.4l15.2 26.2h-30.4zM942.3 732.8l15.2 26.2h-30.4zM942.3 735.1l15.2 26.2h-30.4zM942.3 737.5l15.2 26.2h-30.4zM942.3 739.9l15.2 26.2h-30.4zM942.3 742.2l15.2 26.2h-30.4zM942.3 744.6l15.2 26.2h-30.4zM942.3 747l15.2 26.2h-30.4zM942.3 749.4l15.2 26.2h-30.4zM942.3 751.7l15.2 26.2h-30.4zM944.6 675.8l15.2 26.2h-30.4zM944.6 728l15.2 26.2h-30.4zM944.6 730.4l15.2 26.2h-30.4zM944.6 732.8l15.2 26.2h-30.4zM944.6 735.1l15.2 26.2h-30.4zM944.6 737.5l15.2 26.2h-30.4zM944.6 739.9l15.2 26.2h-30.4zM944.6 742.2l15.2 26.2h-30.4zM944.6 744.6l15.2 26.2h-30.4zM944.6 747l15.2 26.2h-30.4zM944.6 749.4l15.2 26.2h-30.4zM944.6 751.7l15.2 26.2h-30.4zM947 732.8l15.2 26.2h-30.4zM947 735.1l15.2 26.2h-30.4zM947 737.5l15.2 26.2h-30.4zM947 739.9l15.2 26.2h-30.4zM947 742.2l15.2 26.2h-30.4zM947 744.6l15.2 26.2h-30.4zM947 747l15.2 26.2h-30.4zM947 749.4l15.2 26.2h-30.4zM947 751.7l15.2 26.2h-30.4zM949.4 735.1l15.2 26.2h-30.4zM949.4 737.5l15.2 26.2h-30.4zM949.4 739.9l15.2 26.2h-30.4zM949.4 742.2l15.2 26.2h-30.4zM949.4 744.6l15.2 26.2h-30.4zM949.4 747l15.2 26.2h-30.4zM949.4 749.4l15.2 26.2h-30.4zM949.4 751.7l15.2 26.2h-30.4zM949.4 766l15.2 26.2h-30.4zM951.8 737.5l15.2 26.2h-30.4zM951.8 739.9l15.2 26.2h-30.4zM951.8 742.2l15.2 26.2h-30.4zM951.8 744.6l15.2 26.2h-30.4zM951.8 747l15.2 26.2h-30.4zM951.8 749.4l15.2 26.2h-30.4zM951.8 751.7l15.2 26.2h-30.4zM954.1 751.7l15.2 26.2h-30.4zM956.5 789.7l15.2 26.2h-30.4zM961.2 787.3l15.2 26.2h-30.4zM963.6 419.6l15.2 26.2h-30.4zM963.6 744.6l15.2 26.2h-30.4zM963.6 787.3l15.2 26.2h-30.4zM963.6 792.1l15.2 26.2h-30.4zM966 789.7l15.2 26.2h-30.4zM966 796.8l15.2 26.2h-30.4zM968.4 422l15.2 26.2h-30.4zM968.4 789.7l15.2 26.2h-30.4zM968.4 792.1l15.2 26.2h-30.4zM968.4 794.4l15.2 26.2h-30.4zM968.4 796.8l15.2 26.2h-30.4zM970.7 296.3l15.2 26.2h-30.4zM970.7 792.1l15.2 26.2h-30.4zM970.7 796.8l15.2 26.2h-30.4zM973.1 293.9l15.2 26.2h-30.4zM973.1 296.3l15.2 26.2h-30.4zM973.1 417.3l15.2 26.2h-30.4zM973.1 438.6l15.2 26.2h-30.4zM973.1 443.4l15.2 26.2h-30.4zM973.1 450.5l15.2 26.2h-30.4zM973.1 562l15.2 26.2h-30.4zM973.1 794.4l15.2 26.2h-30.4zM973.1 796.8l15.2 26.2h-30.4zM975.5 291.5l15.2 26.2h-30.4zM975.5 293.9l15.2 26.2h-30.4zM975.5 296.3l15.2 26.2h-30.4zM975.5 799.2l15.2 26.2h-30.4zM977.8 291.5l15.2 26.2h-30.4zM977.8 293.9l15.2 26.2h-30.4zM977.8 296.3l15.2 26.2h-30.4zM977.8 301l15.2 26.2h-30.4zM977.8 433.9l15.2 26.2h-30.4zM977.8 796.8l15.2 26.2h-30.4zM980.2 289.2l15.2 26.2h-30.4zM980.2 291.5l15.2 26.2h-30.4zM980.2 293.9l15.2 26.2h-30.4zM980.2 296.3l15.2 26.2h-30.4zM980.2 303.4l15.2 26.2h-30.4zM980.2 438.6l15.2 26.2h-30.4zM980.2 450.5l15.2 26.2h-30.4zM980.2 799.2l15.2 26.2h-30.4zM982.6 289.2l15.2 26.2h-30.4zM982.6 291.5l15.2 26.2h-30.4zM982.6 293.9l15.2 26.2h-30.4zM982.6 296.3l15.2 26.2h-30.4zM982.6 433.9l15.2 26.2h-30.4zM982.6 443.4l15.2 26.2h-30.4zM982.6 507.4l15.2 26.2h-30.4zM982.6 799.2l15.2 26.2h-30.4zM985 286.8l15.2 26.2h-30.4zM985 289.2l15.2 26.2h-30.4zM985 291.5l15.2 26.2h-30.4zM985 293.9l15.2 26.2h-30.4zM985 296.3l15.2 26.2h-30.4zM985 324.7l15.2 26.2h-30.4zM985 329.5l15.2 26.2h-30.4zM985 438.6l15.2 26.2h-30.4zM985 450.5l15.2 26.2h-30.4zM985 799.2l15.2 26.2h-30.4zM987.3 286.8l15.2 26.2h-30.4zM987.3 289.2l15.2 26.2h-30.4zM987.3 291.5l15.2 26.2h-30.4zM987.3 293.9l15.2 26.2h-30.4zM987.3 296.3l15.2 26.2h-30.4zM987.3 298.6l15.2 26.2h-30.4zM987.3 433.9l15.2 26.2h-30.4zM987.3 445.7l15.2 26.2h-30.4zM987.3 502.7l15.2 26.2h-30.4zM987.3 799.2l15.2 26.2h-30.4zM989.7 284.4l15.2 26.2h-30.4zM989.7 286.8l15.2 26.2h-30.4zM989.7 289.2l15.2 26.2h-30.4zM989.7 291.5l15.2 26.2h-30.4zM989.7 293.9l15.2 26.2h-30.4zM989.7 296.3l15.2 26.2h-30.4zM989.7 438.6l15.2 26.2h-30.4zM989.7 500.3l15.2 26.2h-30.4zM989.7 507.4l15.2 26.2h-30.4zM989.7 799.2l15.2 26.2h-30.4zM992.1 263.1l15.2 26.2h-30.4zM992.1 284.4l15.2 26.2h-30.4zM992.1 286.8l15.2 26.2h-30.4zM992.1 289.2l15.2 26.2h-30.4zM992.1 291.5l15.2 26.2h-30.4zM992.1 293.9l15.2 26.2h-30.4zM992.1 296.3l15.2 26.2h-30.4zM992.1 298.6l15.2 26.2h-30.4zM992.1 329.5l15.2 26.2h-30.4zM992.1 331.9l15.2 26.2h-30.4zM992.1 334.2l15.2 26.2h-30.4zM992.1 336.6l15.2 26.2h-30.4zM992.1 339l15.2 26.2h-30.4zM992.1 341.3l15.2 26.2h-30.4zM992.1 443.4l15.2 26.2h-30.4zM992.1 450.5l15.2 26.2h-30.4zM992.1 497.9l15.2 26.2h-30.4zM992.1 502.7l15.2 26.2h-30.4zM992.1 799.2l15.2 26.2h-30.4zM994.5 284.4l15.2 26.2h-30.4zM994.5 286.8l15.2 26.2h-30.4zM994.5 289.2l15.2 26.2h-30.4zM994.5 291.5l15.2 26.2h-30.4zM994.5 293.9l15.2 26.2h-30.4zM994.5 296.3l15.2 26.2h-30.4zM994.5 329.5l15.2 26.2h-30.4zM994.5 331.9l15.2 26.2h-30.4zM994.5 334.2l15.2 26.2h-30.4zM994.5 336.6l15.2 26.2h-30.4zM994.5 339l15.2 26.2h-30.4zM994.5 341.3l15.2 26.2h-30.4zM994.5 495.5l15.2 26.2h-30.4zM994.5 799.2l15.2 26.2h-30.4zM996.8 329.5l15.2 26.2h-30.4zM996.8 331.9l15.2 26.2h-30.4zM996.8 334.2l15.2 26.2h-30.4zM996.8 336.6l15.2 26.2h-30.4zM996.8 339l15.2 26.2h-30.4zM996.8 341.3l15.2 26.2h-30.4zM996.8 369.8l15.2 26.2h-30.4zM996.8 433.9l15.2 26.2h-30.4zM996.8 438.6l15.2 26.2h-30.4zM996.8 490.8l15.2 26.2h-30.4zM996.8 500.3l15.2 26.2h-30.4zM996.8 507.4l15.2 26.2h-30.4zM996.8 799.2l15.2 26.2h-30.4zM999.2 327.1l15.2 26.2h-30.4zM999.2 329.5l15.2 26.2h-30.4zM999.2 331.9l15.2 26.2h-30.4zM999.2 334.2l15.2 26.2h-30.4zM999.2 336.6l15.2 26.2h-30.4zM999.2 339l15.2 26.2h-30.4zM999.2 341.3l15.2 26.2h-30.4zM999.2 799.2l15.2 26.2h-30.4zM1001.6 331.9l15.2 26.2h-30.4zM1001.6 348.5l15.2 26.2h-30.4zM1001.6 490.8l15.2 26.2h-30.4zM1001.6 687.7l15.2 26.2h-30.4zM1001.6 799.2l15.2 26.2h-30.4zM1003.9 490.8l15.2 26.2h-30.4zM1003.9 675.8l15.2 26.2h-30.4zM1003.9 678.2l15.2 26.2h-30.4zM1003.9 680.6l15.2 26.2h-30.4zM1003.9 682.9l15.2 26.2h-30.4zM1003.9 685.3l15.2 26.2h-30.4zM1003.9 739.9l15.2 26.2h-30.4zM1003.9 742.2l15.2 26.2h-30.4zM1003.9 744.6l15.2 26.2h-30.4zM1003.9 751.7l15.2 26.2h-30.4zM1003.9 789.7l15.2 26.2h-30.4zM1003.9 799.2l15.2 26.2h-30.4zM1006.3 362.7l15.2 26.2h-30.4zM1006.3 675.8l15.2 26.2h-30.4zM1006.3 678.2l15.2 26.2h-30.4zM1006.3 680.6l15.2 26.2h-30.4zM1006.3 682.9l15.2 26.2h-30.4zM1006.3 685.3l15.2 26.2h-30.4zM1006.3 739.9l15.2 26.2h-30.4zM1006.3 742.2l15.2 26.2h-30.4zM1006.3 744.6l15.2 26.2h-30.4zM1006.3 747l15.2 26.2h-30.4zM1006.3 792.1l15.2 26.2h-30.4zM1006.3 799.2l15.2 26.2h-30.4zM1008.7 673.5l15.2 26.2h-30.4zM1008.7 675.8l15.2 26.2h-30.4zM1008.7 678.2l15.2 26.2h-30.4zM1008.7 680.6l15.2 26.2h-30.4zM1008.7 682.9l15.2 26.2h-30.4zM1008.7 737.5l15.2 26.2h-30.4zM1008.7 739.9l15.2 26.2h-30.4zM1008.7 742.2l15.2 26.2h-30.4zM1008.7 744.6l15.2 26.2h-30.4zM1008.7 749.4l15.2 26.2h-30.4zM1008.7 789.7l15.2 26.2h-30.4zM1008.7 794.4l15.2 26.2h-30.4zM1008.7 799.2l15.2 26.2h-30.4zM1011.1 673.5l15.2 26.2h-30.4zM1011.1 675.8l15.2 26.2h-30.4zM1011.1 678.2l15.2 26.2h-30.4zM1011.1 680.6l15.2 26.2h-30.4zM1011.1 737.5l15.2 26.2h-30.4zM1011.1 739.9l15.2 26.2h-30.4zM1011.1 742.2l15.2 26.2h-30.4zM1011.1 744.6l15.2 26.2h-30.4zM1011.1 787.3l15.2 26.2h-30.4zM1011.1 792.1l15.2 26.2h-30.4zM1011.1 796.8l15.2 26.2h-30.4zM1013.4 671.1l15.2 26.2h-30.4zM1013.4 673.5l15.2 26.2h-30.4zM1013.4 675.8l15.2 26.2h-30.4zM1013.4 678.2l15.2 26.2h-30.4zM1013.4 680.6l15.2 26.2h-30.4zM1013.4 735.1l15.2 26.2h-30.4zM1013.4 737.5l15.2 26.2h-30.4zM1013.4 739.9l15.2 26.2h-30.4zM1013.4 742.2l15.2 26.2h-30.4zM1013.4 744.6l15.2 26.2h-30.4zM1013.4 784.9l15.2 26.2h-30.4zM1013.4 789.7l15.2 26.2h-30.4zM1013.4 794.4l15.2 26.2h-30.4zM1013.4 796.8l15.2 26.2h-30.4zM1015.8 668.7l15.2 26.2h-30.4zM1015.8 671.1l15.2 26.2h-30.4zM1015.8 673.5l15.2 26.2h-30.4zM1015.8 675.8l15.2 26.2h-30.4zM1015.8 678.2l15.2 26.2h-30.4zM1015.8 735.1l15.2 26.2h-30.4zM1015.8 737.5l15.2 26.2h-30.4zM1015.8 739.9l15.2 26.2h-30.4zM1015.8 742.2l15.2 26.2h-30.4zM1015.8 744.6l15.2 26.2h-30.4zM1015.8 846.6l15.2 26.2h-30.4zM1018.2 284.4l15.2 26.2h-30.4zM1018.2 286.8l15.2 26.2h-30.4zM1018.2 289.2l15.2 26.2h-30.4zM1018.2 291.5l15.2 26.2h-30.4zM1018.2 293.9l15.2 26.2h-30.4zM1018.2 296.3l15.2 26.2h-30.4zM1018.2 298.6l15.2 26.2h-30.4zM1018.2 301l15.2 26.2h-30.4zM1018.2 668.7l15.2 26.2h-30.4zM1018.2 671.1l15.2 26.2h-30.4zM1018.2 673.5l15.2 26.2h-30.4zM1018.2 675.8l15.2 26.2h-30.4zM1018.2 678.2l15.2 26.2h-30.4zM1018.2 732.8l15.2 26.2h-30.4zM1018.2 735.1l15.2 26.2h-30.4zM1018.2 737.5l15.2 26.2h-30.4zM1018.2 739.9l15.2 26.2h-30.4zM1018.2 742.2l15.2 26.2h-30.4zM1018.2 744.6l15.2 26.2h-30.4zM1018.2 844.3l15.2 26.2h-30.4zM1018.2 846.6l15.2 26.2h-30.4zM1020.5 286.8l15.2 26.2h-30.4zM1020.5 289.2l15.2 26.2h-30.4zM1020.5 291.5l15.2 26.2h-30.4zM1020.5 293.9l15.2 26.2h-30.4zM1020.5 296.3l15.2 26.2h-30.4zM1020.5 298.6l15.2 26.2h-30.4zM1020.5 301l15.2 26.2h-30.4zM1020.5 303.4l15.2 26.2h-30.4zM1020.5 305.8l15.2 26.2h-30.4zM1020.5 308.1l15.2 26.2h-30.4zM1020.5 310.5l15.2 26.2h-30.4zM1020.5 312.9l15.2 26.2h-30.4zM1020.5 315.3l15.2 26.2h-30.4zM1020.5 317.6l15.2 26.2h-30.4zM1020.5 320l15.2 26.2h-30.4zM1020.5 322.4l15.2 26.2h-30.4zM1020.5 666.3l15.2 26.2h-30.4zM1020.5 668.7l15.2 26.2h-30.4zM1020.5 671.1l15.2 26.2h-30.4zM1020.5 673.5l15.2 26.2h-30.4zM1020.5 675.8l15.2 26.2h-30.4zM1020.5 732.8l15.2 26.2h-30.4zM1020.5 735.1l15.2 26.2h-30.4zM1020.5 737.5l15.2 26.2h-30.4zM1020.5 739.9l15.2 26.2h-30.4zM1020.5 742.2l15.2 26.2h-30.4zM1020.5 744.6l15.2 26.2h-30.4zM1020.5 841.9l15.2 26.2h-30.4zM1020.5 844.3l15.2 26.2h-30.4zM1020.5 846.6l15.2 26.2h-30.4zM1020.5 849l15.2 26.2h-30.4zM1022.9 286.8l15.2 26.2h-30.4zM1022.9 289.2l15.2 26.2h-30.4zM1022.9 291.5l15.2 26.2h-30.4zM1022.9 293.9l15.2 26.2h-30.4zM1022.9 296.3l15.2 26.2h-30.4zM1022.9 298.6l15.2 26.2h-30.4zM1022.9 301l15.2 26.2h-30.4zM1022.9 303.4l15.2 26.2h-30.4zM1022.9 305.8l15.2 26.2h-30.4zM1022.9 308.1l15.2 26.2h-30.4zM1022.9 310.5l15.2 26.2h-30.4zM1022.9 312.9l15.2 26.2h-30.4zM1022.9 315.3l15.2 26.2h-30.4zM1022.9 317.6l15.2 26.2h-30.4zM1022.9 320l15.2 26.2h-30.4zM1022.9 322.4l15.2 26.2h-30.4zM1022.9 666.3l15.2 26.2h-30.4zM1022.9 668.7l15.2 26.2h-30.4zM1022.9 671.1l15.2 26.2h-30.4zM1022.9 673.5l15.2 26.2h-30.4zM1022.9 675.8l15.2 26.2h-30.4zM1022.9 730.4l15.2 26.2h-30.4zM1022.9 732.8l15.2 26.2h-30.4zM1022.9 735.1l15.2 26.2h-30.4zM1022.9 737.5l15.2 26.2h-30.4zM1022.9 739.9l15.2 26.2h-30.4zM1022.9 742.2l15.2 26.2h-30.4zM1022.9 839.5l15.2 26.2h-30.4zM1022.9 841.9l15.2 26.2h-30.4zM1022.9 844.3l15.2 26.2h-30.4zM1022.9 846.6l15.2 26.2h-30.4zM1022.9 849l15.2 26.2h-30.4zM1025.3 289.2l15.2 26.2h-30.4zM1025.3 291.5l15.2 26.2h-30.4zM1025.3 293.9l15.2 26.2h-30.4zM1025.3 296.3l15.2 26.2h-30.4zM1025.3 298.6l15.2 26.2h-30.4zM1025.3 301l15.2 26.2h-30.4zM1025.3 303.4l15.2 26.2h-30.4zM1025.3 305.8l15.2 26.2h-30.4zM1025.3 308.1l15.2 26.2h-30.4zM1025.3 310.5l15.2 26.2h-30.4zM1025.3 312.9l15.2 26.2h-30.4zM1025.3 315.3l15.2 26.2h-30.4zM1025.3 317.6l15.2 26.2h-30.4zM1025.3 320l15.2 26.2h-30.4zM1025.3 322.4l15.2 26.2h-30.4zM1025.3 438.6l15.2 26.2h-30.4zM1025.3 664l15.2 26.2h-30.4zM1025.3 666.3l15.2 26.2h-30.4zM1025.3 668.7l15.2 26.2h-30.4zM1025.3 671.1l15.2 26.2h-30.4zM1025.3 673.5l15.2 26.2h-30.4zM1025.3 730.4l15.2 26.2h-30.4zM1025.3 732.8l15.2 26.2h-30.4zM1025.3 735.1l15.2 26.2h-30.4zM1025.3 737.5l15.2 26.2h-30.4zM1025.3 739.9l15.2 26.2h-30.4zM1025.3 742.2l15.2 26.2h-30.4zM1025.3 837.1l15.2 26.2h-30.4zM1025.3 839.5l15.2 26.2h-30.4zM1025.3 841.9l15.2 26.2h-30.4zM1025.3 844.3l15.2 26.2h-30.4zM1025.3 846.6l15.2 26.2h-30.4zM1025.3 849l15.2 26.2h-30.4zM1025.3 853.7l15.2 26.2h-30.4zM1027.7 289.2l15.2 26.2h-30.4zM1027.7 291.5l15.2 26.2h-30.4zM1027.7 293.9l15.2 26.2h-30.4zM1027.7 296.3l15.2 26.2h-30.4zM1027.7 298.6l15.2 26.2h-30.4zM1027.7 301l15.2 26.2h-30.4zM1027.7 303.4l15.2 26.2h-30.4zM1027.7 305.8l15.2 26.2h-30.4zM1027.7 308.1l15.2 26.2h-30.4zM1027.7 310.5l15.2 26.2h-30.4zM1027.7 312.9l15.2 26.2h-30.4zM1027.7 315.3l15.2 26.2h-30.4zM1027.7 317.6l15.2 26.2h-30.4zM1027.7 320l15.2 26.2h-30.4zM1027.7 322.4l15.2 26.2h-30.4zM1027.7 664l15.2 26.2h-30.4zM1027.7 666.3l15.2 26.2h-30.4zM1027.7 668.7l15.2 26.2h-30.4zM1027.7 671.1l15.2 26.2h-30.4zM1027.7 673.5l15.2 26.2h-30.4zM1027.7 730.4l15.2 26.2h-30.4zM1027.7 732.8l15.2 26.2h-30.4zM1027.7 735.1l15.2 26.2h-30.4zM1027.7 737.5l15.2 26.2h-30.4zM1027.7 739.9l15.2 26.2h-30.4zM1027.7 742.2l15.2 26.2h-30.4zM1027.7 834.8l15.2 26.2h-30.4zM1027.7 837.1l15.2 26.2h-30.4zM1027.7 839.5l15.2 26.2h-30.4zM1027.7 841.9l15.2 26.2h-30.4zM1027.7 844.3l15.2 26.2h-30.4zM1027.7 846.6l15.2 26.2h-30.4zM1027.7 849l15.2 26.2h-30.4zM1027.7 863.2l15.2 26.2h-30.4zM1030 291.5l15.2 26.2h-30.4zM1030 293.9l15.2 26.2h-30.4zM1030 296.3l15.2 26.2h-30.4zM1030 298.6l15.2 26.2h-30.4zM1030 301l15.2 26.2h-30.4zM1030 303.4l15.2 26.2h-30.4zM1030 305.8l15.2 26.2h-30.4zM1030 308.1l15.2 26.2h-30.4zM1030 310.5l15.2 26.2h-30.4zM1030 312.9l15.2 26.2h-30.4zM1030 315.3l15.2 26.2h-30.4zM1030 317.6l15.2 26.2h-30.4zM1030 320l15.2 26.2h-30.4zM1030 322.4l15.2 26.2h-30.4zM1030 664l15.2 26.2h-30.4zM1030 666.3l15.2 26.2h-30.4zM1030 668.7l15.2 26.2h-30.4zM1030 671.1l15.2 26.2h-30.4zM1030 673.5l15.2 26.2h-30.4zM1030 730.4l15.2 26.2h-30.4zM1030 732.8l15.2 26.2h-30.4zM1030 735.1l15.2 26.2h-30.4zM1030 737.5l15.2 26.2h-30.4zM1030 739.9l15.2 26.2h-30.4zM1030 742.2l15.2 26.2h-30.4zM1030 832.4l15.2 26.2h-30.4zM1030 834.8l15.2 26.2h-30.4zM1030 837.1l15.2 26.2h-30.4zM1030 839.5l15.2 26.2h-30.4zM1030 841.9l15.2 26.2h-30.4zM1030 844.3l15.2 26.2h-30.4zM1030 846.6l15.2 26.2h-30.4zM1030 849l15.2 26.2h-30.4zM1032.4 293.9l15.2 26.2h-30.4zM1032.4 296.3l15.2 26.2h-30.4zM1032.4 298.6l15.2 26.2h-30.4zM1032.4 301l15.2 26.2h-30.4zM1032.4 303.4l15.2 26.2h-30.4zM1032.4 305.8l15.2 26.2h-30.4zM1032.4 308.1l15.2 26.2h-30.4zM1032.4 310.5l15.2 26.2h-30.4zM1032.4 312.9l15.2 26.2h-30.4zM1032.4 315.3l15.2 26.2h-30.4zM1032.4 317.6l15.2 26.2h-30.4zM1032.4 320l15.2 26.2h-30.4zM1032.4 664l15.2 26.2h-30.4zM1032.4 666.3l15.2 26.2h-30.4zM1032.4 668.7l15.2 26.2h-30.4zM1032.4 671.1l15.2 26.2h-30.4zM1032.4 730.4l15.2 26.2h-30.4zM1032.4 732.8l15.2 26.2h-30.4zM1032.4 735.1l15.2 26.2h-30.4zM1032.4 737.5l15.2 26.2h-30.4zM1032.4 739.9l15.2 26.2h-30.4zM1032.4 830l15.2 26.2h-30.4zM1032.4 832.4l15.2 26.2h-30.4zM1032.4 834.8l15.2 26.2h-30.4zM1032.4 837.1l15.2 26.2h-30.4zM1032.4 839.5l15.2 26.2h-30.4zM1032.4 841.9l15.2 26.2h-30.4zM1032.4 844.3l15.2 26.2h-30.4zM1032.4 846.6l15.2 26.2h-30.4zM1032.4 849l15.2 26.2h-30.4zM1034.8 296.3l15.2 26.2h-30.4zM1034.8 298.6l15.2 26.2h-30.4zM1034.8 301l15.2 26.2h-30.4zM1034.8 303.4l15.2 26.2h-30.4zM1034.8 305.8l15.2 26.2h-30.4zM1034.8 308.1l15.2 26.2h-30.4zM1034.8 310.5l15.2 26.2h-30.4zM1034.8 312.9l15.2 26.2h-30.4zM1034.8 315.3l15.2 26.2h-30.4zM1034.8 317.6l15.2 26.2h-30.4zM1034.8 448.1l15.2 26.2h-30.4zM1034.8 664l15.2 26.2h-30.4zM1034.8 666.3l15.2 26.2h-30.4zM1034.8 668.7l15.2 26.2h-30.4zM1034.8 671.1l15.2 26.2h-30.4zM1034.8 730.4l15.2 26.2h-30.4zM1034.8 732.8l15.2 26.2h-30.4zM1034.8 735.1l15.2 26.2h-30.4zM1034.8 737.5l15.2 26.2h-30.4zM1034.8 739.9l15.2 26.2h-30.4zM1034.8 830l15.2 26.2h-30.4zM1034.8 832.4l15.2 26.2h-30.4zM1034.8 834.8l15.2 26.2h-30.4zM1034.8 837.1l15.2 26.2h-30.4zM1034.8 839.5l15.2 26.2h-30.4zM1034.8 841.9l15.2 26.2h-30.4zM1034.8 844.3l15.2 26.2h-30.4zM1037.2 664l15.2 26.2h-30.4zM1037.2 666.3l15.2 26.2h-30.4zM1037.2 668.7l15.2 26.2h-30.4zM1037.2 730.4l15.2 26.2h-30.4zM1037.2 732.8l15.2 26.2h-30.4zM1037.2 735.1l15.2 26.2h-30.4zM1037.2 737.5l15.2 26.2h-30.4zM1037.2 739.9l15.2 26.2h-30.4zM1037.2 830l15.2 26.2h-30.4zM1037.2 832.4l15.2 26.2h-30.4zM1037.2 834.8l15.2 26.2h-30.4zM1037.2 837.1l15.2 26.2h-30.4zM1037.2 839.5l15.2 26.2h-30.4zM1037.2 841.9l15.2 26.2h-30.4zM1039.5 664l15.2 26.2h-30.4zM1039.5 666.3l15.2 26.2h-30.4zM1039.5 730.4l15.2 26.2h-30.4zM1039.5 732.8l15.2 26.2h-30.4zM1039.5 735.1l15.2 26.2h-30.4zM1039.5 737.5l15.2 26.2h-30.4zM1039.5 739.9l15.2 26.2h-30.4zM1039.5 830l15.2 26.2h-30.4zM1039.5 832.4l15.2 26.2h-30.4zM1039.5 834.8l15.2 26.2h-30.4zM1039.5 837.1l15.2 26.2h-30.4zM1041.9 661.6l15.2 26.2h-30.4zM1041.9 664l15.2 26.2h-30.4zM1041.9 666.3l15.2 26.2h-30.4zM1041.9 668.7l15.2 26.2h-30.4zM1041.9 728l15.2 26.2h-30.4zM1041.9 730.4l15.2 26.2h-30.4zM1041.9 732.8l15.2 26.2h-30.4zM1041.9 735.1l15.2 26.2h-30.4zM1041.9 737.5l15.2 26.2h-30.4zM1041.9 739.9l15.2 26.2h-30.4zM1041.9 827.6l15.2 26.2h-30.4zM1041.9 830l15.2 26.2h-30.4zM1041.9 832.4l15.2 26.2h-30.4zM1041.9 834.8l15.2 26.2h-30.4zM1044.3 661.6l15.2 26.2h-30.4zM1044.3 664l15.2 26.2h-30.4zM1044.3 666.3l15.2 26.2h-30.4zM1044.3 668.7l15.2 26.2h-30.4zM1044.3 671.1l15.2 26.2h-30.4zM1044.3 728l15.2 26.2h-30.4zM1044.3 730.4l15.2 26.2h-30.4zM1044.3 732.8l15.2 26.2h-30.4zM1044.3 735.1l15.2 26.2h-30.4zM1044.3 737.5l15.2 26.2h-30.4zM1044.3 739.9l15.2 26.2h-30.4zM1046.6 296.3l15.2 26.2h-30.4zM1046.6 661.6l15.2 26.2h-30.4zM1046.6 664l15.2 26.2h-30.4zM1046.6 666.3l15.2 26.2h-30.4zM1046.6 668.7l15.2 26.2h-30.4zM1046.6 671.1l15.2 26.2h-30.4zM1046.6 728l15.2 26.2h-30.4zM1046.6 730.4l15.2 26.2h-30.4zM1046.6 732.8l15.2 26.2h-30.4zM1046.6 735.1l15.2 26.2h-30.4zM1046.6 737.5l15.2 26.2h-30.4zM1046.6 739.9l15.2 26.2h-30.4zM1049 296.3l15.2 26.2h-30.4zM1049 298.6l15.2 26.2h-30.4zM1049 301l15.2 26.2h-30.4zM1049 659.2l15.2 26.2h-30.4zM1049 661.6l15.2 26.2h-30.4zM1049 664l15.2 26.2h-30.4zM1049 666.3l15.2 26.2h-30.4zM1049 668.7l15.2 26.2h-30.4zM1049 671.1l15.2 26.2h-30.4zM1049 725.6l15.2 26.2h-30.4zM1049 728l15.2 26.2h-30.4zM1049 730.4l15.2 26.2h-30.4zM1049 732.8l15.2 26.2h-30.4zM1049 735.1l15.2 26.2h-30.4zM1049 737.5l15.2 26.2h-30.4zM1049 739.9l15.2 26.2h-30.4zM1051.4 296.3l15.2 26.2h-30.4zM1051.4 301l15.2 26.2h-30.4zM1051.4 303.4l15.2 26.2h-30.4zM1051.4 305.8l15.2 26.2h-30.4zM1051.4 659.2l15.2 26.2h-30.4zM1051.4 661.6l15.2 26.2h-30.4zM1051.4 664l15.2 26.2h-30.4zM1051.4 666.3l15.2 26.2h-30.4zM1051.4 668.7l15.2 26.2h-30.4zM1051.4 671.1l15.2 26.2h-30.4zM1051.4 673.5l15.2 26.2h-30.4zM1051.4 725.6l15.2 26.2h-30.4zM1051.4 728l15.2 26.2h-30.4zM1051.4 730.4l15.2 26.2h-30.4zM1051.4 732.8l15.2 26.2h-30.4zM1051.4 735.1l15.2 26.2h-30.4zM1051.4 737.5l15.2 26.2h-30.4zM1051.4 739.9l15.2 26.2h-30.4zM1053.8 301l15.2 26.2h-30.4zM1053.8 305.8l15.2 26.2h-30.4zM1053.8 308.1l15.2 26.2h-30.4zM1053.8 310.5l15.2 26.2h-30.4zM1053.8 659.2l15.2 26.2h-30.4zM1053.8 661.6l15.2 26.2h-30.4zM1053.8 664l15.2 26.2h-30.4zM1053.8 666.3l15.2 26.2h-30.4zM1053.8 668.7l15.2 26.2h-30.4zM1053.8 671.1l15.2 26.2h-30.4zM1053.8 673.5l15.2 26.2h-30.4zM1053.8 725.6l15.2 26.2h-30.4zM1053.8 728l15.2 26.2h-30.4zM1053.8 730.4l15.2 26.2h-30.4zM1053.8 732.8l15.2 26.2h-30.4zM1053.8 735.1l15.2 26.2h-30.4zM1053.8 737.5l15.2 26.2h-30.4zM1053.8 739.9l15.2 26.2h-30.4zM1056.1 305.8l15.2 26.2h-30.4zM1056.1 310.5l15.2 26.2h-30.4zM1056.1 312.9l15.2 26.2h-30.4zM1056.1 659.2l15.2 26.2h-30.4zM1056.1 661.6l15.2 26.2h-30.4zM1056.1 664l15.2 26.2h-30.4zM1056.1 666.3l15.2 26.2h-30.4zM1056.1 668.7l15.2 26.2h-30.4zM1056.1 671.1l15.2 26.2h-30.4zM1056.1 673.5l15.2 26.2h-30.4zM1056.1 723.3l15.2 26.2h-30.4zM1056.1 725.6l15.2 26.2h-30.4zM1056.1 728l15.2 26.2h-30.4zM1056.1 730.4l15.2 26.2h-30.4zM1056.1 732.8l15.2 26.2h-30.4zM1056.1 735.1l15.2 26.2h-30.4zM1056.1 737.5l15.2 26.2h-30.4zM1056.1 739.9l15.2 26.2h-30.4zM1058.5 310.5l15.2 26.2h-30.4zM1058.5 312.9l15.2 26.2h-30.4zM1058.5 315.3l15.2 26.2h-30.4zM1058.5 317.6l15.2 26.2h-30.4zM1058.5 464.7l15.2 26.2h-30.4zM1058.5 659.2l15.2 26.2h-30.4zM1058.5 661.6l15.2 26.2h-30.4zM1058.5 664l15.2 26.2h-30.4zM1058.5 666.3l15.2 26.2h-30.4zM1058.5 668.7l15.2 26.2h-30.4zM1058.5 671.1l15.2 26.2h-30.4zM1058.5 673.5l15.2 26.2h-30.4zM1058.5 675.8l15.2 26.2h-30.4zM1058.5 723.3l15.2 26.2h-30.4zM1058.5 725.6l15.2 26.2h-30.4zM1058.5 728l15.2 26.2h-30.4zM1058.5 730.4l15.2 26.2h-30.4zM1058.5 732.8l15.2 26.2h-30.4zM1058.5 735.1l15.2 26.2h-30.4zM1058.5 737.5l15.2 26.2h-30.4zM1058.5 739.9l15.2 26.2h-30.4zM1060.9 282l15.2 26.2h-30.4zM1060.9 286.8l15.2 26.2h-30.4zM1060.9 289.2l15.2 26.2h-30.4zM1060.9 312.9l15.2 26.2h-30.4zM1060.9 317.6l15.2 26.2h-30.4zM1060.9 320l15.2 26.2h-30.4zM1060.9 322.4l15.2 26.2h-30.4zM1060.9 464.7l15.2 26.2h-30.4zM1060.9 659.2l15.2 26.2h-30.4zM1060.9 661.6l15.2 26.2h-30.4zM1060.9 664l15.2 26.2h-30.4zM1060.9 666.3l15.2 26.2h-30.4zM1060.9 668.7l15.2 26.2h-30.4zM1060.9 671.1l15.2 26.2h-30.4zM1060.9 673.5l15.2 26.2h-30.4zM1060.9 675.8l15.2 26.2h-30.4zM1060.9 678.2l15.2 26.2h-30.4zM1060.9 699.5l15.2 26.2h-30.4zM1060.9 718.5l15.2 26.2h-30.4zM1060.9 720.9l15.2 26.2h-30.4zM1060.9 723.3l15.2 26.2h-30.4zM1060.9 725.6l15.2 26.2h-30.4zM1060.9 728l15.2 26.2h-30.4zM1060.9 730.4l15.2 26.2h-30.4zM1060.9 732.8l15.2 26.2h-30.4zM1060.9 735.1l15.2 26.2h-30.4zM1060.9 737.5l15.2 26.2h-30.4zM1060.9 739.9l15.2 26.2h-30.4zM1063.2 272.6l15.2 26.2h-30.4zM1063.2 274.9l15.2 26.2h-30.4zM1063.2 277.3l15.2 26.2h-30.4zM1063.2 279.7l15.2 26.2h-30.4zM1063.2 282l15.2 26.2h-30.4zM1063.2 284.4l15.2 26.2h-30.4zM1063.2 317.6l15.2 26.2h-30.4zM1063.2 322.4l15.2 26.2h-30.4zM1063.2 324.7l15.2 26.2h-30.4zM1063.2 327.1l15.2 26.2h-30.4zM1063.2 348.5l15.2 26.2h-30.4zM1063.2 623.6l15.2 26.2h-30.4zM1063.2 630.8l15.2 26.2h-30.4zM1063.2 637.9l15.2 26.2h-30.4zM1063.2 645l15.2 26.2h-30.4zM1063.2 649.7l15.2 26.2h-30.4zM1063.2 656.8l15.2 26.2h-30.4zM1063.2 659.2l15.2 26.2h-30.4zM1063.2 661.6l15.2 26.2h-30.4zM1063.2 664l15.2 26.2h-30.4zM1063.2 666.3l15.2 26.2h-30.4zM1063.2 668.7l15.2 26.2h-30.4zM1063.2 671.1l15.2 26.2h-30.4zM1063.2 673.5l15.2 26.2h-30.4zM1063.2 675.8l15.2 26.2h-30.4zM1063.2 678.2l15.2 26.2h-30.4zM1063.2 680.6l15.2 26.2h-30.4zM1063.2 690.1l15.2 26.2h-30.4zM1063.2 692.4l15.2 26.2h-30.4zM1063.2 697.2l15.2 26.2h-30.4zM1063.2 704.3l15.2 26.2h-30.4zM1063.2 709l15.2 26.2h-30.4zM1063.2 713.8l15.2 26.2h-30.4zM1063.2 725.6l15.2 26.2h-30.4zM1063.2 728l15.2 26.2h-30.4zM1063.2 730.4l15.2 26.2h-30.4zM1063.2 732.8l15.2 26.2h-30.4zM1063.2 735.1l15.2 26.2h-30.4zM1063.2 737.5l15.2 26.2h-30.4zM1063.2 739.9l15.2 26.2h-30.4zM1065.6 270.2l15.2 26.2h-30.4zM1065.6 272.6l15.2 26.2h-30.4zM1065.6 274.9l15.2 26.2h-30.4zM1065.6 277.3l15.2 26.2h-30.4zM1065.6 279.7l15.2 26.2h-30.4zM1065.6 322.4l15.2 26.2h-30.4zM1065.6 327.1l15.2 26.2h-30.4zM1065.6 329.5l15.2 26.2h-30.4zM1065.6 331.9l15.2 26.2h-30.4zM1065.6 346.1l15.2 26.2h-30.4zM1065.6 350.8l15.2 26.2h-30.4zM1065.6 467.1l15.2 26.2h-30.4zM1065.6 659.2l15.2 26.2h-30.4zM1065.6 661.6l15.2 26.2h-30.4zM1065.6 664l15.2 26.2h-30.4zM1065.6 666.3l15.2 26.2h-30.4zM1065.6 668.7l15.2 26.2h-30.4zM1065.6 671.1l15.2 26.2h-30.4zM1065.6 673.5l15.2 26.2h-30.4zM1065.6 675.8l15.2 26.2h-30.4zM1065.6 678.2l15.2 26.2h-30.4zM1065.6 680.6l15.2 26.2h-30.4zM1065.6 682.9l15.2 26.2h-30.4zM1065.6 730.4l15.2 26.2h-30.4zM1065.6 732.8l15.2 26.2h-30.4zM1065.6 735.1l15.2 26.2h-30.4zM1065.6 737.5l15.2 26.2h-30.4zM1065.6 739.9l15.2 26.2h-30.4zM1065.6 865.6l15.2 26.2h-30.4zM1065.6 887l15.2 26.2h-30.4zM1065.6 889.3l15.2 26.2h-30.4zM1065.6 891.7l15.2 26.2h-30.4zM1065.6 894.1l15.2 26.2h-30.4zM1065.6 896.4l15.2 26.2h-30.4zM1065.6 898.8l15.2 26.2h-30.4zM1065.6 901.2l15.2 26.2h-30.4zM1068 327.1l15.2 26.2h-30.4zM1068 331.9l15.2 26.2h-30.4zM1068 334.2l15.2 26.2h-30.4zM1068 343.7l15.2 26.2h-30.4zM1068 348.5l15.2 26.2h-30.4zM1068 350.8l15.2 26.2h-30.4zM1068 661.6l15.2 26.2h-30.4zM1068 664l15.2 26.2h-30.4zM1068 666.3l15.2 26.2h-30.4zM1068 668.7l15.2 26.2h-30.4zM1068 671.1l15.2 26.2h-30.4zM1068 673.5l15.2 26.2h-30.4zM1068 675.8l15.2 26.2h-30.4zM1068 678.2l15.2 26.2h-30.4zM1068 680.6l15.2 26.2h-30.4zM1068 682.9l15.2 26.2h-30.4zM1068 685.3l15.2 26.2h-30.4zM1068 735.1l15.2 26.2h-30.4zM1068 737.5l15.2 26.2h-30.4zM1068 739.9l15.2 26.2h-30.4zM1068 884.6l15.2 26.2h-30.4zM1068 887l15.2 26.2h-30.4zM1068 889.3l15.2 26.2h-30.4zM1068 891.7l15.2 26.2h-30.4zM1068 894.1l15.2 26.2h-30.4zM1068 896.4l15.2 26.2h-30.4zM1068 898.8l15.2 26.2h-30.4zM1068 901.2l15.2 26.2h-30.4zM1070.4 331.9l15.2 26.2h-30.4zM1070.4 334.2l15.2 26.2h-30.4zM1070.4 336.6l15.2 26.2h-30.4zM1070.4 339l15.2 26.2h-30.4zM1070.4 346.1l15.2 26.2h-30.4zM1070.4 350.8l15.2 26.2h-30.4zM1070.4 358l15.2 26.2h-30.4zM1070.4 424.4l15.2 26.2h-30.4zM1070.4 490.8l15.2 26.2h-30.4zM1070.4 661.6l15.2 26.2h-30.4zM1070.4 664l15.2 26.2h-30.4zM1070.4 666.3l15.2 26.2h-30.4zM1070.4 668.7l15.2 26.2h-30.4zM1070.4 671.1l15.2 26.2h-30.4zM1070.4 673.5l15.2 26.2h-30.4zM1070.4 675.8l15.2 26.2h-30.4zM1070.4 678.2l15.2 26.2h-30.4zM1070.4 680.6l15.2 26.2h-30.4zM1070.4 682.9l15.2 26.2h-30.4zM1070.4 685.3l15.2 26.2h-30.4zM1070.4 739.9l15.2 26.2h-30.4zM1070.4 882.2l15.2 26.2h-30.4zM1070.4 884.6l15.2 26.2h-30.4zM1070.4 887l15.2 26.2h-30.4zM1070.4 889.3l15.2 26.2h-30.4zM1070.4 891.7l15.2 26.2h-30.4zM1070.4 894.1l15.2 26.2h-30.4zM1070.4 896.4l15.2 26.2h-30.4zM1070.4 898.8l15.2 26.2h-30.4zM1070.4 901.2l15.2 26.2h-30.4zM1072.7 334.2l15.2 26.2h-30.4zM1072.7 339l15.2 26.2h-30.4zM1072.7 341.3l15.2 26.2h-30.4zM1072.7 675.8l15.2 26.2h-30.4zM1072.7 678.2l15.2 26.2h-30.4zM1072.7 680.6l15.2 26.2h-30.4zM1072.7 682.9l15.2 26.2h-30.4zM1072.7 685.3l15.2 26.2h-30.4zM1072.7 879.8l15.2 26.2h-30.4zM1072.7 882.2l15.2 26.2h-30.4zM1072.7 884.6l15.2 26.2h-30.4zM1072.7 887l15.2 26.2h-30.4zM1072.7 889.3l15.2 26.2h-30.4zM1072.7 891.7l15.2 26.2h-30.4zM1072.7 894.1l15.2 26.2h-30.4zM1072.7 896.4l15.2 26.2h-30.4zM1072.7 898.8l15.2 26.2h-30.4zM1072.7 901.2l15.2 26.2h-30.4zM1075.1 339l15.2 26.2h-30.4zM1075.1 500.3l15.2 26.2h-30.4zM1075.1 507.4l15.2 26.2h-30.4zM1075.1 877.5l15.2 26.2h-30.4zM1075.1 879.8l15.2 26.2h-30.4zM1075.1 882.2l15.2 26.2h-30.4zM1075.1 884.6l15.2 26.2h-30.4zM1075.1 887l15.2 26.2h-30.4zM1075.1 889.3l15.2 26.2h-30.4zM1075.1 891.7l15.2 26.2h-30.4zM1075.1 894.1l15.2 26.2h-30.4zM1075.1 896.4l15.2 26.2h-30.4zM1075.1 898.8l15.2 26.2h-30.4zM1075.1 901.2l15.2 26.2h-30.4zM1077.5 497.9l15.2 26.2h-30.4zM1077.5 875.1l15.2 26.2h-30.4zM1077.5 877.5l15.2 26.2h-30.4zM1077.5 879.8l15.2 26.2h-30.4zM1077.5 882.2l15.2 26.2h-30.4zM1077.5 884.6l15.2 26.2h-30.4zM1077.5 887l15.2 26.2h-30.4zM1077.5 889.3l15.2 26.2h-30.4zM1077.5 891.7l15.2 26.2h-30.4zM1077.5 894.1l15.2 26.2h-30.4zM1077.5 896.4l15.2 26.2h-30.4zM1077.5 898.8l15.2 26.2h-30.4zM1077.5 901.2l15.2 26.2h-30.4zM1079.9 495.5l15.2 26.2h-30.4zM1079.9 502.7l15.2 26.2h-30.4zM1079.9 872.7l15.2 26.2h-30.4zM1079.9 875.1l15.2 26.2h-30.4zM1079.9 877.5l15.2 26.2h-30.4zM1079.9 879.8l15.2 26.2h-30.4zM1079.9 882.2l15.2 26.2h-30.4zM1079.9 884.6l15.2 26.2h-30.4zM1079.9 887l15.2 26.2h-30.4zM1079.9 889.3l15.2 26.2h-30.4zM1079.9 891.7l15.2 26.2h-30.4zM1079.9 894.1l15.2 26.2h-30.4zM1079.9 896.4l15.2 26.2h-30.4zM1079.9 898.8l15.2 26.2h-30.4zM1079.9 901.2l15.2 26.2h-30.4zM1082.2 424.4l15.2 26.2h-30.4zM1082.2 488.4l15.2 26.2h-30.4zM1082.2 493.2l15.2 26.2h-30.4zM1082.2 870.3l15.2 26.2h-30.4zM1082.2 872.7l15.2 26.2h-30.4zM1082.2 875.1l15.2 26.2h-30.4zM1082.2 877.5l15.2 26.2h-30.4zM1082.2 879.8l15.2 26.2h-30.4zM1082.2 882.2l15.2 26.2h-30.4zM1082.2 884.6l15.2 26.2h-30.4zM1082.2 887l15.2 26.2h-30.4zM1082.2 889.3l15.2 26.2h-30.4zM1082.2 891.7l15.2 26.2h-30.4zM1082.2 894.1l15.2 26.2h-30.4zM1082.2 896.4l15.2 26.2h-30.4zM1082.2 898.8l15.2 26.2h-30.4zM1082.2 901.2l15.2 26.2h-30.4zM1084.6 486.1l15.2 26.2h-30.4zM1084.6 488.4l15.2 26.2h-30.4zM1084.6 490.8l15.2 26.2h-30.4zM1084.6 495.5l15.2 26.2h-30.4zM1084.6 868l15.2 26.2h-30.4zM1084.6 870.3l15.2 26.2h-30.4zM1084.6 872.7l15.2 26.2h-30.4zM1084.6 875.1l15.2 26.2h-30.4zM1084.6 877.5l15.2 26.2h-30.4zM1084.6 879.8l15.2 26.2h-30.4zM1084.6 882.2l15.2 26.2h-30.4zM1084.6 884.6l15.2 26.2h-30.4zM1084.6 887l15.2 26.2h-30.4zM1084.6 889.3l15.2 26.2h-30.4zM1084.6 891.7l15.2 26.2h-30.4zM1084.6 894.1l15.2 26.2h-30.4zM1084.6 896.4l15.2 26.2h-30.4zM1084.6 898.8l15.2 26.2h-30.4zM1084.6 901.2l15.2 26.2h-30.4zM1087 486.1l15.2 26.2h-30.4zM1087 488.4l15.2 26.2h-30.4zM1087 490.8l15.2 26.2h-30.4zM1087 865.6l15.2 26.2h-30.4zM1087 868l15.2 26.2h-30.4zM1087 870.3l15.2 26.2h-30.4zM1087 872.7l15.2 26.2h-30.4zM1087 875.1l15.2 26.2h-30.4zM1087 877.5l15.2 26.2h-30.4zM1087 879.8l15.2 26.2h-30.4zM1087 882.2l15.2 26.2h-30.4zM1087 884.6l15.2 26.2h-30.4zM1087 887l15.2 26.2h-30.4zM1087 889.3l15.2 26.2h-30.4zM1087 891.7l15.2 26.2h-30.4zM1087 894.1l15.2 26.2h-30.4zM1087 896.4l15.2 26.2h-30.4zM1089.3 486.1l15.2 26.2h-30.4zM1089.3 863.2l15.2 26.2h-30.4zM1089.3 865.6l15.2 26.2h-30.4zM1089.3 868l15.2 26.2h-30.4zM1089.3 870.3l15.2 26.2h-30.4zM1089.3 872.7l15.2 26.2h-30.4zM1089.3 875.1l15.2 26.2h-30.4zM1089.3 877.5l15.2 26.2h-30.4zM1089.3 879.8l15.2 26.2h-30.4zM1089.3 882.2l15.2 26.2h-30.4zM1089.3 884.6l15.2 26.2h-30.4zM1089.3 887l15.2 26.2h-30.4zM1089.3 889.3l15.2 26.2h-30.4zM1089.3 891.7l15.2 26.2h-30.4zM1089.3 894.1l15.2 26.2h-30.4zM1091.7 860.9l15.2 26.2h-30.4zM1091.7 863.2l15.2 26.2h-30.4zM1091.7 865.6l15.2 26.2h-30.4zM1091.7 868l15.2 26.2h-30.4zM1091.7 870.3l15.2 26.2h-30.4zM1091.7 872.7l15.2 26.2h-30.4zM1091.7 875.1l15.2 26.2h-30.4zM1091.7 877.5l15.2 26.2h-30.4zM1091.7 879.8l15.2 26.2h-30.4zM1091.7 882.2l15.2 26.2h-30.4zM1091.7 884.6l15.2 26.2h-30.4zM1094.1 858.5l15.2 26.2h-30.4zM1094.1 860.9l15.2 26.2h-30.4zM1094.1 863.2l15.2 26.2h-30.4zM1094.1 865.6l15.2 26.2h-30.4zM1094.1 868l15.2 26.2h-30.4zM1094.1 870.3l15.2 26.2h-30.4zM1094.1 872.7l15.2 26.2h-30.4zM1094.1 875.1l15.2 26.2h-30.4zM1096.5 858.5l15.2 26.2h-30.4zM1096.5 860.9l15.2 26.2h-30.4zM1096.5 863.2l15.2 26.2h-30.4zM1096.5 865.6l15.2 26.2h-30.4zM1096.5 868l15.2 26.2h-30.4zM1096.5 870.3l15.2 26.2h-30.4zM1096.5 872.7l15.2 26.2h-30.4zM1098.8 858.5l15.2 26.2h-30.4zM1098.8 860.9l15.2 26.2h-30.4zM1098.8 863.2l15.2 26.2h-30.4zM1098.8 865.6l15.2 26.2h-30.4zM1098.8 868l15.2 26.2h-30.4zM1098.8 870.3l15.2 26.2h-30.4zM1101.2 858.5l15.2 26.2h-30.4zM1101.2 860.9l15.2 26.2h-30.4zM1101.2 863.2l15.2 26.2h-30.4zM1101.2 865.6l15.2 26.2h-30.4zM1101.2 868l15.2 26.2h-30.4zM1103.6 863.2l15.2 26.2h-30.4zM1103.6 865.6l15.2 26.2h-30.4zM1105.9 865.6l15.2 26.2h-30.4zM1113.1 787.3l15.2 26.2h-30.4zM1117.8 787.3l15.2 26.2h-30.4zM1234 1069.6l15.2 26.2h-30.4zM1234 1072l15.2 26.2h-30.4zM1236.4 1069.6l15.2 26.2h-30.4zM1236.4 1072l15.2 26.2h-30.4zM1236.4 1074.4l15.2 26.2h-30.4zM1238.8 1074.4l15.2 26.2h-30.4zM1238.8 1076.7l15.2 26.2h-30.4zM1260.1 320l15.2 26.2h-30.4zM1260.1 322.4l15.2 26.2h-30.4zM1260.1 324.7l15.2 26.2h-30.4zM1260.1 327.1l15.2 26.2h-30.4zM1260.1 462.3l15.2 26.2h-30.4zM1262.5 1091l15.2 26.2h-30.4zM1264.9 1091l15.2 26.2h-30.4zM1264.9 1093.3l15.2 26.2h-30.4zM1264.9 1098.1l15.2 26.2h-30.4zM1267.3 1091l15.2 26.2h-30.4zM1269.6 1091l15.2 26.2h-30.4zM1312.3 1076.7l15.2 26.2h-30.4zM1312.3 1083.8l15.2 26.2h-30.4zM1312.3 1086.2l15.2 26.2h-30.4zM1312.3 1088.6l15.2 26.2h-30.4zM1312.3 1091l15.2 26.2h-30.4zM1312.3 1093.3l15.2 26.2h-30.4zM1312.3 1098.1l15.2 26.2h-30.4zM1312.3 1128.9l15.2 26.2h-30.4zM1312.3 1131.3l15.2 26.2h-30.4zM1314.7 1091l15.2 26.2h-30.4zM1317.1 1095.7l15.2 26.2h-30.4zM1319.4 1150.3l15.2 26.2h-30.4zM1321.8 1098.1l15.2 26.2h-30.4zM1321.8 1152.6l15.2 26.2h-30.4zM1321.8 1155l15.2 26.2h-30.4zM1324.2 1152.6l15.2 26.2h-30.4zM1331.3 1155l15.2 26.2h-30.4zM1338.4 1155l15.2 26.2h-30.4zM1345.5 1155l15.2 26.2h-30.4zM1352.7 1050.6l15.2 26.2h-30.4zM1352.7 1057.8l15.2 26.2h-30.4zM1352.7 1155l15.2 26.2h-30.4zM1352.7 1171.6l15.2 26.2h-30.4zM1352.7 1178.7l15.2 26.2h-30.4zM1355 1053l15.2 26.2h-30.4zM1359.8 1050.6l15.2 26.2h-30.4zM1359.8 1155l15.2 26.2h-30.4zM1381.1 1128.9l15.2 26.2h-30.4zM1381.1 1131.3l15.2 26.2h-30.4zM1381.1 1133.7l15.2 26.2h-30.4zM1381.1 1136l15.2 26.2h-30.4zM1381.1 1138.4l15.2 26.2h-30.4zM1381.1 1140.8l15.2 26.2h-30.4zM1381.1 1143.2l15.2 26.2h-30.4zM1381.1 1145.5l15.2 26.2h-30.4zM1381.1 1147.9l15.2 26.2h-30.4zM1381.1 1150.3l15.2 26.2h-30.4zM1381.1 1152.6l15.2 26.2h-30.4zM1381.1 1155l15.2 26.2h-30.4zM1381.1 1157.4l15.2 26.2h-30.4zM1381.1 1159.8l15.2 26.2h-30.4zM1381.1 1162.1l15.2 26.2h-30.4zM1383.5 464.7l15.2 26.2h-30.4zM1383.5 728l15.2 26.2h-30.4zM1383.5 1126.5l15.2 26.2h-30.4zM1383.5 1128.9l15.2 26.2h-30.4zM1383.5 1131.3l15.2 26.2h-30.4zM1383.5 1133.7l15.2 26.2h-30.4zM1383.5 1136l15.2 26.2h-30.4zM1383.5 1138.4l15.2 26.2h-30.4zM1383.5 1140.8l15.2 26.2h-30.4zM1383.5 1143.2l15.2 26.2h-30.4zM1383.5 1145.5l15.2 26.2h-30.4zM1383.5 1147.9l15.2 26.2h-30.4zM1383.5 1150.3l15.2 26.2h-30.4zM1383.5 1152.6l15.2 26.2h-30.4zM1383.5 1155l15.2 26.2h-30.4zM1383.5 1157.4l15.2 26.2h-30.4zM1383.5 1159.8l15.2 26.2h-30.4zM1383.5 1162.1l15.2 26.2h-30.4zM1383.5 1164.5l15.2 26.2h-30.4zM1385.9 464.7l15.2 26.2h-30.4zM1385.9 728l15.2 26.2h-30.4zM1385.9 730.4l15.2 26.2h-30.4zM1385.9 951l15.2 26.2h-30.4zM1385.9 1128.9l15.2 26.2h-30.4zM1385.9 1131.3l15.2 26.2h-30.4zM1385.9 1133.7l15.2 26.2h-30.4zM1385.9 1136l15.2 26.2h-30.4zM1385.9 1138.4l15.2 26.2h-30.4zM1385.9 1140.8l15.2 26.2h-30.4zM1385.9 1143.2l15.2 26.2h-30.4zM1385.9 1145.5l15.2 26.2h-30.4zM1385.9 1147.9l15.2 26.2h-30.4zM1385.9 1150.3l15.2 26.2h-30.4zM1385.9 1152.6l15.2 26.2h-30.4zM1385.9 1155l15.2 26.2h-30.4zM1385.9 1157.4l15.2 26.2h-30.4zM1385.9 1159.8l15.2 26.2h-30.4zM1385.9 1162.1l15.2 26.2h-30.4zM1385.9 1164.5l15.2 26.2h-30.4zM1385.9 1171.6l15.2 26.2h-30.4zM1385.9 1204.8l15.2 26.2h-30.4zM1385.9 1211.9l15.2 26.2h-30.4zM1385.9 1214.3l15.2 26.2h-30.4zM1388.2 464.7l15.2 26.2h-30.4zM1388.2 951l15.2 26.2h-30.4zM1388.2 1133.7l15.2 26.2h-30.4zM1388.2 1136l15.2 26.2h-30.4zM1388.2 1138.4l15.2 26.2h-30.4zM1388.2 1140.8l15.2 26.2h-30.4zM1388.2 1143.2l15.2 26.2h-30.4zM1388.2 1145.5l15.2 26.2h-30.4zM1388.2 1147.9l15.2 26.2h-30.4zM1388.2 1150.3l15.2 26.2h-30.4zM1388.2 1152.6l15.2 26.2h-30.4zM1388.2 1155l15.2 26.2h-30.4zM1388.2 1157.4l15.2 26.2h-30.4zM1388.2 1159.8l15.2 26.2h-30.4zM1388.2 1162.1l15.2 26.2h-30.4zM1390.6 1136l15.2 26.2h-30.4zM1390.6 1138.4l15.2 26.2h-30.4zM1390.6 1140.8l15.2 26.2h-30.4zM1390.6 1143.2l15.2 26.2h-30.4zM1390.6 1145.5l15.2 26.2h-30.4zM1390.6 1147.9l15.2 26.2h-30.4zM1390.6 1150.3l15.2 26.2h-30.4zM1390.6 1152.6l15.2 26.2h-30.4zM1390.6 1155l15.2 26.2h-30.4zM1390.6 1157.4l15.2 26.2h-30.4zM1393 1138.4l15.2 26.2h-30.4zM1393 1140.8l15.2 26.2h-30.4zM1393 1143.2l15.2 26.2h-30.4zM1393 1145.5l15.2 26.2h-30.4zM1393 1147.9l15.2 26.2h-30.4zM1393 1150.3l15.2 26.2h-30.4zM1393 1152.6l15.2 26.2h-30.4zM1393 1155l15.2 26.2h-30.4zM1395.4 1143.2l15.2 26.2h-30.4zM1395.4 1145.5l15.2 26.2h-30.4zM1395.4 1147.9l15.2 26.2h-30.4zM1395.4 1150.3l15.2 26.2h-30.4zM1468.9 728l15.2 26.2h-30.4zM1471.3 730.4l15.2 26.2h-30.4zM1473.6 320l15.2 26.2h-30.4zM1473.6 322.4l15.2 26.2h-30.4zM1473.6 327.1l15.2 26.2h-30.4zM1473.6 732.8l15.2 26.2h-30.4zM1473.6 735.1l15.2 26.2h-30.4zM1473.6 1276l15.2 26.2h-30.4zM1473.6 1278.4l15.2 26.2h-30.4zM1473.6 1280.7l15.2 26.2h-30.4zM1476 1252.3l15.2 26.2h-30.4zM1476 1271.2l15.2 26.2h-30.4zM1476 1273.6l15.2 26.2h-30.4zM1476 1278.4l15.2 26.2h-30.4zM1478.4 1266.5l15.2 26.2h-30.4zM1478.4 1268.9l15.2 26.2h-30.4zM1478.4 1273.6l15.2 26.2h-30.4zM1478.4 1276l15.2 26.2h-30.4zM1478.4 1280.7l15.2 26.2h-30.4zM1480.8 1171.6l15.2 26.2h-30.4zM1480.8 1261.8l15.2 26.2h-30.4zM1480.8 1264.1l15.2 26.2h-30.4zM1480.8 1268.9l15.2 26.2h-30.4zM1480.8 1273.6l15.2 26.2h-30.4zM1480.8 1278.4l15.2 26.2h-30.4zM1483.1 1266.5l15.2 26.2h-30.4zM1487.9 1261.8l15.2 26.2h-30.4zM1490.2 1171.6l15.2 26.2h-30.4zM1490.2 1252.3l15.2 26.2h-30.4zM1490.2 1278.4l15.2 26.2h-30.4z"/>
<path stroke="#ff0000" d="M1202.4 72.5l15.2 26.2h-30.4z"/>
<path stroke="#0000ff" d="M1191 138.5h22.9v22.9h-22.9z"/>
</g>
<text x="1248" y="108" font-size="50">DNCON2-RR</text>
<text x="1248" y="168" font-size="50">Model-RR</text>
<text x="201" y="1451.5" font-size="103.6">Top-2L</text>
<g fill="none" stroke="#000" stroke-width="3.2" stroke-linecap="round" stroke-linejoin="round">
<rect x="120" y="30.2" width="1450" height="1449.6"/>
<path d="M171.30 1480V1510.2M120 81.30H89.7M408.52 1480V1510.2M120 318.52H89.7M645.74 1480V1510.2M120 555.74H89.7M882.96 1480V1510.2M120 792.96H89.7M1120.18 1480V1510.2M120 1030.18H89.7M1357.40 1480V1510.2M120 1267.40H89.7"/>
</g>
<text transform="translate(171.30 1588) scale(0.967 1)" font-size="50" text-anchor="middle">0</text>
<text transform="translate(49 82.00) rotate(-90) scale(0.957 1.05)" font-size="50" text-anchor="middle">0</text>
<text transform="translate(408.52 1588) scale(0.967 1)" font-size="50" text-anchor="middle">100</text>
<text transform="translate(49 319.22) rotate(-90) scale(0.957 1.05)" font-size="50" text-anchor="middle">100</text>
<text transform="translate(645.74 1588) scale(0.967 1)" font-size="50" text-anchor="middle">200</text>
<text transform="translate(49 556.44) rotate(-90) scale(0.957 1.05)" font-size="50" text-anchor="middle">200</text>
<text transform="translate(882.96 1588) scale(0.967 1)" font-size="50" text-anchor="middle">300</text>
<text transform="translate(49 793.66) rotate(-90) scale(0.957 1.05)" font-size="50" text-anchor="middle">300</text>
<text transform="translate(1120.18 1588) scale(0.967 1)" font-size="50" text-anchor="middle">400</text>
<text transform="translate(49 1030.88) rotate(-90) scale(0.957 1.05)" font-size="50" text-anchor="middle">400</text>
<text transform="translate(1357.40 1588) scale(0.967 1)" font-size="50" text-anchor="middle">500</text>
<text transform="translate(49 1268.10) rotate(-90) scale(0.957 1.05)" font-size="50" text-anchor="middle">500</text>
</svg></body></html>
